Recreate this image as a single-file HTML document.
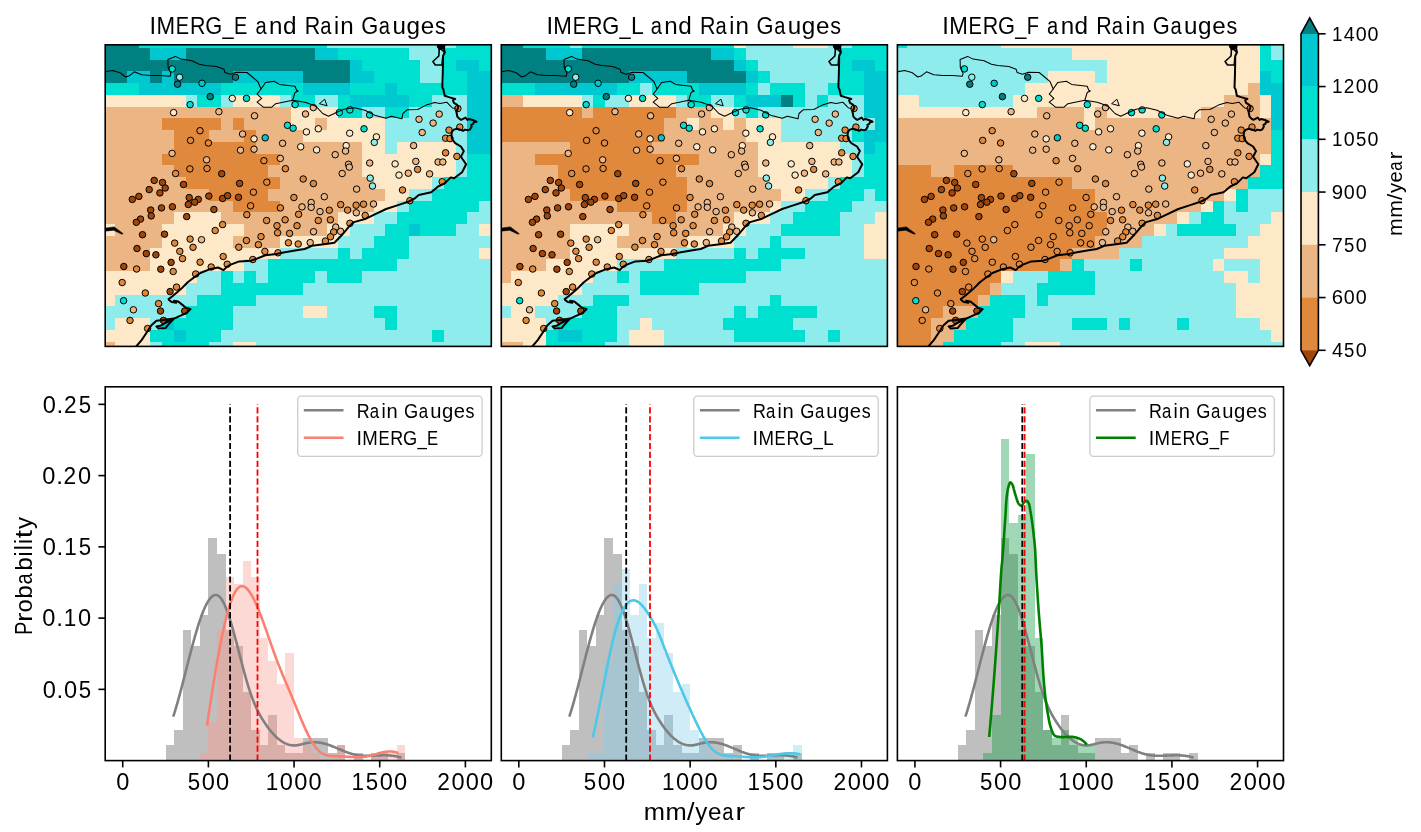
<!DOCTYPE html><html><head><meta charset="utf-8"><style>html,body{margin:0;padding:0;background:#fff;overflow:hidden}svg{display:block;will-change:transform}</style></head><body>
<svg width="1421" height="832" viewBox="0 0 1421 832">
<rect width="1421" height="832" fill="#fff"/>
<defs>
<clipPath id="mc0"><rect x="105.2" y="44.8" width="386.1" height="301.6"/></clipPath>
<clipPath id="mc1"><rect x="501.3" y="44.8" width="386.1" height="301.6"/></clipPath>
<clipPath id="mc2"><rect x="897.4" y="44.8" width="386.1" height="301.6"/></clipPath>
</defs>
<g clip-path="url(#mc0)" shape-rendering="crispEdges">
<rect x="103.41" y="36.2" width="35.28" height="11.8" fill="#008080"/>
<rect x="138.64" y="36.2" width="187.94" height="11.8" fill="#00e0d0"/>
<rect x="326.53" y="36.2" width="129.22" height="11.8" fill="#8eecec"/>
<rect x="455.7" y="36.2" width="35.28" height="11.8" fill="#00e0d0"/>
<rect x="103.41" y="47.95" width="47.02" height="11.8" fill="#008080"/>
<rect x="150.38" y="47.95" width="35.28" height="11.8" fill="#00c8d0"/>
<rect x="185.61" y="47.95" width="129.22" height="11.8" fill="#008080"/>
<rect x="314.78" y="47.95" width="23.54" height="11.8" fill="#00c8d0"/>
<rect x="338.27" y="47.95" width="70.51" height="11.8" fill="#00e0d0"/>
<rect x="408.73" y="47.95" width="35.28" height="11.8" fill="#8eecec"/>
<rect x="443.96" y="47.95" width="47.02" height="11.8" fill="#00e0d0"/>
<rect x="103.41" y="59.7" width="246.65" height="11.8" fill="#008080"/>
<rect x="350.01" y="59.7" width="11.79" height="11.8" fill="#00c8d0"/>
<rect x="361.76" y="59.7" width="58.77" height="11.8" fill="#00e0d0"/>
<rect x="420.47" y="59.7" width="23.54" height="11.8" fill="#8eecec"/>
<rect x="443.96" y="59.7" width="11.79" height="11.8" fill="#00e0d0"/>
<rect x="455.7" y="59.7" width="23.54" height="11.8" fill="#00c8d0"/>
<rect x="479.19" y="59.7" width="11.79" height="11.8" fill="#00e0d0"/>
<rect x="103.41" y="71.45" width="23.54" height="11.8" fill="#008080"/>
<rect x="126.9" y="71.45" width="23.54" height="11.8" fill="#00c8d0"/>
<rect x="150.38" y="71.45" width="11.79" height="11.8" fill="#008080"/>
<rect x="162.12" y="71.45" width="11.79" height="11.8" fill="#00c8d0"/>
<rect x="173.87" y="71.45" width="58.77" height="11.8" fill="#008080"/>
<rect x="232.58" y="71.45" width="70.51" height="11.8" fill="#00c8d0"/>
<rect x="303.04" y="71.45" width="47.02" height="11.8" fill="#008080"/>
<rect x="350.01" y="71.45" width="23.54" height="11.8" fill="#00c8d0"/>
<rect x="373.5" y="71.45" width="47.02" height="11.8" fill="#00e0d0"/>
<rect x="420.47" y="71.45" width="23.54" height="11.8" fill="#8eecec"/>
<rect x="443.96" y="71.45" width="23.54" height="11.8" fill="#00e0d0"/>
<rect x="467.44" y="71.45" width="23.54" height="11.8" fill="#00c8d0"/>
<rect x="103.41" y="83.2" width="35.28" height="11.8" fill="#00e0d0"/>
<rect x="138.64" y="83.2" width="82.25" height="11.8" fill="#00c8d0"/>
<rect x="220.84" y="83.2" width="82.25" height="11.8" fill="#00e0d0"/>
<rect x="303.04" y="83.2" width="47.02" height="11.8" fill="#00c8d0"/>
<rect x="350.01" y="83.2" width="35.28" height="11.8" fill="#00e0d0"/>
<rect x="385.24" y="83.2" width="11.79" height="11.8" fill="#00c8d0"/>
<rect x="396.99" y="83.2" width="70.51" height="11.8" fill="#00e0d0"/>
<rect x="467.44" y="83.2" width="23.54" height="11.8" fill="#00c8d0"/>
<rect x="103.41" y="94.95" width="82.25" height="11.8" fill="#fde8c8"/>
<rect x="185.61" y="94.95" width="11.79" height="11.8" fill="#8eecec"/>
<rect x="197.35" y="94.95" width="23.54" height="11.8" fill="#00e0d0"/>
<rect x="220.84" y="94.95" width="11.79" height="11.8" fill="#8eecec"/>
<rect x="232.58" y="94.95" width="47.02" height="11.8" fill="#fde8c8"/>
<rect x="279.56" y="94.95" width="11.79" height="11.8" fill="#8eecec"/>
<rect x="291.3" y="94.95" width="23.54" height="11.8" fill="#00e0d0"/>
<rect x="314.78" y="94.95" width="23.54" height="11.8" fill="#8eecec"/>
<rect x="338.27" y="94.95" width="11.79" height="11.8" fill="#00e0d0"/>
<rect x="350.01" y="94.95" width="58.76" height="11.8" fill="#00c8d0"/>
<rect x="408.73" y="94.95" width="23.54" height="11.8" fill="#00e0d0"/>
<rect x="432.21" y="94.95" width="35.28" height="11.8" fill="#8eecec"/>
<rect x="467.44" y="94.95" width="23.54" height="11.8" fill="#00c8d0"/>
<rect x="103.41" y="106.7" width="187.94" height="11.8" fill="#ebb584"/>
<rect x="291.3" y="106.7" width="47.02" height="11.8" fill="#fde8c8"/>
<rect x="338.27" y="106.7" width="23.54" height="11.8" fill="#00e0d0"/>
<rect x="361.76" y="106.7" width="23.54" height="11.8" fill="#8eecec"/>
<rect x="385.24" y="106.7" width="23.54" height="11.8" fill="#00e0d0"/>
<rect x="408.73" y="106.7" width="58.77" height="11.8" fill="#8eecec"/>
<rect x="467.44" y="106.7" width="23.54" height="11.8" fill="#00c8d0"/>
<rect x="103.41" y="118.45" width="58.77" height="11.8" fill="#ebb584"/>
<rect x="162.12" y="118.45" width="58.77" height="11.8" fill="#e0883c"/>
<rect x="220.84" y="118.45" width="11.79" height="11.8" fill="#ebb584"/>
<rect x="232.58" y="118.45" width="11.79" height="11.8" fill="#e0883c"/>
<rect x="244.33" y="118.45" width="47.02" height="11.8" fill="#ebb584"/>
<rect x="291.3" y="118.45" width="23.54" height="11.8" fill="#fde8c8"/>
<rect x="314.78" y="118.45" width="11.79" height="11.8" fill="#ebb584"/>
<rect x="326.53" y="118.45" width="58.76" height="11.8" fill="#fde8c8"/>
<rect x="385.24" y="118.45" width="82.25" height="11.8" fill="#8eecec"/>
<rect x="467.44" y="118.45" width="23.54" height="11.8" fill="#00c8d0"/>
<rect x="103.41" y="130.2" width="70.51" height="11.8" fill="#ebb584"/>
<rect x="173.87" y="130.2" width="35.28" height="11.8" fill="#e0883c"/>
<rect x="209.1" y="130.2" width="35.28" height="11.8" fill="#ebb584"/>
<rect x="244.33" y="130.2" width="11.79" height="11.8" fill="#e0883c"/>
<rect x="256.07" y="130.2" width="47.02" height="11.8" fill="#ebb584"/>
<rect x="303.04" y="130.2" width="82.25" height="11.8" fill="#fde8c8"/>
<rect x="385.24" y="130.2" width="82.25" height="11.8" fill="#8eecec"/>
<rect x="467.44" y="130.2" width="23.54" height="11.8" fill="#00c8d0"/>
<rect x="103.41" y="141.95" width="70.51" height="11.8" fill="#ebb584"/>
<rect x="173.87" y="141.95" width="82.25" height="11.8" fill="#e0883c"/>
<rect x="256.07" y="141.95" width="105.74" height="11.8" fill="#ebb584"/>
<rect x="361.76" y="141.95" width="23.54" height="11.8" fill="#fde8c8"/>
<rect x="385.24" y="141.95" width="11.79" height="11.8" fill="#8eecec"/>
<rect x="396.99" y="141.95" width="58.77" height="11.8" fill="#fde8c8"/>
<rect x="455.7" y="141.95" width="11.79" height="11.8" fill="#8eecec"/>
<rect x="467.44" y="141.95" width="23.54" height="11.8" fill="#00c8d0"/>
<rect x="103.41" y="153.7" width="58.77" height="11.8" fill="#ebb584"/>
<rect x="162.12" y="153.7" width="117.48" height="11.8" fill="#e0883c"/>
<rect x="279.56" y="153.7" width="82.25" height="11.8" fill="#ebb584"/>
<rect x="361.76" y="153.7" width="93.99" height="11.8" fill="#fde8c8"/>
<rect x="455.7" y="153.7" width="11.79" height="11.8" fill="#8eecec"/>
<rect x="467.44" y="153.7" width="23.54" height="11.8" fill="#00e0d0"/>
<rect x="103.41" y="165.45" width="70.51" height="11.8" fill="#ebb584"/>
<rect x="173.87" y="165.45" width="93.99" height="11.8" fill="#e0883c"/>
<rect x="267.81" y="165.45" width="93.99" height="11.8" fill="#ebb584"/>
<rect x="361.76" y="165.45" width="93.99" height="11.8" fill="#fde8c8"/>
<rect x="455.7" y="165.45" width="11.79" height="11.8" fill="#8eecec"/>
<rect x="467.44" y="165.45" width="23.54" height="11.8" fill="#00e0d0"/>
<rect x="103.41" y="177.2" width="82.25" height="11.8" fill="#ebb584"/>
<rect x="185.61" y="177.2" width="93.99" height="11.8" fill="#e0883c"/>
<rect x="279.56" y="177.2" width="93.99" height="11.8" fill="#ebb584"/>
<rect x="373.5" y="177.2" width="58.77" height="11.8" fill="#fde8c8"/>
<rect x="432.21" y="177.2" width="11.79" height="11.8" fill="#8eecec"/>
<rect x="443.96" y="177.2" width="47.02" height="11.8" fill="#00e0d0"/>
<rect x="103.41" y="188.95" width="105.74" height="11.8" fill="#ebb584"/>
<rect x="209.1" y="188.95" width="58.77" height="11.8" fill="#e0883c"/>
<rect x="267.81" y="188.95" width="117.48" height="11.8" fill="#ebb584"/>
<rect x="385.24" y="188.95" width="23.54" height="11.8" fill="#fde8c8"/>
<rect x="408.73" y="188.95" width="23.54" height="11.8" fill="#8eecec"/>
<rect x="432.21" y="188.95" width="58.76" height="11.8" fill="#00e0d0"/>
<rect x="103.41" y="200.7" width="129.22" height="11.8" fill="#ebb584"/>
<rect x="232.58" y="200.7" width="47.02" height="11.8" fill="#e0883c"/>
<rect x="279.56" y="200.7" width="93.99" height="11.8" fill="#ebb584"/>
<rect x="373.5" y="200.7" width="23.54" height="11.8" fill="#fde8c8"/>
<rect x="396.99" y="200.7" width="11.79" height="11.8" fill="#8eecec"/>
<rect x="408.73" y="200.7" width="70.51" height="11.8" fill="#00e0d0"/>
<rect x="479.19" y="200.7" width="11.79" height="11.8" fill="#8eecec"/>
<rect x="103.41" y="212.45" width="70.51" height="11.8" fill="#ebb584"/>
<rect x="173.87" y="212.45" width="47.02" height="11.8" fill="#fde8c8"/>
<rect x="220.84" y="212.45" width="117.48" height="11.8" fill="#ebb584"/>
<rect x="338.27" y="212.45" width="35.28" height="11.8" fill="#fde8c8"/>
<rect x="373.5" y="212.45" width="23.54" height="11.8" fill="#8eecec"/>
<rect x="396.99" y="212.45" width="70.51" height="11.8" fill="#00e0d0"/>
<rect x="467.44" y="212.45" width="23.54" height="11.8" fill="#8eecec"/>
<rect x="103.41" y="224.2" width="11.79" height="11.8" fill="#fde8c8"/>
<rect x="115.15" y="224.2" width="47.02" height="11.8" fill="#ebb584"/>
<rect x="162.12" y="224.2" width="82.25" height="11.8" fill="#fde8c8"/>
<rect x="244.33" y="224.2" width="82.25" height="11.8" fill="#ebb584"/>
<rect x="326.53" y="224.2" width="23.54" height="11.8" fill="#fde8c8"/>
<rect x="350.01" y="224.2" width="35.28" height="11.8" fill="#8eecec"/>
<rect x="385.24" y="224.2" width="23.54" height="11.8" fill="#00e0d0"/>
<rect x="408.73" y="224.2" width="11.79" height="11.8" fill="#00c8d0"/>
<rect x="420.47" y="224.2" width="35.28" height="11.8" fill="#00e0d0"/>
<rect x="455.7" y="224.2" width="23.54" height="11.8" fill="#8eecec"/>
<rect x="479.19" y="224.2" width="11.79" height="11.8" fill="#fde8c8"/>
<rect x="103.41" y="235.95" width="58.77" height="11.8" fill="#ebb584"/>
<rect x="162.12" y="235.95" width="70.51" height="11.8" fill="#fde8c8"/>
<rect x="232.58" y="235.95" width="47.02" height="11.8" fill="#ebb584"/>
<rect x="279.56" y="235.95" width="58.76" height="11.8" fill="#fde8c8"/>
<rect x="338.27" y="235.95" width="35.28" height="11.8" fill="#8eecec"/>
<rect x="373.5" y="235.95" width="35.28" height="11.8" fill="#00e0d0"/>
<rect x="408.73" y="235.95" width="82.25" height="11.8" fill="#8eecec"/>
<rect x="103.41" y="247.7" width="47.02" height="11.8" fill="#ebb584"/>
<rect x="150.38" y="247.7" width="129.22" height="11.8" fill="#fde8c8"/>
<rect x="279.56" y="247.7" width="58.76" height="11.8" fill="#8eecec"/>
<rect x="338.27" y="247.7" width="11.79" height="11.8" fill="#00e0d0"/>
<rect x="350.01" y="247.7" width="11.79" height="11.8" fill="#8eecec"/>
<rect x="361.76" y="247.7" width="47.02" height="11.8" fill="#00e0d0"/>
<rect x="408.73" y="247.7" width="70.51" height="11.8" fill="#8eecec"/>
<rect x="479.19" y="247.7" width="11.79" height="11.8" fill="#fde8c8"/>
<rect x="103.41" y="259.45" width="47.02" height="11.8" fill="#ebb584"/>
<rect x="150.38" y="259.45" width="93.99" height="11.8" fill="#fde8c8"/>
<rect x="244.33" y="259.45" width="23.54" height="11.8" fill="#8eecec"/>
<rect x="267.81" y="259.45" width="129.22" height="11.8" fill="#00e0d0"/>
<rect x="396.99" y="259.45" width="93.99" height="11.8" fill="#8eecec"/>
<rect x="103.41" y="271.2" width="93.99" height="11.8" fill="#fde8c8"/>
<rect x="197.35" y="271.2" width="23.54" height="11.8" fill="#8eecec"/>
<rect x="220.84" y="271.2" width="11.79" height="11.8" fill="#00e0d0"/>
<rect x="232.58" y="271.2" width="11.79" height="11.8" fill="#8eecec"/>
<rect x="244.33" y="271.2" width="11.79" height="11.8" fill="#00e0d0"/>
<rect x="256.07" y="271.2" width="11.79" height="11.8" fill="#8eecec"/>
<rect x="267.81" y="271.2" width="47.02" height="11.8" fill="#00e0d0"/>
<rect x="314.78" y="271.2" width="11.79" height="11.8" fill="#8eecec"/>
<rect x="326.53" y="271.2" width="35.28" height="11.8" fill="#00e0d0"/>
<rect x="361.76" y="271.2" width="129.22" height="11.8" fill="#8eecec"/>
<rect x="103.41" y="282.95" width="82.25" height="11.8" fill="#fde8c8"/>
<rect x="185.61" y="282.95" width="35.28" height="11.8" fill="#8eecec"/>
<rect x="220.84" y="282.95" width="82.25" height="11.8" fill="#00e0d0"/>
<rect x="303.04" y="282.95" width="187.94" height="11.8" fill="#8eecec"/>
<rect x="103.41" y="294.7" width="11.79" height="11.8" fill="#fde8c8"/>
<rect x="115.15" y="294.7" width="82.25" height="11.8" fill="#8eecec"/>
<rect x="197.35" y="294.7" width="58.76" height="11.8" fill="#00e0d0"/>
<rect x="256.07" y="294.7" width="234.91" height="11.8" fill="#8eecec"/>
<rect x="103.41" y="306.45" width="82.25" height="11.8" fill="#8eecec"/>
<rect x="185.61" y="306.45" width="47.02" height="11.8" fill="#00e0d0"/>
<rect x="232.58" y="306.45" width="70.51" height="11.8" fill="#8eecec"/>
<rect x="303.04" y="306.45" width="23.54" height="11.8" fill="#fde8c8"/>
<rect x="326.53" y="306.45" width="47.02" height="11.8" fill="#8eecec"/>
<rect x="373.5" y="306.45" width="23.54" height="11.8" fill="#00e0d0"/>
<rect x="396.99" y="306.45" width="93.99" height="11.8" fill="#8eecec"/>
<rect x="103.41" y="318.2" width="11.79" height="11.8" fill="#8eecec"/>
<rect x="115.15" y="318.2" width="35.28" height="11.8" fill="#fde8c8"/>
<rect x="150.38" y="318.2" width="11.79" height="11.8" fill="#8eecec"/>
<rect x="162.12" y="318.2" width="11.79" height="11.8" fill="#00c8d0"/>
<rect x="173.87" y="318.2" width="58.77" height="11.8" fill="#00e0d0"/>
<rect x="232.58" y="318.2" width="152.71" height="11.8" fill="#8eecec"/>
<rect x="385.24" y="318.2" width="11.79" height="11.8" fill="#00e0d0"/>
<rect x="396.99" y="318.2" width="93.99" height="11.8" fill="#8eecec"/>
<rect x="103.41" y="329.95" width="47.02" height="11.8" fill="#fde8c8"/>
<rect x="150.38" y="329.95" width="23.54" height="11.8" fill="#00e0d0"/>
<rect x="173.87" y="329.95" width="11.79" height="11.8" fill="#00c8d0"/>
<rect x="185.61" y="329.95" width="35.28" height="11.8" fill="#00e0d0"/>
<rect x="220.84" y="329.95" width="211.42" height="11.8" fill="#8eecec"/>
<rect x="432.21" y="329.95" width="11.79" height="11.8" fill="#00e0d0"/>
<rect x="443.96" y="329.95" width="47.02" height="11.8" fill="#8eecec"/>
<rect x="103.41" y="341.7" width="11.79" height="11.8" fill="#ebb584"/>
<rect x="115.15" y="341.7" width="35.28" height="11.8" fill="#fde8c8"/>
<rect x="150.38" y="341.7" width="11.79" height="11.8" fill="#8eecec"/>
<rect x="162.12" y="341.7" width="47.02" height="11.8" fill="#00e0d0"/>
<rect x="209.1" y="341.7" width="23.54" height="11.8" fill="#8eecec"/>
<rect x="232.58" y="341.7" width="23.54" height="11.8" fill="#fde8c8"/>
<rect x="256.07" y="341.7" width="234.91" height="11.8" fill="#8eecec"/>
</g>
<g stroke="#000" stroke-width="1.0">
<circle cx="172.2" cy="68.9" r="3.25" fill="#00e0d0"/>
<circle cx="179.6" cy="77.2" r="3.25" fill="#8eecec"/>
<circle cx="177.6" cy="84.2" r="3.25" fill="#008080"/>
<circle cx="202" cy="83.3" r="3.25" fill="#00c8d0"/>
<circle cx="210.2" cy="96.6" r="3.25" fill="#008080"/>
<circle cx="190.1" cy="104.6" r="3.25" fill="#00e0d0"/>
<circle cx="173.6" cy="112.6" r="3.25" fill="#fde8c8"/>
<circle cx="218.9" cy="111.7" r="3.25" fill="#ebb584"/>
<circle cx="235.5" cy="77.2" r="3.25" fill="#008080"/>
<circle cx="232.3" cy="98.4" r="3.25" fill="#fde8c8"/>
<circle cx="246.5" cy="98.4" r="3.25" fill="#00e0d0"/>
<circle cx="254.5" cy="115.8" r="3.25" fill="#ebb584"/>
<circle cx="295.1" cy="104.6" r="3.25" fill="#00e0d0"/>
<circle cx="313.3" cy="107.6" r="3.25" fill="#ebb584"/>
<circle cx="305.5" cy="114" r="3.25" fill="#ebb584"/>
<circle cx="339.3" cy="112.6" r="3.25" fill="#00e0d0"/>
<circle cx="349.9" cy="109.9" r="3.25" fill="#00e0d0"/>
<circle cx="287.5" cy="125.3" r="3.25" fill="#00e0d0"/>
<circle cx="293.1" cy="128.2" r="3.25" fill="#00e0d0"/>
<circle cx="369.6" cy="114.9" r="3.25" fill="#00e0d0"/>
<circle cx="419" cy="119.3" r="3.25" fill="#ebb584"/>
<circle cx="439.2" cy="114.1" r="3.25" fill="#ebb584"/>
<circle cx="433.1" cy="123.1" r="3.25" fill="#ebb584"/>
<circle cx="457.9" cy="108.5" r="3.25" fill="#e0883c"/>
<circle cx="449" cy="130.1" r="3.25" fill="#e0883c"/>
<circle cx="459.8" cy="127.1" r="3.25" fill="#e0883c"/>
<circle cx="422.2" cy="132.5" r="3.25" fill="#ebb584"/>
<circle cx="445.6" cy="138.2" r="3.25" fill="#e0883c"/>
<circle cx="450" cy="138.6" r="3.25" fill="#e0883c"/>
<circle cx="413.6" cy="145.6" r="3.25" fill="#ebb584"/>
<circle cx="445.6" cy="152.8" r="3.25" fill="#e0883c"/>
<circle cx="456.9" cy="156.4" r="3.25" fill="#e0883c"/>
<circle cx="415.8" cy="161.4" r="3.25" fill="#ebb584"/>
<circle cx="417.6" cy="169.4" r="3.25" fill="#e0883c"/>
<circle cx="438.1" cy="162" r="3.25" fill="#ebb584"/>
<circle cx="442.8" cy="162" r="3.25" fill="#ebb584"/>
<circle cx="408.3" cy="173.2" r="3.25" fill="#ebb584"/>
<circle cx="429.6" cy="173.9" r="3.25" fill="#ebb584"/>
<circle cx="442.2" cy="181.7" r="3.25" fill="#e0883c"/>
<circle cx="409.8" cy="200.7" r="3.25" fill="#e0883c"/>
<circle cx="200" cy="130.7" r="3.25" fill="#e0883c"/>
<circle cx="190.5" cy="140.4" r="3.25" fill="#e0883c"/>
<circle cx="208.4" cy="143" r="3.25" fill="#e0883c"/>
<circle cx="172.1" cy="153.4" r="3.25" fill="#ebb584"/>
<circle cx="206.6" cy="159.8" r="3.25" fill="#ebb584"/>
<circle cx="189.9" cy="168.9" r="3.25" fill="#e0883c"/>
<circle cx="207" cy="168.5" r="3.25" fill="#e0883c"/>
<circle cx="175.6" cy="173.5" r="3.25" fill="#e0883c"/>
<circle cx="221.7" cy="173.7" r="3.25" fill="#a0460a"/>
<circle cx="154.2" cy="180.4" r="3.25" fill="#a0460a"/>
<circle cx="162.5" cy="182.5" r="3.25" fill="#a0460a"/>
<circle cx="183.5" cy="184.5" r="3.25" fill="#a0460a"/>
<circle cx="165.2" cy="188" r="3.25" fill="#a0460a"/>
<circle cx="149.2" cy="189.6" r="3.25" fill="#a0460a"/>
<circle cx="159.9" cy="192.9" r="3.25" fill="#a0460a"/>
<circle cx="138.9" cy="196.4" r="3.25" fill="#a0460a"/>
<circle cx="132.3" cy="199.4" r="3.25" fill="#a0460a"/>
<circle cx="189.2" cy="197.6" r="3.25" fill="#a0460a"/>
<circle cx="198.3" cy="199.4" r="3.25" fill="#a0460a"/>
<circle cx="194.7" cy="202.2" r="3.25" fill="#a0460a"/>
<circle cx="188.3" cy="204.5" r="3.25" fill="#a0460a"/>
<circle cx="208.8" cy="196.1" r="3.25" fill="#a0460a"/>
<circle cx="222.6" cy="198.5" r="3.25" fill="#a0460a"/>
<circle cx="227.6" cy="195.7" r="3.25" fill="#a0460a"/>
<circle cx="150.7" cy="210" r="3.25" fill="#a0460a"/>
<circle cx="161.5" cy="207.9" r="3.25" fill="#a0460a"/>
<circle cx="172.4" cy="206.8" r="3.25" fill="#a0460a"/>
<circle cx="151.2" cy="215.9" r="3.25" fill="#a0460a"/>
<circle cx="140.5" cy="219.1" r="3.25" fill="#a0460a"/>
<circle cx="136.3" cy="222.3" r="3.25" fill="#a0460a"/>
<circle cx="186.7" cy="216.6" r="3.25" fill="#a0460a"/>
<circle cx="213.9" cy="209.5" r="3.25" fill="#a0460a"/>
<circle cx="142.5" cy="234.7" r="3.25" fill="#a0460a"/>
<circle cx="164.5" cy="234.2" r="3.25" fill="#a0460a"/>
<circle cx="222.6" cy="224.6" r="3.25" fill="#e0883c"/>
<circle cx="215.2" cy="230.5" r="3.25" fill="#e0883c"/>
<circle cx="190.1" cy="239.1" r="3.25" fill="#e0883c"/>
<circle cx="201.5" cy="239.7" r="3.25" fill="#ebb584"/>
<circle cx="174.7" cy="243.1" r="3.25" fill="#e0883c"/>
<circle cx="193" cy="247.3" r="3.25" fill="#e0883c"/>
<circle cx="137" cy="248.5" r="3.25" fill="#a0460a"/>
<circle cx="179.8" cy="251.3" r="3.25" fill="#e0883c"/>
<circle cx="146.3" cy="253.6" r="3.25" fill="#a0460a"/>
<circle cx="155.9" cy="254.8" r="3.25" fill="#a0460a"/>
<circle cx="182.5" cy="258.6" r="3.25" fill="#e0883c"/>
<circle cx="223.2" cy="256.5" r="3.25" fill="#e0883c"/>
<circle cx="242.6" cy="134" r="3.25" fill="#ebb584"/>
<circle cx="254" cy="138.9" r="3.25" fill="#fde8c8"/>
<circle cx="265.2" cy="137.8" r="3.25" fill="#00c8d0"/>
<circle cx="306.4" cy="131.9" r="3.25" fill="#fde8c8"/>
<circle cx="318.3" cy="128.8" r="3.25" fill="#fde8c8"/>
<circle cx="349.7" cy="133.2" r="3.25" fill="#fde8c8"/>
<circle cx="282.6" cy="143.3" r="3.25" fill="#ebb584"/>
<circle cx="300.7" cy="146.8" r="3.25" fill="#fde8c8"/>
<circle cx="316.6" cy="149.9" r="3.25" fill="#fde8c8"/>
<circle cx="346.2" cy="145.6" r="3.25" fill="#fde8c8"/>
<circle cx="345.5" cy="151.1" r="3.25" fill="#ebb584"/>
<circle cx="335.2" cy="154.7" r="3.25" fill="#ebb584"/>
<circle cx="240.5" cy="150.2" r="3.25" fill="#ebb584"/>
<circle cx="254" cy="149.2" r="3.25" fill="#ebb584"/>
<circle cx="263.9" cy="160.7" r="3.25" fill="#e0883c"/>
<circle cx="280.3" cy="158.4" r="3.25" fill="#ebb584"/>
<circle cx="348.5" cy="164.3" r="3.25" fill="#ebb584"/>
<circle cx="349.3" cy="167.1" r="3.25" fill="#ebb584"/>
<circle cx="285.4" cy="168.7" r="3.25" fill="#e0883c"/>
<circle cx="342.2" cy="173.5" r="3.25" fill="#ebb584"/>
<circle cx="303.2" cy="179" r="3.25" fill="#e0883c"/>
<circle cx="313.4" cy="183.6" r="3.25" fill="#e0883c"/>
<circle cx="239.6" cy="183.4" r="3.25" fill="#a0460a"/>
<circle cx="266.8" cy="182.2" r="3.25" fill="#e0883c"/>
<circle cx="356.6" cy="189.1" r="3.25" fill="#ebb584"/>
<circle cx="364" cy="128.8" r="3.25" fill="#00e0d0"/>
<circle cx="376.4" cy="136.9" r="3.25" fill="#fde8c8"/>
<circle cx="374.3" cy="142.4" r="3.25" fill="#8eecec"/>
<circle cx="369.7" cy="163" r="3.25" fill="#ebb584"/>
<circle cx="395.1" cy="163.9" r="3.25" fill="#fde8c8"/>
<circle cx="399" cy="175.1" r="3.25" fill="#fde8c8"/>
<circle cx="370.2" cy="178.1" r="3.25" fill="#8eecec"/>
<circle cx="372.5" cy="186" r="3.25" fill="#8eecec"/>
<circle cx="402.5" cy="190" r="3.25" fill="#e0883c"/>
<circle cx="238.5" cy="197.3" r="3.25" fill="#a0460a"/>
<circle cx="253.4" cy="192.2" r="3.25" fill="#e0883c"/>
<circle cx="250.6" cy="205.8" r="3.25" fill="#e0883c"/>
<circle cx="246.8" cy="214.7" r="3.25" fill="#e0883c"/>
<circle cx="280.4" cy="207.9" r="3.25" fill="#e0883c"/>
<circle cx="293.9" cy="197.5" r="3.25" fill="#e0883c"/>
<circle cx="266.6" cy="220.5" r="3.25" fill="#e0883c"/>
<circle cx="285.1" cy="219.8" r="3.25" fill="#e0883c"/>
<circle cx="277" cy="225.7" r="3.25" fill="#e0883c"/>
<circle cx="277.6" cy="232.8" r="3.25" fill="#e0883c"/>
<circle cx="289.6" cy="233.4" r="3.25" fill="#e0883c"/>
<circle cx="297" cy="225.7" r="3.25" fill="#e0883c"/>
<circle cx="298.6" cy="214.3" r="3.25" fill="#e0883c"/>
<circle cx="302" cy="206.9" r="3.25" fill="#ebb584"/>
<circle cx="311.2" cy="202.5" r="3.25" fill="#ebb584"/>
<circle cx="311.2" cy="207.3" r="3.25" fill="#ebb584"/>
<circle cx="324.3" cy="196.7" r="3.25" fill="#ebb584"/>
<circle cx="320" cy="211.6" r="3.25" fill="#ebb584"/>
<circle cx="329.3" cy="210.2" r="3.25" fill="#e0883c"/>
<circle cx="340.7" cy="204.6" r="3.25" fill="#e0883c"/>
<circle cx="347.6" cy="210.1" r="3.25" fill="#e0883c"/>
<circle cx="318.3" cy="220.5" r="3.25" fill="#e0883c"/>
<circle cx="330.4" cy="219.8" r="3.25" fill="#e0883c"/>
<circle cx="313.5" cy="231.7" r="3.25" fill="#ebb584"/>
<circle cx="335.7" cy="227.1" r="3.25" fill="#ebb584"/>
<circle cx="333.6" cy="232" r="3.25" fill="#e0883c"/>
<circle cx="340.6" cy="231.3" r="3.25" fill="#ebb584"/>
<circle cx="330.5" cy="236.8" r="3.25" fill="#e0883c"/>
<circle cx="325.4" cy="241" r="3.25" fill="#e0883c"/>
<circle cx="349.9" cy="223.3" r="3.25" fill="#e0883c"/>
<circle cx="310.2" cy="242.6" r="3.25" fill="#ebb584"/>
<circle cx="298.2" cy="244" r="3.25" fill="#e0883c"/>
<circle cx="288.4" cy="242.8" r="3.25" fill="#e0883c"/>
<circle cx="261" cy="236.6" r="3.25" fill="#e0883c"/>
<circle cx="246.4" cy="240.5" r="3.25" fill="#e0883c"/>
<circle cx="258.4" cy="244.7" r="3.25" fill="#e0883c"/>
<circle cx="238.8" cy="247.2" r="3.25" fill="#e0883c"/>
<circle cx="264.9" cy="251.4" r="3.25" fill="#e0883c"/>
<circle cx="278" cy="252.8" r="3.25" fill="#e0883c"/>
<circle cx="252.8" cy="259.5" r="3.25" fill="#e0883c"/>
<circle cx="356.1" cy="205.2" r="3.25" fill="#e0883c"/>
<circle cx="363.5" cy="204.2" r="3.25" fill="#e0883c"/>
<circle cx="373.5" cy="204" r="3.25" fill="#ebb584"/>
<circle cx="356.3" cy="212.8" r="3.25" fill="#ebb584"/>
<circle cx="365.2" cy="215.4" r="3.25" fill="#e0883c"/>
<circle cx="171.1" cy="262.4" r="3.25" fill="#a0460a"/>
<circle cx="200.1" cy="262.2" r="3.25" fill="#e0883c"/>
<circle cx="227.2" cy="264.2" r="3.25" fill="#e0883c"/>
<circle cx="211.2" cy="267" r="3.25" fill="#e0883c"/>
<circle cx="123.8" cy="266.5" r="3.25" fill="#a0460a"/>
<circle cx="136.6" cy="269" r="3.25" fill="#e0883c"/>
<circle cx="160.8" cy="269.2" r="3.25" fill="#a0460a"/>
<circle cx="173.2" cy="271.5" r="3.25" fill="#e0883c"/>
<circle cx="195.7" cy="274" r="3.25" fill="#e0883c"/>
<circle cx="122.2" cy="282.5" r="3.25" fill="#e0883c"/>
<circle cx="145.3" cy="293" r="3.25" fill="#e0883c"/>
<circle cx="170.1" cy="291.6" r="3.25" fill="#a0460a"/>
<circle cx="176.5" cy="287.1" r="3.25" fill="#e0883c"/>
<circle cx="123.6" cy="300.7" r="3.25" fill="#00e0d0"/>
<circle cx="158.6" cy="303.6" r="3.25" fill="#e0883c"/>
<circle cx="133.4" cy="309.8" r="3.25" fill="#ebb584"/>
<circle cx="160.5" cy="311" r="3.25" fill="#a0460a"/>
<circle cx="184.7" cy="311" r="3.25" fill="#a0460a"/>
<circle cx="130" cy="320.4" r="3.25" fill="#e0883c"/>
<circle cx="163.4" cy="320.4" r="3.25" fill="#a0460a"/>
<circle cx="147.6" cy="328.5" r="3.25" fill="#e0883c"/>
</g>
<g fill="none" stroke="#000" stroke-linejoin="round" stroke-linecap="round" clip-path="url(#mc0)">
<polyline points="104,72 112.3,70.6 119.6,72.4 125.6,77 128.8,76.1 134.3,71.8 141.6,74.7 150.7,75.4 159.9,75.6 170,76.3 170.9,73.3 168.1,67.4 167.9,59.6 175.4,56.4 180.9,59.1 191.9,60.8 199.2,64.2 205.6,65.6 216.6,66.5 223.9,69.2 224.9,72.4 230.3,74.2 236.2,72.2 247,72.5 252.4,77 257.9,81.7 261,89 257.1,94.1 261.7,98.3 257.1,102.2 263.3,107.2 271.8,107.2 275.7,103.7 292.7,100.2 305,102.3 310,104 316.3,106.6 322.7,113.5 328.5,116.2 336.4,112.5 343.8,109.3 354.4,107.7 364.9,110.3 375.5,115.6 386,118.3 391.3,116.2 401.9,118.8 402.9,113.5 407.1,109.8 417.7,109.5 426.2,105.1 434.6,102.4 440,103.4 446.7,102.2 449.6,105.1 452.5,108 455.8,108.2" stroke-width="1.05"/>
<polyline points="261,89 265.6,82.4 274.1,81.3 279.5,84.4 295,86.3 296.6,90.2 298.1,91 295,92.5 292.7,100.2" stroke-width="1.05"/>
<polygon points="324.4,99.5 319.4,103.7 326.7,105.7" stroke-width="1.0"/>
<polyline points="135.3,347.5 141.6,340.1 147.2,331.7 151.4,325.3 156.4,320.8 163.4,320.1 174,318.6 168.3,324.6 165.5,328.1 158.5,328.5 156.4,326.4 160.5,325.8 166,322.5 174,318.6 181.7,315.1 186.6,313 190.5,309.1 185.9,307.7 182.4,304.9 178.2,301.4 174,300.7 176.1,302.8 171.9,302.1 169,300 168.6,299.1 172.4,296.3 176.6,292.8 180.9,289.1 187.7,282.3 193.6,277.7 200.3,273 208.8,269.6 218.1,267.5 223.6,270.1 226.5,267.1 230.7,264.6 239.2,261.4 251,260.8 256.9,258.6 265.4,255.3 276.4,254 284.8,252.3 295,250.6 304.6,249 312,245.8 325.7,244 334.4,242.8 341.2,235.8 348.6,227.1 354,222.1 365.9,218.7 376.9,213.4 386.1,209 398,205.1 408.9,201.5 414.4,198.7 418.7,195 431.3,192.2 438.1,186.5 445,183.1 450.7,177.4 454.1,178.3 462.1,172.2 466.1,164.2 460.9,156.8 463.8,151.1 460.9,146.5 455.2,143.1 452.4,139.7 451.4,135 452,131.5 453.9,129.6 456.8,128.7 460.2,129.6 463.1,130.8 465,129.6 467.9,130.3 469.8,129.6 470.8,128.2 471.7,126.3 471.3,124.8 473.2,123.8 473.7,122.4 476.5,121.7 472.7,120 468.8,119 467.4,120 465.5,117.6 461.2,119.8 459.2,118.6 457.3,116.6 456.8,113.8 456.3,111.3 457.8,108.9 458.3,106.5 456.8,104.6 453.9,102.9 453,100.3 453.9,99.3 455.2,99 448.9,97.1 444.7,95.7 443.4,89.5 442.3,87.4 442.7,76.9 443,62.9 443,56 444.7,52.5 444.1,49 443,44" stroke-width="2.0"/>
<polyline points="444.8,52.3 438.6,47 439.2,50.4 438.8,56 432.9,61.5 435.3,65 442,65 442.6,58" stroke-width="1.6"/>
<polygon points="437.5,45 445,45 444.5,48 441,49.5 438,48" fill="#000" stroke-width="1.0"/>
<polygon points="104.5,228.2 114.2,226.9 123.2,233.7 121.6,234.1 113.6,230.2 104.5,231.2" fill="#000" stroke-width="0.6"/>
</g>
<rect x="105.2" y="44.8" width="386.1" height="301.6" fill="none" stroke="#000" stroke-width="1.6"/>
<g font-family="Liberation Sans, sans-serif" font-size="23.52"><text x="-3.27" y="0" transform="translate(0,33.6) translate(152.74,0) scale(1.007,1)">I</text><text x="-9.8" y="0" transform="translate(0,33.6) translate(165.71,0) scale(0.950,1)">M</text><text x="-8.3" y="0" transform="translate(0,33.6) translate(182.83,0) scale(0.850,1)">E</text><text x="-8.91" y="0" transform="translate(0,33.6) translate(198.08,0) scale(0.911,1)">R</text><text x="-8.86" y="0" transform="translate(0,33.6) translate(213.47,0) scale(0.929,1)">G</text><text x="-6.49" y="0" transform="translate(0,33.6) translate(228.04,0) scale(0.850,1)">_</text><text x="-8.3" y="0" transform="translate(0,33.6) translate(241.1,0) scale(0.850,1)">E</text><text x="-7.04" y="0" transform="translate(0,33.6) translate(261.43,0) scale(0.856,1)">a</text><text x="-6.56" y="0" transform="translate(0,33.6) translate(275.81,0) scale(1.027,1)">n</text><text x="-6.28" y="0" transform="translate(0,33.6) translate(289.55,0) scale(1.035,1)">d</text><text x="-8.91" y="0" transform="translate(0,33.6) translate(312.74,0) scale(0.911,1)">R</text><text x="-7.04" y="0" transform="translate(0,33.6) translate(326.26,0) scale(0.856,1)">a</text><text x="-2.61" y="0" transform="translate(0,33.6) translate(336.59,0) scale(0.974,1)">i</text><text x="-6.56" y="0" transform="translate(0,33.6) translate(346.86,0) scale(1.027,1)">n</text><text x="-8.86" y="0" transform="translate(0,33.6) translate(369.4,0) scale(0.929,1)">G</text><text x="-7.04" y="0" transform="translate(0,33.6) translate(384.89,0) scale(0.856,1)">a</text><text x="-6.52" y="0" transform="translate(0,33.6) translate(399.13,0) scale(1.027,1)">u</text><text x="-6.28" y="0" transform="translate(0,33.6) translate(413,0) scale(1.035,1)">g</text><text x="-6.52" y="0" transform="translate(0,33.6) translate(427.42,0) scale(1.029,1)">e</text><text x="-5.78" y="0" transform="translate(0,33.6) translate(440.19,0) scale(0.913,1)">s</text></g>
<g clip-path="url(#mc1)" shape-rendering="crispEdges">
<rect x="499.51" y="36.2" width="23.54" height="11.8" fill="#008080"/>
<rect x="523" y="36.2" width="47.02" height="11.8" fill="#00e0d0"/>
<rect x="569.97" y="36.2" width="11.79" height="11.8" fill="#8eecec"/>
<rect x="581.71" y="36.2" width="152.71" height="11.8" fill="#00e0d0"/>
<rect x="734.37" y="36.2" width="11.79" height="11.8" fill="#fde8c8"/>
<rect x="746.11" y="36.2" width="47.02" height="11.8" fill="#8eecec"/>
<rect x="793.09" y="36.2" width="35.28" height="11.8" fill="#fde8c8"/>
<rect x="828.31" y="36.2" width="23.54" height="11.8" fill="#8eecec"/>
<rect x="851.8" y="36.2" width="35.28" height="11.8" fill="#00e0d0"/>
<rect x="499.51" y="47.95" width="47.02" height="11.8" fill="#008080"/>
<rect x="546.48" y="47.95" width="35.28" height="11.8" fill="#00c8d0"/>
<rect x="581.71" y="47.95" width="129.22" height="11.8" fill="#008080"/>
<rect x="710.88" y="47.95" width="23.54" height="11.8" fill="#00c8d0"/>
<rect x="734.37" y="47.95" width="11.79" height="11.8" fill="#00e0d0"/>
<rect x="746.11" y="47.95" width="93.99" height="11.8" fill="#8eecec"/>
<rect x="840.06" y="47.95" width="47.02" height="11.8" fill="#00e0d0"/>
<rect x="499.51" y="59.7" width="234.91" height="11.8" fill="#008080"/>
<rect x="734.37" y="59.7" width="11.79" height="11.8" fill="#00c8d0"/>
<rect x="746.11" y="59.7" width="11.79" height="11.8" fill="#00e0d0"/>
<rect x="757.86" y="59.7" width="82.25" height="11.8" fill="#8eecec"/>
<rect x="840.06" y="59.7" width="11.79" height="11.8" fill="#00e0d0"/>
<rect x="851.8" y="59.7" width="23.54" height="11.8" fill="#00c8d0"/>
<rect x="875.29" y="59.7" width="11.79" height="11.8" fill="#00e0d0"/>
<rect x="499.51" y="71.45" width="129.22" height="11.8" fill="#008080"/>
<rect x="628.68" y="71.45" width="58.77" height="11.8" fill="#00c8d0"/>
<rect x="687.4" y="71.45" width="58.77" height="11.8" fill="#008080"/>
<rect x="746.11" y="71.45" width="11.79" height="11.8" fill="#00c8d0"/>
<rect x="757.86" y="71.45" width="11.79" height="11.8" fill="#00e0d0"/>
<rect x="769.6" y="71.45" width="70.51" height="11.8" fill="#8eecec"/>
<rect x="840.06" y="71.45" width="23.54" height="11.8" fill="#00e0d0"/>
<rect x="863.54" y="71.45" width="23.54" height="11.8" fill="#00c8d0"/>
<rect x="499.51" y="83.2" width="35.28" height="11.8" fill="#00e0d0"/>
<rect x="534.74" y="83.2" width="82.25" height="11.8" fill="#00c8d0"/>
<rect x="616.94" y="83.2" width="23.54" height="11.8" fill="#00e0d0"/>
<rect x="640.43" y="83.2" width="11.79" height="11.8" fill="#8eecec"/>
<rect x="652.17" y="83.2" width="47.02" height="11.8" fill="#00e0d0"/>
<rect x="699.14" y="83.2" width="47.02" height="11.8" fill="#00c8d0"/>
<rect x="746.11" y="83.2" width="11.79" height="11.8" fill="#00e0d0"/>
<rect x="757.86" y="83.2" width="11.79" height="11.8" fill="#8eecec"/>
<rect x="769.6" y="83.2" width="35.28" height="11.8" fill="#00e0d0"/>
<rect x="804.83" y="83.2" width="23.54" height="11.8" fill="#8eecec"/>
<rect x="828.31" y="83.2" width="35.28" height="11.8" fill="#00e0d0"/>
<rect x="863.54" y="83.2" width="23.54" height="11.8" fill="#00c8d0"/>
<rect x="499.51" y="94.95" width="23.54" height="11.8" fill="#ebb584"/>
<rect x="523" y="94.95" width="58.77" height="11.8" fill="#fde8c8"/>
<rect x="581.71" y="94.95" width="11.79" height="11.8" fill="#8eecec"/>
<rect x="593.45" y="94.95" width="11.79" height="11.8" fill="#00e0d0"/>
<rect x="605.2" y="94.95" width="23.54" height="11.8" fill="#8eecec"/>
<rect x="628.68" y="94.95" width="47.02" height="11.8" fill="#fde8c8"/>
<rect x="675.65" y="94.95" width="11.79" height="11.8" fill="#8eecec"/>
<rect x="687.4" y="94.95" width="23.54" height="11.8" fill="#00e0d0"/>
<rect x="710.88" y="94.95" width="23.54" height="11.8" fill="#8eecec"/>
<rect x="734.37" y="94.95" width="11.79" height="11.8" fill="#00e0d0"/>
<rect x="746.11" y="94.95" width="35.28" height="11.8" fill="#00c8d0"/>
<rect x="781.34" y="94.95" width="11.79" height="11.8" fill="#008080"/>
<rect x="793.09" y="94.95" width="11.79" height="11.8" fill="#00e0d0"/>
<rect x="804.83" y="94.95" width="11.79" height="11.8" fill="#8eecec"/>
<rect x="816.57" y="94.95" width="11.79" height="11.8" fill="#00e0d0"/>
<rect x="828.31" y="94.95" width="35.28" height="11.8" fill="#8eecec"/>
<rect x="863.54" y="94.95" width="23.54" height="11.8" fill="#00c8d0"/>
<rect x="499.51" y="106.7" width="82.25" height="11.8" fill="#e0883c"/>
<rect x="581.71" y="106.7" width="11.79" height="11.8" fill="#ebb584"/>
<rect x="593.45" y="106.7" width="82.25" height="11.8" fill="#e0883c"/>
<rect x="675.65" y="106.7" width="35.28" height="11.8" fill="#ebb584"/>
<rect x="710.88" y="106.7" width="23.54" height="11.8" fill="#fde8c8"/>
<rect x="734.37" y="106.7" width="11.79" height="11.8" fill="#8eecec"/>
<rect x="746.11" y="106.7" width="11.79" height="11.8" fill="#00e0d0"/>
<rect x="757.86" y="106.7" width="105.74" height="11.8" fill="#8eecec"/>
<rect x="863.54" y="106.7" width="23.54" height="11.8" fill="#00c8d0"/>
<rect x="499.51" y="118.45" width="164.45" height="11.8" fill="#e0883c"/>
<rect x="663.91" y="118.45" width="23.54" height="11.8" fill="#ebb584"/>
<rect x="687.4" y="118.45" width="11.79" height="11.8" fill="#fde8c8"/>
<rect x="699.14" y="118.45" width="23.54" height="11.8" fill="#ebb584"/>
<rect x="722.63" y="118.45" width="11.79" height="11.8" fill="#fde8c8"/>
<rect x="734.37" y="118.45" width="11.79" height="11.8" fill="#ebb584"/>
<rect x="746.11" y="118.45" width="35.28" height="11.8" fill="#fde8c8"/>
<rect x="781.34" y="118.45" width="93.99" height="11.8" fill="#8eecec"/>
<rect x="875.29" y="118.45" width="11.79" height="11.8" fill="#00c8d0"/>
<rect x="499.51" y="130.2" width="164.45" height="11.8" fill="#e0883c"/>
<rect x="663.91" y="130.2" width="82.25" height="11.8" fill="#ebb584"/>
<rect x="746.11" y="130.2" width="35.28" height="11.8" fill="#fde8c8"/>
<rect x="781.34" y="130.2" width="70.51" height="11.8" fill="#8eecec"/>
<rect x="851.8" y="130.2" width="11.79" height="11.8" fill="#00e0d0"/>
<rect x="863.54" y="130.2" width="23.54" height="11.8" fill="#00c8d0"/>
<rect x="499.51" y="141.95" width="70.51" height="11.8" fill="#ebb584"/>
<rect x="569.97" y="141.95" width="82.25" height="11.8" fill="#e0883c"/>
<rect x="652.17" y="141.95" width="105.74" height="11.8" fill="#ebb584"/>
<rect x="757.86" y="141.95" width="82.25" height="11.8" fill="#fde8c8"/>
<rect x="840.06" y="141.95" width="23.54" height="11.8" fill="#8eecec"/>
<rect x="863.54" y="141.95" width="11.79" height="11.8" fill="#00c8d0"/>
<rect x="875.29" y="141.95" width="11.79" height="11.8" fill="#00e0d0"/>
<rect x="499.51" y="153.7" width="35.28" height="11.8" fill="#ebb584"/>
<rect x="534.74" y="153.7" width="164.45" height="11.8" fill="#e0883c"/>
<rect x="699.14" y="153.7" width="58.77" height="11.8" fill="#ebb584"/>
<rect x="757.86" y="153.7" width="93.99" height="11.8" fill="#fde8c8"/>
<rect x="851.8" y="153.7" width="11.79" height="11.8" fill="#8eecec"/>
<rect x="863.54" y="153.7" width="23.54" height="11.8" fill="#00e0d0"/>
<rect x="499.51" y="165.45" width="58.77" height="11.8" fill="#ebb584"/>
<rect x="558.23" y="165.45" width="117.48" height="11.8" fill="#e0883c"/>
<rect x="675.65" y="165.45" width="82.25" height="11.8" fill="#ebb584"/>
<rect x="757.86" y="165.45" width="93.99" height="11.8" fill="#fde8c8"/>
<rect x="851.8" y="165.45" width="11.79" height="11.8" fill="#8eecec"/>
<rect x="863.54" y="165.45" width="23.54" height="11.8" fill="#00e0d0"/>
<rect x="499.51" y="177.2" width="58.77" height="11.8" fill="#ebb584"/>
<rect x="558.23" y="177.2" width="129.22" height="11.8" fill="#e0883c"/>
<rect x="687.4" y="177.2" width="82.25" height="11.8" fill="#ebb584"/>
<rect x="769.6" y="177.2" width="58.77" height="11.8" fill="#fde8c8"/>
<rect x="828.31" y="177.2" width="11.79" height="11.8" fill="#8eecec"/>
<rect x="840.06" y="177.2" width="47.02" height="11.8" fill="#00e0d0"/>
<rect x="499.51" y="188.95" width="70.51" height="11.8" fill="#ebb584"/>
<rect x="569.97" y="188.95" width="117.48" height="11.8" fill="#e0883c"/>
<rect x="687.4" y="188.95" width="93.99" height="11.8" fill="#ebb584"/>
<rect x="781.34" y="188.95" width="23.54" height="11.8" fill="#fde8c8"/>
<rect x="804.83" y="188.95" width="23.54" height="11.8" fill="#8eecec"/>
<rect x="828.31" y="188.95" width="35.28" height="11.8" fill="#00e0d0"/>
<rect x="863.54" y="188.95" width="11.79" height="11.8" fill="#8eecec"/>
<rect x="875.29" y="188.95" width="11.79" height="11.8" fill="#00e0d0"/>
<rect x="499.51" y="200.7" width="117.48" height="11.8" fill="#ebb584"/>
<rect x="616.94" y="200.7" width="70.51" height="11.8" fill="#e0883c"/>
<rect x="687.4" y="200.7" width="82.25" height="11.8" fill="#ebb584"/>
<rect x="769.6" y="200.7" width="11.79" height="11.8" fill="#fde8c8"/>
<rect x="781.34" y="200.7" width="23.54" height="11.8" fill="#8eecec"/>
<rect x="804.83" y="200.7" width="47.02" height="11.8" fill="#00e0d0"/>
<rect x="851.8" y="200.7" width="35.28" height="11.8" fill="#8eecec"/>
<rect x="499.51" y="212.45" width="152.71" height="11.8" fill="#ebb584"/>
<rect x="652.17" y="212.45" width="23.54" height="11.8" fill="#e0883c"/>
<rect x="675.65" y="212.45" width="58.77" height="11.8" fill="#ebb584"/>
<rect x="734.37" y="212.45" width="35.28" height="11.8" fill="#fde8c8"/>
<rect x="769.6" y="212.45" width="23.54" height="11.8" fill="#8eecec"/>
<rect x="793.09" y="212.45" width="47.02" height="11.8" fill="#00e0d0"/>
<rect x="840.06" y="212.45" width="35.28" height="11.8" fill="#8eecec"/>
<rect x="875.29" y="212.45" width="11.79" height="11.8" fill="#fde8c8"/>
<rect x="499.51" y="224.2" width="70.51" height="11.8" fill="#ebb584"/>
<rect x="569.97" y="224.2" width="58.77" height="11.8" fill="#fde8c8"/>
<rect x="628.68" y="224.2" width="93.99" height="11.8" fill="#ebb584"/>
<rect x="722.63" y="224.2" width="23.54" height="11.8" fill="#fde8c8"/>
<rect x="746.11" y="224.2" width="35.28" height="11.8" fill="#8eecec"/>
<rect x="781.34" y="224.2" width="58.77" height="11.8" fill="#00e0d0"/>
<rect x="840.06" y="224.2" width="23.54" height="11.8" fill="#8eecec"/>
<rect x="863.54" y="224.2" width="23.54" height="11.8" fill="#fde8c8"/>
<rect x="499.51" y="235.95" width="70.51" height="11.8" fill="#ebb584"/>
<rect x="569.97" y="235.95" width="47.02" height="11.8" fill="#fde8c8"/>
<rect x="616.94" y="235.95" width="70.51" height="11.8" fill="#ebb584"/>
<rect x="687.4" y="235.95" width="47.02" height="11.8" fill="#fde8c8"/>
<rect x="734.37" y="235.95" width="35.28" height="11.8" fill="#8eecec"/>
<rect x="769.6" y="235.95" width="11.79" height="11.8" fill="#00e0d0"/>
<rect x="781.34" y="235.95" width="82.25" height="11.8" fill="#8eecec"/>
<rect x="863.54" y="235.95" width="23.54" height="11.8" fill="#fde8c8"/>
<rect x="499.51" y="247.7" width="70.51" height="11.8" fill="#ebb584"/>
<rect x="569.97" y="247.7" width="105.74" height="11.8" fill="#fde8c8"/>
<rect x="675.65" y="247.7" width="58.77" height="11.8" fill="#8eecec"/>
<rect x="734.37" y="247.7" width="11.79" height="11.8" fill="#00e0d0"/>
<rect x="746.11" y="247.7" width="11.79" height="11.8" fill="#8eecec"/>
<rect x="757.86" y="247.7" width="47.02" height="11.8" fill="#00e0d0"/>
<rect x="804.83" y="247.7" width="58.77" height="11.8" fill="#8eecec"/>
<rect x="863.54" y="247.7" width="23.54" height="11.8" fill="#fde8c8"/>
<rect x="499.51" y="259.45" width="47.02" height="11.8" fill="#ebb584"/>
<rect x="546.48" y="259.45" width="70.51" height="11.8" fill="#fde8c8"/>
<rect x="616.94" y="259.45" width="47.02" height="11.8" fill="#8eecec"/>
<rect x="663.91" y="259.45" width="117.48" height="11.8" fill="#00e0d0"/>
<rect x="781.34" y="259.45" width="105.74" height="11.8" fill="#8eecec"/>
<rect x="499.51" y="271.2" width="11.79" height="11.8" fill="#ebb584"/>
<rect x="511.25" y="271.2" width="82.25" height="11.8" fill="#fde8c8"/>
<rect x="593.45" y="271.2" width="23.54" height="11.8" fill="#8eecec"/>
<rect x="616.94" y="271.2" width="11.79" height="11.8" fill="#00e0d0"/>
<rect x="628.68" y="271.2" width="11.79" height="11.8" fill="#8eecec"/>
<rect x="640.43" y="271.2" width="105.74" height="11.8" fill="#00e0d0"/>
<rect x="746.11" y="271.2" width="140.97" height="11.8" fill="#8eecec"/>
<rect x="499.51" y="282.95" width="82.25" height="11.8" fill="#fde8c8"/>
<rect x="581.71" y="282.95" width="58.76" height="11.8" fill="#8eecec"/>
<rect x="640.43" y="282.95" width="58.77" height="11.8" fill="#00e0d0"/>
<rect x="699.14" y="282.95" width="187.94" height="11.8" fill="#8eecec"/>
<rect x="499.51" y="294.7" width="58.77" height="11.8" fill="#fde8c8"/>
<rect x="558.23" y="294.7" width="35.28" height="11.8" fill="#8eecec"/>
<rect x="593.45" y="294.7" width="35.28" height="11.8" fill="#00e0d0"/>
<rect x="628.68" y="294.7" width="140.97" height="11.8" fill="#8eecec"/>
<rect x="769.6" y="294.7" width="11.79" height="11.8" fill="#00e0d0"/>
<rect x="781.34" y="294.7" width="105.74" height="11.8" fill="#8eecec"/>
<rect x="499.51" y="306.45" width="11.79" height="11.8" fill="#8eecec"/>
<rect x="511.25" y="306.45" width="23.54" height="11.8" fill="#fde8c8"/>
<rect x="534.74" y="306.45" width="47.02" height="11.8" fill="#8eecec"/>
<rect x="581.71" y="306.45" width="35.28" height="11.8" fill="#00e0d0"/>
<rect x="616.94" y="306.45" width="117.48" height="11.8" fill="#8eecec"/>
<rect x="734.37" y="306.45" width="11.79" height="11.8" fill="#00e0d0"/>
<rect x="746.11" y="306.45" width="11.79" height="11.8" fill="#8eecec"/>
<rect x="757.86" y="306.45" width="58.77" height="11.8" fill="#00e0d0"/>
<rect x="816.57" y="306.45" width="70.51" height="11.8" fill="#8eecec"/>
<rect x="499.51" y="318.2" width="47.02" height="11.8" fill="#fde8c8"/>
<rect x="546.48" y="318.2" width="11.79" height="11.8" fill="#8eecec"/>
<rect x="558.23" y="318.2" width="58.77" height="11.8" fill="#00e0d0"/>
<rect x="616.94" y="318.2" width="23.54" height="11.8" fill="#8eecec"/>
<rect x="640.43" y="318.2" width="11.79" height="11.8" fill="#fde8c8"/>
<rect x="652.17" y="318.2" width="70.51" height="11.8" fill="#8eecec"/>
<rect x="722.63" y="318.2" width="70.51" height="11.8" fill="#00e0d0"/>
<rect x="793.09" y="318.2" width="93.99" height="11.8" fill="#8eecec"/>
<rect x="499.51" y="329.95" width="47.02" height="11.8" fill="#fde8c8"/>
<rect x="546.48" y="329.95" width="11.79" height="11.8" fill="#00e0d0"/>
<rect x="558.23" y="329.95" width="23.54" height="11.8" fill="#00c8d0"/>
<rect x="581.71" y="329.95" width="35.28" height="11.8" fill="#00e0d0"/>
<rect x="616.94" y="329.95" width="11.79" height="11.8" fill="#8eecec"/>
<rect x="628.68" y="329.95" width="35.28" height="11.8" fill="#fde8c8"/>
<rect x="663.91" y="329.95" width="70.51" height="11.8" fill="#8eecec"/>
<rect x="734.37" y="329.95" width="70.51" height="11.8" fill="#00e0d0"/>
<rect x="804.83" y="329.95" width="23.54" height="11.8" fill="#8eecec"/>
<rect x="828.31" y="329.95" width="11.79" height="11.8" fill="#00e0d0"/>
<rect x="840.06" y="329.95" width="47.02" height="11.8" fill="#8eecec"/>
<rect x="499.51" y="341.7" width="23.54" height="11.8" fill="#ebb584"/>
<rect x="523" y="341.7" width="23.54" height="11.8" fill="#fde8c8"/>
<rect x="546.48" y="341.7" width="58.77" height="11.8" fill="#00e0d0"/>
<rect x="605.2" y="341.7" width="23.54" height="11.8" fill="#8eecec"/>
<rect x="628.68" y="341.7" width="35.28" height="11.8" fill="#fde8c8"/>
<rect x="663.91" y="341.7" width="223.17" height="11.8" fill="#8eecec"/>
</g>
<g stroke="#000" stroke-width="1.0">
<circle cx="568.3" cy="68.9" r="3.25" fill="#00e0d0"/>
<circle cx="575.7" cy="77.2" r="3.25" fill="#8eecec"/>
<circle cx="573.7" cy="84.2" r="3.25" fill="#008080"/>
<circle cx="598.1" cy="83.3" r="3.25" fill="#00c8d0"/>
<circle cx="606.3" cy="96.6" r="3.25" fill="#008080"/>
<circle cx="586.2" cy="104.6" r="3.25" fill="#00e0d0"/>
<circle cx="569.7" cy="112.6" r="3.25" fill="#fde8c8"/>
<circle cx="615" cy="111.7" r="3.25" fill="#ebb584"/>
<circle cx="631.6" cy="77.2" r="3.25" fill="#008080"/>
<circle cx="628.4" cy="98.4" r="3.25" fill="#fde8c8"/>
<circle cx="642.6" cy="98.4" r="3.25" fill="#00e0d0"/>
<circle cx="650.6" cy="115.8" r="3.25" fill="#ebb584"/>
<circle cx="691.2" cy="104.6" r="3.25" fill="#00e0d0"/>
<circle cx="709.4" cy="107.6" r="3.25" fill="#ebb584"/>
<circle cx="701.6" cy="114" r="3.25" fill="#ebb584"/>
<circle cx="735.4" cy="112.6" r="3.25" fill="#00e0d0"/>
<circle cx="746" cy="109.9" r="3.25" fill="#00e0d0"/>
<circle cx="683.6" cy="125.3" r="3.25" fill="#00e0d0"/>
<circle cx="689.2" cy="128.2" r="3.25" fill="#00e0d0"/>
<circle cx="765.7" cy="114.9" r="3.25" fill="#00e0d0"/>
<circle cx="815.1" cy="119.3" r="3.25" fill="#ebb584"/>
<circle cx="835.3" cy="114.1" r="3.25" fill="#ebb584"/>
<circle cx="829.2" cy="123.1" r="3.25" fill="#ebb584"/>
<circle cx="854" cy="108.5" r="3.25" fill="#e0883c"/>
<circle cx="845.1" cy="130.1" r="3.25" fill="#e0883c"/>
<circle cx="855.9" cy="127.1" r="3.25" fill="#e0883c"/>
<circle cx="818.3" cy="132.5" r="3.25" fill="#ebb584"/>
<circle cx="841.7" cy="138.2" r="3.25" fill="#e0883c"/>
<circle cx="846.1" cy="138.6" r="3.25" fill="#e0883c"/>
<circle cx="809.7" cy="145.6" r="3.25" fill="#ebb584"/>
<circle cx="841.7" cy="152.8" r="3.25" fill="#e0883c"/>
<circle cx="853" cy="156.4" r="3.25" fill="#e0883c"/>
<circle cx="811.9" cy="161.4" r="3.25" fill="#ebb584"/>
<circle cx="813.7" cy="169.4" r="3.25" fill="#e0883c"/>
<circle cx="834.2" cy="162" r="3.25" fill="#ebb584"/>
<circle cx="838.9" cy="162" r="3.25" fill="#ebb584"/>
<circle cx="804.4" cy="173.2" r="3.25" fill="#ebb584"/>
<circle cx="825.7" cy="173.9" r="3.25" fill="#ebb584"/>
<circle cx="838.3" cy="181.7" r="3.25" fill="#e0883c"/>
<circle cx="805.9" cy="200.7" r="3.25" fill="#e0883c"/>
<circle cx="596.1" cy="130.7" r="3.25" fill="#e0883c"/>
<circle cx="586.6" cy="140.4" r="3.25" fill="#e0883c"/>
<circle cx="604.5" cy="143" r="3.25" fill="#e0883c"/>
<circle cx="568.2" cy="153.4" r="3.25" fill="#ebb584"/>
<circle cx="602.7" cy="159.8" r="3.25" fill="#ebb584"/>
<circle cx="586" cy="168.9" r="3.25" fill="#e0883c"/>
<circle cx="603.1" cy="168.5" r="3.25" fill="#e0883c"/>
<circle cx="571.7" cy="173.5" r="3.25" fill="#e0883c"/>
<circle cx="617.8" cy="173.7" r="3.25" fill="#a0460a"/>
<circle cx="550.3" cy="180.4" r="3.25" fill="#a0460a"/>
<circle cx="558.6" cy="182.5" r="3.25" fill="#a0460a"/>
<circle cx="579.6" cy="184.5" r="3.25" fill="#a0460a"/>
<circle cx="561.3" cy="188" r="3.25" fill="#a0460a"/>
<circle cx="545.3" cy="189.6" r="3.25" fill="#a0460a"/>
<circle cx="556" cy="192.9" r="3.25" fill="#a0460a"/>
<circle cx="535" cy="196.4" r="3.25" fill="#a0460a"/>
<circle cx="528.4" cy="199.4" r="3.25" fill="#a0460a"/>
<circle cx="585.3" cy="197.6" r="3.25" fill="#a0460a"/>
<circle cx="594.4" cy="199.4" r="3.25" fill="#a0460a"/>
<circle cx="590.8" cy="202.2" r="3.25" fill="#a0460a"/>
<circle cx="584.4" cy="204.5" r="3.25" fill="#a0460a"/>
<circle cx="604.9" cy="196.1" r="3.25" fill="#a0460a"/>
<circle cx="618.7" cy="198.5" r="3.25" fill="#a0460a"/>
<circle cx="623.7" cy="195.7" r="3.25" fill="#a0460a"/>
<circle cx="546.8" cy="210" r="3.25" fill="#a0460a"/>
<circle cx="557.6" cy="207.9" r="3.25" fill="#a0460a"/>
<circle cx="568.5" cy="206.8" r="3.25" fill="#a0460a"/>
<circle cx="547.3" cy="215.9" r="3.25" fill="#a0460a"/>
<circle cx="536.6" cy="219.1" r="3.25" fill="#a0460a"/>
<circle cx="532.4" cy="222.3" r="3.25" fill="#a0460a"/>
<circle cx="582.8" cy="216.6" r="3.25" fill="#a0460a"/>
<circle cx="610" cy="209.5" r="3.25" fill="#a0460a"/>
<circle cx="538.6" cy="234.7" r="3.25" fill="#a0460a"/>
<circle cx="560.6" cy="234.2" r="3.25" fill="#a0460a"/>
<circle cx="618.7" cy="224.6" r="3.25" fill="#e0883c"/>
<circle cx="611.3" cy="230.5" r="3.25" fill="#e0883c"/>
<circle cx="586.2" cy="239.1" r="3.25" fill="#e0883c"/>
<circle cx="597.6" cy="239.7" r="3.25" fill="#ebb584"/>
<circle cx="570.8" cy="243.1" r="3.25" fill="#e0883c"/>
<circle cx="589.1" cy="247.3" r="3.25" fill="#e0883c"/>
<circle cx="533.1" cy="248.5" r="3.25" fill="#a0460a"/>
<circle cx="575.9" cy="251.3" r="3.25" fill="#e0883c"/>
<circle cx="542.4" cy="253.6" r="3.25" fill="#a0460a"/>
<circle cx="552" cy="254.8" r="3.25" fill="#a0460a"/>
<circle cx="578.6" cy="258.6" r="3.25" fill="#e0883c"/>
<circle cx="619.3" cy="256.5" r="3.25" fill="#e0883c"/>
<circle cx="638.7" cy="134" r="3.25" fill="#ebb584"/>
<circle cx="650.1" cy="138.9" r="3.25" fill="#fde8c8"/>
<circle cx="661.3" cy="137.8" r="3.25" fill="#00c8d0"/>
<circle cx="702.5" cy="131.9" r="3.25" fill="#fde8c8"/>
<circle cx="714.4" cy="128.8" r="3.25" fill="#fde8c8"/>
<circle cx="745.8" cy="133.2" r="3.25" fill="#fde8c8"/>
<circle cx="678.7" cy="143.3" r="3.25" fill="#ebb584"/>
<circle cx="696.8" cy="146.8" r="3.25" fill="#fde8c8"/>
<circle cx="712.7" cy="149.9" r="3.25" fill="#fde8c8"/>
<circle cx="742.3" cy="145.6" r="3.25" fill="#fde8c8"/>
<circle cx="741.6" cy="151.1" r="3.25" fill="#ebb584"/>
<circle cx="731.3" cy="154.7" r="3.25" fill="#ebb584"/>
<circle cx="636.6" cy="150.2" r="3.25" fill="#ebb584"/>
<circle cx="650.1" cy="149.2" r="3.25" fill="#ebb584"/>
<circle cx="660" cy="160.7" r="3.25" fill="#e0883c"/>
<circle cx="676.4" cy="158.4" r="3.25" fill="#ebb584"/>
<circle cx="744.6" cy="164.3" r="3.25" fill="#ebb584"/>
<circle cx="745.4" cy="167.1" r="3.25" fill="#ebb584"/>
<circle cx="681.5" cy="168.7" r="3.25" fill="#e0883c"/>
<circle cx="738.3" cy="173.5" r="3.25" fill="#ebb584"/>
<circle cx="699.3" cy="179" r="3.25" fill="#e0883c"/>
<circle cx="709.5" cy="183.6" r="3.25" fill="#e0883c"/>
<circle cx="635.7" cy="183.4" r="3.25" fill="#a0460a"/>
<circle cx="662.9" cy="182.2" r="3.25" fill="#e0883c"/>
<circle cx="752.7" cy="189.1" r="3.25" fill="#ebb584"/>
<circle cx="760.1" cy="128.8" r="3.25" fill="#00e0d0"/>
<circle cx="772.5" cy="136.9" r="3.25" fill="#fde8c8"/>
<circle cx="770.4" cy="142.4" r="3.25" fill="#8eecec"/>
<circle cx="765.8" cy="163" r="3.25" fill="#ebb584"/>
<circle cx="791.2" cy="163.9" r="3.25" fill="#fde8c8"/>
<circle cx="795.1" cy="175.1" r="3.25" fill="#fde8c8"/>
<circle cx="766.3" cy="178.1" r="3.25" fill="#8eecec"/>
<circle cx="768.6" cy="186" r="3.25" fill="#8eecec"/>
<circle cx="798.6" cy="190" r="3.25" fill="#e0883c"/>
<circle cx="634.6" cy="197.3" r="3.25" fill="#a0460a"/>
<circle cx="649.5" cy="192.2" r="3.25" fill="#e0883c"/>
<circle cx="646.7" cy="205.8" r="3.25" fill="#e0883c"/>
<circle cx="642.9" cy="214.7" r="3.25" fill="#e0883c"/>
<circle cx="676.5" cy="207.9" r="3.25" fill="#e0883c"/>
<circle cx="690" cy="197.5" r="3.25" fill="#e0883c"/>
<circle cx="662.7" cy="220.5" r="3.25" fill="#e0883c"/>
<circle cx="681.2" cy="219.8" r="3.25" fill="#e0883c"/>
<circle cx="673.1" cy="225.7" r="3.25" fill="#e0883c"/>
<circle cx="673.7" cy="232.8" r="3.25" fill="#e0883c"/>
<circle cx="685.7" cy="233.4" r="3.25" fill="#e0883c"/>
<circle cx="693.1" cy="225.7" r="3.25" fill="#e0883c"/>
<circle cx="694.7" cy="214.3" r="3.25" fill="#e0883c"/>
<circle cx="698.1" cy="206.9" r="3.25" fill="#ebb584"/>
<circle cx="707.3" cy="202.5" r="3.25" fill="#ebb584"/>
<circle cx="707.3" cy="207.3" r="3.25" fill="#ebb584"/>
<circle cx="720.4" cy="196.7" r="3.25" fill="#ebb584"/>
<circle cx="716.1" cy="211.6" r="3.25" fill="#ebb584"/>
<circle cx="725.4" cy="210.2" r="3.25" fill="#e0883c"/>
<circle cx="736.8" cy="204.6" r="3.25" fill="#e0883c"/>
<circle cx="743.7" cy="210.1" r="3.25" fill="#e0883c"/>
<circle cx="714.4" cy="220.5" r="3.25" fill="#e0883c"/>
<circle cx="726.5" cy="219.8" r="3.25" fill="#e0883c"/>
<circle cx="709.6" cy="231.7" r="3.25" fill="#ebb584"/>
<circle cx="731.8" cy="227.1" r="3.25" fill="#ebb584"/>
<circle cx="729.7" cy="232" r="3.25" fill="#e0883c"/>
<circle cx="736.7" cy="231.3" r="3.25" fill="#ebb584"/>
<circle cx="726.6" cy="236.8" r="3.25" fill="#e0883c"/>
<circle cx="721.5" cy="241" r="3.25" fill="#e0883c"/>
<circle cx="746" cy="223.3" r="3.25" fill="#e0883c"/>
<circle cx="706.3" cy="242.6" r="3.25" fill="#ebb584"/>
<circle cx="694.3" cy="244" r="3.25" fill="#e0883c"/>
<circle cx="684.5" cy="242.8" r="3.25" fill="#e0883c"/>
<circle cx="657.1" cy="236.6" r="3.25" fill="#e0883c"/>
<circle cx="642.5" cy="240.5" r="3.25" fill="#e0883c"/>
<circle cx="654.5" cy="244.7" r="3.25" fill="#e0883c"/>
<circle cx="634.9" cy="247.2" r="3.25" fill="#e0883c"/>
<circle cx="661" cy="251.4" r="3.25" fill="#e0883c"/>
<circle cx="674.1" cy="252.8" r="3.25" fill="#e0883c"/>
<circle cx="648.9" cy="259.5" r="3.25" fill="#e0883c"/>
<circle cx="752.2" cy="205.2" r="3.25" fill="#e0883c"/>
<circle cx="759.6" cy="204.2" r="3.25" fill="#e0883c"/>
<circle cx="769.6" cy="204" r="3.25" fill="#ebb584"/>
<circle cx="752.4" cy="212.8" r="3.25" fill="#ebb584"/>
<circle cx="761.3" cy="215.4" r="3.25" fill="#e0883c"/>
<circle cx="567.2" cy="262.4" r="3.25" fill="#a0460a"/>
<circle cx="596.2" cy="262.2" r="3.25" fill="#e0883c"/>
<circle cx="623.3" cy="264.2" r="3.25" fill="#e0883c"/>
<circle cx="607.3" cy="267" r="3.25" fill="#e0883c"/>
<circle cx="519.9" cy="266.5" r="3.25" fill="#a0460a"/>
<circle cx="532.7" cy="269" r="3.25" fill="#e0883c"/>
<circle cx="556.9" cy="269.2" r="3.25" fill="#a0460a"/>
<circle cx="569.3" cy="271.5" r="3.25" fill="#e0883c"/>
<circle cx="591.8" cy="274" r="3.25" fill="#e0883c"/>
<circle cx="518.3" cy="282.5" r="3.25" fill="#e0883c"/>
<circle cx="541.4" cy="293" r="3.25" fill="#e0883c"/>
<circle cx="566.2" cy="291.6" r="3.25" fill="#a0460a"/>
<circle cx="572.6" cy="287.1" r="3.25" fill="#e0883c"/>
<circle cx="519.7" cy="300.7" r="3.25" fill="#00e0d0"/>
<circle cx="554.7" cy="303.6" r="3.25" fill="#e0883c"/>
<circle cx="529.5" cy="309.8" r="3.25" fill="#ebb584"/>
<circle cx="556.6" cy="311" r="3.25" fill="#a0460a"/>
<circle cx="580.8" cy="311" r="3.25" fill="#a0460a"/>
<circle cx="526.1" cy="320.4" r="3.25" fill="#e0883c"/>
<circle cx="559.5" cy="320.4" r="3.25" fill="#a0460a"/>
<circle cx="543.7" cy="328.5" r="3.25" fill="#e0883c"/>
</g>
<g fill="none" stroke="#000" stroke-linejoin="round" stroke-linecap="round" clip-path="url(#mc1)">
<polyline points="500.1,72 508.4,70.6 515.7,72.4 521.7,77 524.9,76.1 530.4,71.8 537.7,74.7 546.8,75.4 556,75.6 566.1,76.3 567,73.3 564.2,67.4 564,59.6 571.5,56.4 577,59.1 588,60.8 595.3,64.2 601.7,65.6 612.7,66.5 620,69.2 621,72.4 626.4,74.2 632.3,72.2 643.1,72.5 648.5,77 654,81.7 657.1,89 653.2,94.1 657.8,98.3 653.2,102.2 659.4,107.2 667.9,107.2 671.8,103.7 688.8,100.2 701.1,102.3 706.1,104 712.4,106.6 718.8,113.5 724.6,116.2 732.5,112.5 739.9,109.3 750.5,107.7 761,110.3 771.6,115.6 782.1,118.3 787.4,116.2 798,118.8 799,113.5 803.2,109.8 813.8,109.5 822.3,105.1 830.7,102.4 836.1,103.4 842.8,102.2 845.7,105.1 848.6,108 851.9,108.2" stroke-width="1.05"/>
<polyline points="657.1,89 661.7,82.4 670.2,81.3 675.6,84.4 691.1,86.3 692.7,90.2 694.2,91 691.1,92.5 688.8,100.2" stroke-width="1.05"/>
<polygon points="720.5,99.5 715.5,103.7 722.8,105.7" stroke-width="1.0"/>
<polyline points="531.4,347.5 537.7,340.1 543.3,331.7 547.5,325.3 552.5,320.8 559.5,320.1 570.1,318.6 564.4,324.6 561.6,328.1 554.6,328.5 552.5,326.4 556.6,325.8 562.1,322.5 570.1,318.6 577.8,315.1 582.7,313 586.6,309.1 582,307.7 578.5,304.9 574.3,301.4 570.1,300.7 572.2,302.8 568,302.1 565.1,300 564.7,299.1 568.5,296.3 572.7,292.8 577,289.1 583.8,282.3 589.7,277.7 596.4,273 604.9,269.6 614.2,267.5 619.7,270.1 622.6,267.1 626.8,264.6 635.3,261.4 647.1,260.8 653,258.6 661.5,255.3 672.5,254 680.9,252.3 691.1,250.6 700.7,249 708.1,245.8 721.8,244 730.5,242.8 737.3,235.8 744.7,227.1 750.1,222.1 762,218.7 773,213.4 782.2,209 794.1,205.1 805,201.5 810.5,198.7 814.8,195 827.4,192.2 834.2,186.5 841.1,183.1 846.8,177.4 850.2,178.3 858.2,172.2 862.2,164.2 857,156.8 859.9,151.1 857,146.5 851.3,143.1 848.5,139.7 847.5,135 848.1,131.5 850,129.6 852.9,128.7 856.3,129.6 859.2,130.8 861.1,129.6 864,130.3 865.9,129.6 866.9,128.2 867.8,126.3 867.4,124.8 869.3,123.8 869.8,122.4 872.6,121.7 868.8,120 864.9,119 863.5,120 861.6,117.6 857.3,119.8 855.3,118.6 853.4,116.6 852.9,113.8 852.4,111.3 853.9,108.9 854.4,106.5 852.9,104.6 850,102.9 849.1,100.3 850,99.3 851.3,99 845,97.1 840.8,95.7 839.5,89.5 838.4,87.4 838.8,76.9 839.1,62.9 839.1,56 840.8,52.5 840.2,49 839.1,44" stroke-width="2.0"/>
<polyline points="840.9,52.3 834.7,47 835.3,50.4 834.9,56 829,61.5 831.4,65 838.1,65 838.7,58" stroke-width="1.6"/>
<polygon points="833.6,45 841.1,45 840.6,48 837.1,49.5 834.1,48" fill="#000" stroke-width="1.0"/>
<polygon points="500.6,228.2 510.3,226.9 519.3,233.7 517.7,234.1 509.7,230.2 500.6,231.2" fill="#000" stroke-width="0.6"/>
</g>
<rect x="501.3" y="44.8" width="386.1" height="301.6" fill="none" stroke="#000" stroke-width="1.6"/>
<g font-family="Liberation Sans, sans-serif" font-size="23.52"><text x="-3.27" y="0" transform="translate(0,33.6) translate(549.67,0) scale(1.007,1)">I</text><text x="-9.8" y="0" transform="translate(0,33.6) translate(562.65,0) scale(0.950,1)">M</text><text x="-8.3" y="0" transform="translate(0,33.6) translate(579.76,0) scale(0.850,1)">E</text><text x="-8.91" y="0" transform="translate(0,33.6) translate(595.02,0) scale(0.911,1)">R</text><text x="-8.86" y="0" transform="translate(0,33.6) translate(610.41,0) scale(0.929,1)">G</text><text x="-6.49" y="0" transform="translate(0,33.6) translate(624.98,0) scale(0.850,1)">_</text><text x="-7.11" y="0" transform="translate(0,33.6) translate(637.86,0) scale(0.980,1)">L</text><text x="-7.04" y="0" transform="translate(0,33.6) translate(656.7,0) scale(0.856,1)">a</text><text x="-6.56" y="0" transform="translate(0,33.6) translate(671.07,0) scale(1.027,1)">n</text><text x="-6.28" y="0" transform="translate(0,33.6) translate(684.81,0) scale(1.035,1)">d</text><text x="-8.91" y="0" transform="translate(0,33.6) translate(708,0) scale(0.911,1)">R</text><text x="-7.04" y="0" transform="translate(0,33.6) translate(721.52,0) scale(0.856,1)">a</text><text x="-2.61" y="0" transform="translate(0,33.6) translate(731.85,0) scale(0.974,1)">i</text><text x="-6.56" y="0" transform="translate(0,33.6) translate(742.12,0) scale(1.027,1)">n</text><text x="-8.86" y="0" transform="translate(0,33.6) translate(764.66,0) scale(0.929,1)">G</text><text x="-7.04" y="0" transform="translate(0,33.6) translate(780.15,0) scale(0.856,1)">a</text><text x="-6.52" y="0" transform="translate(0,33.6) translate(794.39,0) scale(1.027,1)">u</text><text x="-6.28" y="0" transform="translate(0,33.6) translate(808.26,0) scale(1.035,1)">g</text><text x="-6.52" y="0" transform="translate(0,33.6) translate(822.69,0) scale(1.029,1)">e</text><text x="-5.78" y="0" transform="translate(0,33.6) translate(835.45,0) scale(0.913,1)">s</text></g>
<g clip-path="url(#mc2)" shape-rendering="crispEdges">
<rect x="895.61" y="36.2" width="11.79" height="11.8" fill="#00e0d0"/>
<rect x="907.35" y="36.2" width="93.99" height="11.8" fill="#8eecec"/>
<rect x="1001.3" y="36.2" width="258.4" height="11.8" fill="#fde8c8"/>
<rect x="1259.64" y="36.2" width="11.79" height="11.8" fill="#00e0d0"/>
<rect x="1271.39" y="36.2" width="11.79" height="11.8" fill="#8eecec"/>
<rect x="895.61" y="47.95" width="176.2" height="11.8" fill="#8eecec"/>
<rect x="1071.76" y="47.95" width="187.94" height="11.8" fill="#fde8c8"/>
<rect x="1259.64" y="47.95" width="11.79" height="11.8" fill="#00e0d0"/>
<rect x="1271.39" y="47.95" width="11.79" height="11.8" fill="#8eecec"/>
<rect x="895.61" y="59.7" width="211.42" height="11.8" fill="#8eecec"/>
<rect x="1106.98" y="59.7" width="152.71" height="11.8" fill="#fde8c8"/>
<rect x="1259.64" y="59.7" width="23.54" height="11.8" fill="#00e0d0"/>
<rect x="895.61" y="71.45" width="152.71" height="11.8" fill="#8eecec"/>
<rect x="1048.27" y="71.45" width="47.02" height="11.8" fill="#fde8c8"/>
<rect x="1095.24" y="71.45" width="11.79" height="11.8" fill="#8eecec"/>
<rect x="1106.98" y="71.45" width="152.71" height="11.8" fill="#fde8c8"/>
<rect x="1259.64" y="71.45" width="11.79" height="11.8" fill="#00c8d0"/>
<rect x="1271.39" y="71.45" width="11.79" height="11.8" fill="#00e0d0"/>
<rect x="895.61" y="83.2" width="129.22" height="11.8" fill="#8eecec"/>
<rect x="1024.78" y="83.2" width="223.17" height="11.8" fill="#fde8c8"/>
<rect x="1247.9" y="83.2" width="11.79" height="11.8" fill="#ebb584"/>
<rect x="1259.64" y="83.2" width="23.54" height="11.8" fill="#00c8d0"/>
<rect x="895.61" y="94.95" width="23.54" height="11.8" fill="#fde8c8"/>
<rect x="919.1" y="94.95" width="93.99" height="11.8" fill="#8eecec"/>
<rect x="1013.04" y="94.95" width="211.42" height="11.8" fill="#fde8c8"/>
<rect x="1224.41" y="94.95" width="35.28" height="11.8" fill="#ebb584"/>
<rect x="1259.64" y="94.95" width="11.79" height="11.8" fill="#fde8c8"/>
<rect x="1271.39" y="94.95" width="11.79" height="11.8" fill="#00c8d0"/>
<rect x="895.61" y="106.7" width="140.97" height="11.8" fill="#fde8c8"/>
<rect x="1036.53" y="106.7" width="47.02" height="11.8" fill="#ebb584"/>
<rect x="1083.5" y="106.7" width="11.79" height="11.8" fill="#fde8c8"/>
<rect x="1095.24" y="106.7" width="11.79" height="11.8" fill="#ebb584"/>
<rect x="1106.98" y="106.7" width="93.99" height="11.8" fill="#fde8c8"/>
<rect x="1200.93" y="106.7" width="58.77" height="11.8" fill="#ebb584"/>
<rect x="1259.64" y="106.7" width="11.79" height="11.8" fill="#fde8c8"/>
<rect x="1271.39" y="106.7" width="11.79" height="11.8" fill="#00c8d0"/>
<rect x="895.61" y="118.45" width="187.94" height="11.8" fill="#ebb584"/>
<rect x="1083.5" y="118.45" width="11.79" height="11.8" fill="#fde8c8"/>
<rect x="1095.24" y="118.45" width="176.19" height="11.8" fill="#ebb584"/>
<rect x="1271.39" y="118.45" width="11.79" height="11.8" fill="#00c8d0"/>
<rect x="895.61" y="130.2" width="375.83" height="11.8" fill="#ebb584"/>
<rect x="1271.39" y="130.2" width="11.79" height="11.8" fill="#00e0d0"/>
<rect x="895.61" y="141.95" width="375.83" height="11.8" fill="#ebb584"/>
<rect x="1271.39" y="141.95" width="11.79" height="11.8" fill="#00e0d0"/>
<rect x="895.61" y="153.7" width="364.08" height="11.8" fill="#ebb584"/>
<rect x="1259.64" y="153.7" width="11.79" height="11.8" fill="#fde8c8"/>
<rect x="1271.39" y="153.7" width="11.79" height="11.8" fill="#00e0d0"/>
<rect x="895.61" y="165.45" width="35.28" height="11.8" fill="#e0883c"/>
<rect x="930.84" y="165.45" width="23.54" height="11.8" fill="#ebb584"/>
<rect x="954.33" y="165.45" width="58.76" height="11.8" fill="#e0883c"/>
<rect x="1013.04" y="165.45" width="246.65" height="11.8" fill="#ebb584"/>
<rect x="1259.64" y="165.45" width="23.54" height="11.8" fill="#00e0d0"/>
<rect x="895.61" y="177.2" width="176.2" height="11.8" fill="#e0883c"/>
<rect x="1071.76" y="177.2" width="176.19" height="11.8" fill="#ebb584"/>
<rect x="1247.9" y="177.2" width="35.28" height="11.8" fill="#00e0d0"/>
<rect x="895.61" y="188.95" width="199.68" height="11.8" fill="#e0883c"/>
<rect x="1095.24" y="188.95" width="129.22" height="11.8" fill="#ebb584"/>
<rect x="1224.41" y="188.95" width="11.79" height="11.8" fill="#fde8c8"/>
<rect x="1236.16" y="188.95" width="11.79" height="11.8" fill="#00e0d0"/>
<rect x="1247.9" y="188.95" width="35.28" height="11.8" fill="#8eecec"/>
<rect x="895.61" y="200.7" width="199.68" height="11.8" fill="#e0883c"/>
<rect x="1095.24" y="200.7" width="105.74" height="11.8" fill="#ebb584"/>
<rect x="1200.93" y="200.7" width="11.79" height="11.8" fill="#fde8c8"/>
<rect x="1212.67" y="200.7" width="11.79" height="11.8" fill="#00e0d0"/>
<rect x="1224.41" y="200.7" width="11.79" height="11.8" fill="#8eecec"/>
<rect x="1236.16" y="200.7" width="11.79" height="11.8" fill="#00e0d0"/>
<rect x="1247.9" y="200.7" width="35.28" height="11.8" fill="#8eecec"/>
<rect x="895.61" y="212.45" width="211.42" height="11.8" fill="#e0883c"/>
<rect x="1106.98" y="212.45" width="70.51" height="11.8" fill="#ebb584"/>
<rect x="1177.44" y="212.45" width="11.79" height="11.8" fill="#fde8c8"/>
<rect x="1189.18" y="212.45" width="11.79" height="11.8" fill="#8eecec"/>
<rect x="1200.93" y="212.45" width="23.54" height="11.8" fill="#00e0d0"/>
<rect x="1224.41" y="212.45" width="47.02" height="11.8" fill="#8eecec"/>
<rect x="1271.39" y="212.45" width="11.79" height="11.8" fill="#fde8c8"/>
<rect x="895.61" y="224.2" width="211.42" height="11.8" fill="#e0883c"/>
<rect x="1106.98" y="224.2" width="47.02" height="11.8" fill="#ebb584"/>
<rect x="1153.96" y="224.2" width="11.79" height="11.8" fill="#fde8c8"/>
<rect x="1165.7" y="224.2" width="11.79" height="11.8" fill="#8eecec"/>
<rect x="1177.44" y="224.2" width="58.77" height="11.8" fill="#00e0d0"/>
<rect x="1236.16" y="224.2" width="23.54" height="11.8" fill="#8eecec"/>
<rect x="1259.64" y="224.2" width="23.54" height="11.8" fill="#fde8c8"/>
<rect x="895.61" y="235.95" width="199.68" height="11.8" fill="#e0883c"/>
<rect x="1095.24" y="235.95" width="47.02" height="11.8" fill="#ebb584"/>
<rect x="1142.21" y="235.95" width="105.74" height="11.8" fill="#8eecec"/>
<rect x="1247.9" y="235.95" width="35.28" height="11.8" fill="#fde8c8"/>
<rect x="895.61" y="247.7" width="176.2" height="11.8" fill="#e0883c"/>
<rect x="1071.76" y="247.7" width="47.02" height="11.8" fill="#ebb584"/>
<rect x="1118.73" y="247.7" width="105.74" height="11.8" fill="#8eecec"/>
<rect x="1224.41" y="247.7" width="58.76" height="11.8" fill="#fde8c8"/>
<rect x="895.61" y="259.45" width="164.45" height="11.8" fill="#e0883c"/>
<rect x="1060.01" y="259.45" width="11.79" height="11.8" fill="#ebb584"/>
<rect x="1071.76" y="259.45" width="11.79" height="11.8" fill="#00e0d0"/>
<rect x="1083.5" y="259.45" width="47.02" height="11.8" fill="#8eecec"/>
<rect x="1130.47" y="259.45" width="11.79" height="11.8" fill="#00e0d0"/>
<rect x="1142.21" y="259.45" width="70.51" height="11.8" fill="#8eecec"/>
<rect x="1212.67" y="259.45" width="11.79" height="11.8" fill="#fde8c8"/>
<rect x="1224.41" y="259.45" width="35.28" height="11.8" fill="#8eecec"/>
<rect x="1259.64" y="259.45" width="23.54" height="11.8" fill="#fde8c8"/>
<rect x="895.61" y="271.2" width="105.74" height="11.8" fill="#e0883c"/>
<rect x="1001.3" y="271.2" width="11.79" height="11.8" fill="#fde8c8"/>
<rect x="1013.04" y="271.2" width="35.28" height="11.8" fill="#8eecec"/>
<rect x="1048.27" y="271.2" width="47.02" height="11.8" fill="#00e0d0"/>
<rect x="1095.24" y="271.2" width="129.22" height="11.8" fill="#8eecec"/>
<rect x="1224.41" y="271.2" width="23.54" height="11.8" fill="#fde8c8"/>
<rect x="1247.9" y="271.2" width="11.79" height="11.8" fill="#8eecec"/>
<rect x="1259.64" y="271.2" width="23.54" height="11.8" fill="#fde8c8"/>
<rect x="895.61" y="282.95" width="93.99" height="11.8" fill="#e0883c"/>
<rect x="989.55" y="282.95" width="11.79" height="11.8" fill="#ebb584"/>
<rect x="1001.3" y="282.95" width="35.28" height="11.8" fill="#8eecec"/>
<rect x="1036.53" y="282.95" width="58.76" height="11.8" fill="#00e0d0"/>
<rect x="1095.24" y="282.95" width="140.97" height="11.8" fill="#8eecec"/>
<rect x="1236.16" y="282.95" width="47.02" height="11.8" fill="#fde8c8"/>
<rect x="895.61" y="294.7" width="82.25" height="11.8" fill="#e0883c"/>
<rect x="977.81" y="294.7" width="11.79" height="11.8" fill="#ebb584"/>
<rect x="989.55" y="294.7" width="35.28" height="11.8" fill="#00e0d0"/>
<rect x="1024.78" y="294.7" width="11.79" height="11.8" fill="#8eecec"/>
<rect x="1036.53" y="294.7" width="11.79" height="11.8" fill="#00e0d0"/>
<rect x="1048.27" y="294.7" width="187.94" height="11.8" fill="#8eecec"/>
<rect x="1236.16" y="294.7" width="47.02" height="11.8" fill="#fde8c8"/>
<rect x="895.61" y="306.45" width="47.02" height="11.8" fill="#e0883c"/>
<rect x="942.58" y="306.45" width="35.28" height="11.8" fill="#ebb584"/>
<rect x="977.81" y="306.45" width="47.02" height="11.8" fill="#00e0d0"/>
<rect x="1024.78" y="306.45" width="211.42" height="11.8" fill="#8eecec"/>
<rect x="1236.16" y="306.45" width="47.02" height="11.8" fill="#fde8c8"/>
<rect x="895.61" y="318.2" width="35.28" height="11.8" fill="#e0883c"/>
<rect x="930.84" y="318.2" width="35.28" height="11.8" fill="#ebb584"/>
<rect x="966.07" y="318.2" width="47.02" height="11.8" fill="#00e0d0"/>
<rect x="1013.04" y="318.2" width="58.77" height="11.8" fill="#8eecec"/>
<rect x="1071.76" y="318.2" width="35.28" height="11.8" fill="#00e0d0"/>
<rect x="1106.98" y="318.2" width="11.79" height="11.8" fill="#8eecec"/>
<rect x="1118.73" y="318.2" width="11.79" height="11.8" fill="#00e0d0"/>
<rect x="1130.47" y="318.2" width="47.02" height="11.8" fill="#8eecec"/>
<rect x="1177.44" y="318.2" width="11.79" height="11.8" fill="#00e0d0"/>
<rect x="1189.18" y="318.2" width="70.51" height="11.8" fill="#8eecec"/>
<rect x="1259.64" y="318.2" width="23.54" height="11.8" fill="#fde8c8"/>
<rect x="895.61" y="329.95" width="35.28" height="11.8" fill="#e0883c"/>
<rect x="930.84" y="329.95" width="23.54" height="11.8" fill="#ebb584"/>
<rect x="954.33" y="329.95" width="58.76" height="11.8" fill="#00e0d0"/>
<rect x="1013.04" y="329.95" width="258.4" height="11.8" fill="#8eecec"/>
<rect x="1271.39" y="329.95" width="11.79" height="11.8" fill="#fde8c8"/>
<rect x="895.61" y="341.7" width="35.28" height="11.8" fill="#e0883c"/>
<rect x="930.84" y="341.7" width="11.79" height="11.8" fill="#ebb584"/>
<rect x="942.58" y="341.7" width="58.77" height="11.8" fill="#00e0d0"/>
<rect x="1001.3" y="341.7" width="23.54" height="11.8" fill="#8eecec"/>
<rect x="1024.78" y="341.7" width="35.28" height="11.8" fill="#fde8c8"/>
<rect x="1060.01" y="341.7" width="223.17" height="11.8" fill="#8eecec"/>
</g>
<g stroke="#000" stroke-width="1.0">
<circle cx="964.4" cy="68.9" r="3.25" fill="#00e0d0"/>
<circle cx="971.8" cy="77.2" r="3.25" fill="#8eecec"/>
<circle cx="969.8" cy="84.2" r="3.25" fill="#008080"/>
<circle cx="994.2" cy="83.3" r="3.25" fill="#00c8d0"/>
<circle cx="1002.4" cy="96.6" r="3.25" fill="#008080"/>
<circle cx="982.3" cy="104.6" r="3.25" fill="#00e0d0"/>
<circle cx="965.8" cy="112.6" r="3.25" fill="#fde8c8"/>
<circle cx="1011.1" cy="111.7" r="3.25" fill="#ebb584"/>
<circle cx="1027.7" cy="77.2" r="3.25" fill="#008080"/>
<circle cx="1024.5" cy="98.4" r="3.25" fill="#fde8c8"/>
<circle cx="1038.7" cy="98.4" r="3.25" fill="#00e0d0"/>
<circle cx="1046.7" cy="115.8" r="3.25" fill="#ebb584"/>
<circle cx="1087.3" cy="104.6" r="3.25" fill="#00e0d0"/>
<circle cx="1105.5" cy="107.6" r="3.25" fill="#ebb584"/>
<circle cx="1097.7" cy="114" r="3.25" fill="#ebb584"/>
<circle cx="1131.5" cy="112.6" r="3.25" fill="#00e0d0"/>
<circle cx="1142.1" cy="109.9" r="3.25" fill="#00e0d0"/>
<circle cx="1079.7" cy="125.3" r="3.25" fill="#00e0d0"/>
<circle cx="1085.3" cy="128.2" r="3.25" fill="#00e0d0"/>
<circle cx="1161.8" cy="114.9" r="3.25" fill="#00e0d0"/>
<circle cx="1211.2" cy="119.3" r="3.25" fill="#ebb584"/>
<circle cx="1231.4" cy="114.1" r="3.25" fill="#ebb584"/>
<circle cx="1225.3" cy="123.1" r="3.25" fill="#ebb584"/>
<circle cx="1250.1" cy="108.5" r="3.25" fill="#e0883c"/>
<circle cx="1241.2" cy="130.1" r="3.25" fill="#e0883c"/>
<circle cx="1252" cy="127.1" r="3.25" fill="#e0883c"/>
<circle cx="1214.4" cy="132.5" r="3.25" fill="#ebb584"/>
<circle cx="1237.8" cy="138.2" r="3.25" fill="#e0883c"/>
<circle cx="1242.2" cy="138.6" r="3.25" fill="#e0883c"/>
<circle cx="1205.8" cy="145.6" r="3.25" fill="#ebb584"/>
<circle cx="1237.8" cy="152.8" r="3.25" fill="#e0883c"/>
<circle cx="1249.1" cy="156.4" r="3.25" fill="#e0883c"/>
<circle cx="1208" cy="161.4" r="3.25" fill="#ebb584"/>
<circle cx="1209.8" cy="169.4" r="3.25" fill="#e0883c"/>
<circle cx="1230.3" cy="162" r="3.25" fill="#ebb584"/>
<circle cx="1235" cy="162" r="3.25" fill="#ebb584"/>
<circle cx="1200.5" cy="173.2" r="3.25" fill="#ebb584"/>
<circle cx="1221.8" cy="173.9" r="3.25" fill="#ebb584"/>
<circle cx="1234.4" cy="181.7" r="3.25" fill="#e0883c"/>
<circle cx="1202" cy="200.7" r="3.25" fill="#e0883c"/>
<circle cx="992.2" cy="130.7" r="3.25" fill="#e0883c"/>
<circle cx="982.7" cy="140.4" r="3.25" fill="#e0883c"/>
<circle cx="1000.6" cy="143" r="3.25" fill="#e0883c"/>
<circle cx="964.3" cy="153.4" r="3.25" fill="#ebb584"/>
<circle cx="998.8" cy="159.8" r="3.25" fill="#ebb584"/>
<circle cx="982.1" cy="168.9" r="3.25" fill="#e0883c"/>
<circle cx="999.2" cy="168.5" r="3.25" fill="#e0883c"/>
<circle cx="967.8" cy="173.5" r="3.25" fill="#e0883c"/>
<circle cx="1013.9" cy="173.7" r="3.25" fill="#a0460a"/>
<circle cx="946.4" cy="180.4" r="3.25" fill="#a0460a"/>
<circle cx="954.7" cy="182.5" r="3.25" fill="#a0460a"/>
<circle cx="975.7" cy="184.5" r="3.25" fill="#a0460a"/>
<circle cx="957.4" cy="188" r="3.25" fill="#a0460a"/>
<circle cx="941.4" cy="189.6" r="3.25" fill="#a0460a"/>
<circle cx="952.1" cy="192.9" r="3.25" fill="#a0460a"/>
<circle cx="931.1" cy="196.4" r="3.25" fill="#a0460a"/>
<circle cx="924.5" cy="199.4" r="3.25" fill="#a0460a"/>
<circle cx="981.4" cy="197.6" r="3.25" fill="#a0460a"/>
<circle cx="990.5" cy="199.4" r="3.25" fill="#a0460a"/>
<circle cx="986.9" cy="202.2" r="3.25" fill="#a0460a"/>
<circle cx="980.5" cy="204.5" r="3.25" fill="#a0460a"/>
<circle cx="1001" cy="196.1" r="3.25" fill="#a0460a"/>
<circle cx="1014.8" cy="198.5" r="3.25" fill="#a0460a"/>
<circle cx="1019.8" cy="195.7" r="3.25" fill="#a0460a"/>
<circle cx="942.9" cy="210" r="3.25" fill="#a0460a"/>
<circle cx="953.7" cy="207.9" r="3.25" fill="#a0460a"/>
<circle cx="964.6" cy="206.8" r="3.25" fill="#a0460a"/>
<circle cx="943.4" cy="215.9" r="3.25" fill="#a0460a"/>
<circle cx="932.7" cy="219.1" r="3.25" fill="#a0460a"/>
<circle cx="928.5" cy="222.3" r="3.25" fill="#a0460a"/>
<circle cx="978.9" cy="216.6" r="3.25" fill="#a0460a"/>
<circle cx="1006.1" cy="209.5" r="3.25" fill="#a0460a"/>
<circle cx="934.7" cy="234.7" r="3.25" fill="#a0460a"/>
<circle cx="956.7" cy="234.2" r="3.25" fill="#a0460a"/>
<circle cx="1014.8" cy="224.6" r="3.25" fill="#e0883c"/>
<circle cx="1007.4" cy="230.5" r="3.25" fill="#e0883c"/>
<circle cx="982.3" cy="239.1" r="3.25" fill="#e0883c"/>
<circle cx="993.7" cy="239.7" r="3.25" fill="#ebb584"/>
<circle cx="966.9" cy="243.1" r="3.25" fill="#e0883c"/>
<circle cx="985.2" cy="247.3" r="3.25" fill="#e0883c"/>
<circle cx="929.2" cy="248.5" r="3.25" fill="#a0460a"/>
<circle cx="972" cy="251.3" r="3.25" fill="#e0883c"/>
<circle cx="938.5" cy="253.6" r="3.25" fill="#a0460a"/>
<circle cx="948.1" cy="254.8" r="3.25" fill="#a0460a"/>
<circle cx="974.7" cy="258.6" r="3.25" fill="#e0883c"/>
<circle cx="1015.4" cy="256.5" r="3.25" fill="#e0883c"/>
<circle cx="1034.8" cy="134" r="3.25" fill="#ebb584"/>
<circle cx="1046.2" cy="138.9" r="3.25" fill="#fde8c8"/>
<circle cx="1057.4" cy="137.8" r="3.25" fill="#00c8d0"/>
<circle cx="1098.6" cy="131.9" r="3.25" fill="#fde8c8"/>
<circle cx="1110.5" cy="128.8" r="3.25" fill="#fde8c8"/>
<circle cx="1141.9" cy="133.2" r="3.25" fill="#fde8c8"/>
<circle cx="1074.8" cy="143.3" r="3.25" fill="#ebb584"/>
<circle cx="1092.9" cy="146.8" r="3.25" fill="#fde8c8"/>
<circle cx="1108.8" cy="149.9" r="3.25" fill="#fde8c8"/>
<circle cx="1138.4" cy="145.6" r="3.25" fill="#fde8c8"/>
<circle cx="1137.7" cy="151.1" r="3.25" fill="#ebb584"/>
<circle cx="1127.4" cy="154.7" r="3.25" fill="#ebb584"/>
<circle cx="1032.7" cy="150.2" r="3.25" fill="#ebb584"/>
<circle cx="1046.2" cy="149.2" r="3.25" fill="#ebb584"/>
<circle cx="1056.1" cy="160.7" r="3.25" fill="#e0883c"/>
<circle cx="1072.5" cy="158.4" r="3.25" fill="#ebb584"/>
<circle cx="1140.7" cy="164.3" r="3.25" fill="#ebb584"/>
<circle cx="1141.5" cy="167.1" r="3.25" fill="#ebb584"/>
<circle cx="1077.6" cy="168.7" r="3.25" fill="#e0883c"/>
<circle cx="1134.4" cy="173.5" r="3.25" fill="#ebb584"/>
<circle cx="1095.4" cy="179" r="3.25" fill="#e0883c"/>
<circle cx="1105.6" cy="183.6" r="3.25" fill="#e0883c"/>
<circle cx="1031.8" cy="183.4" r="3.25" fill="#a0460a"/>
<circle cx="1059" cy="182.2" r="3.25" fill="#e0883c"/>
<circle cx="1148.8" cy="189.1" r="3.25" fill="#ebb584"/>
<circle cx="1156.2" cy="128.8" r="3.25" fill="#00e0d0"/>
<circle cx="1168.6" cy="136.9" r="3.25" fill="#fde8c8"/>
<circle cx="1166.5" cy="142.4" r="3.25" fill="#8eecec"/>
<circle cx="1161.9" cy="163" r="3.25" fill="#ebb584"/>
<circle cx="1187.3" cy="163.9" r="3.25" fill="#fde8c8"/>
<circle cx="1191.2" cy="175.1" r="3.25" fill="#fde8c8"/>
<circle cx="1162.4" cy="178.1" r="3.25" fill="#8eecec"/>
<circle cx="1164.7" cy="186" r="3.25" fill="#8eecec"/>
<circle cx="1194.7" cy="190" r="3.25" fill="#e0883c"/>
<circle cx="1030.7" cy="197.3" r="3.25" fill="#a0460a"/>
<circle cx="1045.6" cy="192.2" r="3.25" fill="#e0883c"/>
<circle cx="1042.8" cy="205.8" r="3.25" fill="#e0883c"/>
<circle cx="1039" cy="214.7" r="3.25" fill="#e0883c"/>
<circle cx="1072.6" cy="207.9" r="3.25" fill="#e0883c"/>
<circle cx="1086.1" cy="197.5" r="3.25" fill="#e0883c"/>
<circle cx="1058.8" cy="220.5" r="3.25" fill="#e0883c"/>
<circle cx="1077.3" cy="219.8" r="3.25" fill="#e0883c"/>
<circle cx="1069.2" cy="225.7" r="3.25" fill="#e0883c"/>
<circle cx="1069.8" cy="232.8" r="3.25" fill="#e0883c"/>
<circle cx="1081.8" cy="233.4" r="3.25" fill="#e0883c"/>
<circle cx="1089.2" cy="225.7" r="3.25" fill="#e0883c"/>
<circle cx="1090.8" cy="214.3" r="3.25" fill="#e0883c"/>
<circle cx="1094.2" cy="206.9" r="3.25" fill="#ebb584"/>
<circle cx="1103.4" cy="202.5" r="3.25" fill="#ebb584"/>
<circle cx="1103.4" cy="207.3" r="3.25" fill="#ebb584"/>
<circle cx="1116.5" cy="196.7" r="3.25" fill="#ebb584"/>
<circle cx="1112.2" cy="211.6" r="3.25" fill="#ebb584"/>
<circle cx="1121.5" cy="210.2" r="3.25" fill="#e0883c"/>
<circle cx="1132.9" cy="204.6" r="3.25" fill="#e0883c"/>
<circle cx="1139.8" cy="210.1" r="3.25" fill="#e0883c"/>
<circle cx="1110.5" cy="220.5" r="3.25" fill="#e0883c"/>
<circle cx="1122.6" cy="219.8" r="3.25" fill="#e0883c"/>
<circle cx="1105.7" cy="231.7" r="3.25" fill="#ebb584"/>
<circle cx="1127.9" cy="227.1" r="3.25" fill="#ebb584"/>
<circle cx="1125.8" cy="232" r="3.25" fill="#e0883c"/>
<circle cx="1132.8" cy="231.3" r="3.25" fill="#ebb584"/>
<circle cx="1122.7" cy="236.8" r="3.25" fill="#e0883c"/>
<circle cx="1117.6" cy="241" r="3.25" fill="#e0883c"/>
<circle cx="1142.1" cy="223.3" r="3.25" fill="#e0883c"/>
<circle cx="1102.4" cy="242.6" r="3.25" fill="#ebb584"/>
<circle cx="1090.4" cy="244" r="3.25" fill="#e0883c"/>
<circle cx="1080.6" cy="242.8" r="3.25" fill="#e0883c"/>
<circle cx="1053.2" cy="236.6" r="3.25" fill="#e0883c"/>
<circle cx="1038.6" cy="240.5" r="3.25" fill="#e0883c"/>
<circle cx="1050.6" cy="244.7" r="3.25" fill="#e0883c"/>
<circle cx="1031" cy="247.2" r="3.25" fill="#e0883c"/>
<circle cx="1057.1" cy="251.4" r="3.25" fill="#e0883c"/>
<circle cx="1070.2" cy="252.8" r="3.25" fill="#e0883c"/>
<circle cx="1045" cy="259.5" r="3.25" fill="#e0883c"/>
<circle cx="1148.3" cy="205.2" r="3.25" fill="#e0883c"/>
<circle cx="1155.7" cy="204.2" r="3.25" fill="#e0883c"/>
<circle cx="1165.7" cy="204" r="3.25" fill="#ebb584"/>
<circle cx="1148.5" cy="212.8" r="3.25" fill="#ebb584"/>
<circle cx="1157.4" cy="215.4" r="3.25" fill="#e0883c"/>
<circle cx="963.3" cy="262.4" r="3.25" fill="#a0460a"/>
<circle cx="992.3" cy="262.2" r="3.25" fill="#e0883c"/>
<circle cx="1019.4" cy="264.2" r="3.25" fill="#e0883c"/>
<circle cx="1003.4" cy="267" r="3.25" fill="#e0883c"/>
<circle cx="916" cy="266.5" r="3.25" fill="#a0460a"/>
<circle cx="928.8" cy="269" r="3.25" fill="#e0883c"/>
<circle cx="953" cy="269.2" r="3.25" fill="#a0460a"/>
<circle cx="965.4" cy="271.5" r="3.25" fill="#e0883c"/>
<circle cx="987.9" cy="274" r="3.25" fill="#e0883c"/>
<circle cx="914.4" cy="282.5" r="3.25" fill="#e0883c"/>
<circle cx="937.5" cy="293" r="3.25" fill="#e0883c"/>
<circle cx="962.3" cy="291.6" r="3.25" fill="#a0460a"/>
<circle cx="968.7" cy="287.1" r="3.25" fill="#e0883c"/>
<circle cx="915.8" cy="300.7" r="3.25" fill="#00e0d0"/>
<circle cx="950.8" cy="303.6" r="3.25" fill="#e0883c"/>
<circle cx="925.6" cy="309.8" r="3.25" fill="#ebb584"/>
<circle cx="952.7" cy="311" r="3.25" fill="#a0460a"/>
<circle cx="976.9" cy="311" r="3.25" fill="#a0460a"/>
<circle cx="922.2" cy="320.4" r="3.25" fill="#e0883c"/>
<circle cx="955.6" cy="320.4" r="3.25" fill="#a0460a"/>
<circle cx="939.8" cy="328.5" r="3.25" fill="#e0883c"/>
</g>
<g fill="none" stroke="#000" stroke-linejoin="round" stroke-linecap="round" clip-path="url(#mc2)">
<polyline points="896.2,72 904.5,70.6 911.8,72.4 917.8,77 921,76.1 926.5,71.8 933.8,74.7 942.9,75.4 952.1,75.6 962.2,76.3 963.1,73.3 960.3,67.4 960.1,59.6 967.6,56.4 973.1,59.1 984.1,60.8 991.4,64.2 997.8,65.6 1008.8,66.5 1016.1,69.2 1017.1,72.4 1022.5,74.2 1028.4,72.2 1039.2,72.5 1044.6,77 1050.1,81.7 1053.2,89 1049.3,94.1 1053.9,98.3 1049.3,102.2 1055.5,107.2 1064,107.2 1067.9,103.7 1084.9,100.2 1097.2,102.3 1102.2,104 1108.5,106.6 1114.9,113.5 1120.7,116.2 1128.6,112.5 1136,109.3 1146.6,107.7 1157.1,110.3 1167.7,115.6 1178.2,118.3 1183.5,116.2 1194.1,118.8 1195.1,113.5 1199.3,109.8 1209.9,109.5 1218.4,105.1 1226.8,102.4 1232.2,103.4 1238.9,102.2 1241.8,105.1 1244.7,108 1248,108.2" stroke-width="1.05"/>
<polyline points="1053.2,89 1057.8,82.4 1066.3,81.3 1071.7,84.4 1087.2,86.3 1088.8,90.2 1090.3,91 1087.2,92.5 1084.9,100.2" stroke-width="1.05"/>
<polygon points="1116.6,99.5 1111.6,103.7 1118.9,105.7" stroke-width="1.0"/>
<polyline points="927.5,347.5 933.8,340.1 939.4,331.7 943.6,325.3 948.6,320.8 955.6,320.1 966.2,318.6 960.5,324.6 957.7,328.1 950.7,328.5 948.6,326.4 952.7,325.8 958.2,322.5 966.2,318.6 973.9,315.1 978.8,313 982.7,309.1 978.1,307.7 974.6,304.9 970.4,301.4 966.2,300.7 968.3,302.8 964.1,302.1 961.2,300 960.8,299.1 964.6,296.3 968.8,292.8 973.1,289.1 979.9,282.3 985.8,277.7 992.5,273 1001,269.6 1010.3,267.5 1015.8,270.1 1018.7,267.1 1022.9,264.6 1031.4,261.4 1043.2,260.8 1049.1,258.6 1057.6,255.3 1068.6,254 1077,252.3 1087.2,250.6 1096.8,249 1104.2,245.8 1117.9,244 1126.6,242.8 1133.4,235.8 1140.8,227.1 1146.2,222.1 1158.1,218.7 1169.1,213.4 1178.3,209 1190.2,205.1 1201.1,201.5 1206.6,198.7 1210.9,195 1223.5,192.2 1230.3,186.5 1237.2,183.1 1242.9,177.4 1246.3,178.3 1254.3,172.2 1258.3,164.2 1253.1,156.8 1256,151.1 1253.1,146.5 1247.4,143.1 1244.6,139.7 1243.6,135 1244.2,131.5 1246.1,129.6 1249,128.7 1252.4,129.6 1255.3,130.8 1257.2,129.6 1260.1,130.3 1262,129.6 1263,128.2 1263.9,126.3 1263.5,124.8 1265.4,123.8 1265.9,122.4 1268.7,121.7 1264.9,120 1261,119 1259.6,120 1257.7,117.6 1253.4,119.8 1251.4,118.6 1249.5,116.6 1249,113.8 1248.5,111.3 1250,108.9 1250.5,106.5 1249,104.6 1246.1,102.9 1245.2,100.3 1246.1,99.3 1247.4,99 1241.1,97.1 1236.9,95.7 1235.6,89.5 1234.5,87.4 1234.9,76.9 1235.2,62.9 1235.2,56 1236.9,52.5 1236.3,49 1235.2,44" stroke-width="2.0"/>
<polyline points="1237,52.3 1230.8,47 1231.4,50.4 1231,56 1225.1,61.5 1227.5,65 1234.2,65 1234.8,58" stroke-width="1.6"/>
<polygon points="1229.7,45 1237.2,45 1236.7,48 1233.2,49.5 1230.2,48" fill="#000" stroke-width="1.0"/>
<polygon points="896.7,228.2 906.4,226.9 915.4,233.7 913.8,234.1 905.8,230.2 896.7,231.2" fill="#000" stroke-width="0.6"/>
</g>
<rect x="897.4" y="44.8" width="386.1" height="301.6" fill="none" stroke="#000" stroke-width="1.6"/>
<g font-family="Liberation Sans, sans-serif" font-size="23.52"><text x="-3.27" y="0" transform="translate(0,33.6) translate(945.57,0) scale(1.007,1)">I</text><text x="-9.8" y="0" transform="translate(0,33.6) translate(958.54,0) scale(0.950,1)">M</text><text x="-8.3" y="0" transform="translate(0,33.6) translate(975.66,0) scale(0.850,1)">E</text><text x="-8.91" y="0" transform="translate(0,33.6) translate(990.91,0) scale(0.911,1)">R</text><text x="-8.86" y="0" transform="translate(0,33.6) translate(1006.31,0) scale(0.929,1)">G</text><text x="-6.49" y="0" transform="translate(0,33.6) translate(1020.88,0) scale(0.850,1)">_</text><text x="-7.68" y="0" transform="translate(0,33.6) translate(1033.37,0) scale(0.850,1)">F</text><text x="-7.04" y="0" transform="translate(0,33.6) translate(1053,0) scale(0.856,1)">a</text><text x="-6.56" y="0" transform="translate(0,33.6) translate(1067.37,0) scale(1.027,1)">n</text><text x="-6.28" y="0" transform="translate(0,33.6) translate(1081.11,0) scale(1.035,1)">d</text><text x="-8.91" y="0" transform="translate(0,33.6) translate(1104.3,0) scale(0.911,1)">R</text><text x="-7.04" y="0" transform="translate(0,33.6) translate(1117.83,0) scale(0.856,1)">a</text><text x="-2.61" y="0" transform="translate(0,33.6) translate(1128.15,0) scale(0.974,1)">i</text><text x="-6.56" y="0" transform="translate(0,33.6) translate(1138.42,0) scale(1.027,1)">n</text><text x="-8.86" y="0" transform="translate(0,33.6) translate(1160.96,0) scale(0.929,1)">G</text><text x="-7.04" y="0" transform="translate(0,33.6) translate(1176.45,0) scale(0.856,1)">a</text><text x="-6.52" y="0" transform="translate(0,33.6) translate(1190.69,0) scale(1.027,1)">u</text><text x="-6.28" y="0" transform="translate(0,33.6) translate(1204.57,0) scale(1.035,1)">g</text><text x="-6.52" y="0" transform="translate(0,33.6) translate(1218.99,0) scale(1.029,1)">e</text><text x="-5.78" y="0" transform="translate(0,33.6) translate(1231.75,0) scale(0.913,1)">s</text></g>
<rect x="1301" y="33.8" width="17.4" height="53.05" fill="#00c8d0"/>
<rect x="1301" y="86.55" width="17.4" height="53.05" fill="#00e0d0"/>
<rect x="1301" y="139.3" width="17.4" height="53.05" fill="#8eecec"/>
<rect x="1301" y="192.05" width="17.4" height="53.05" fill="#fde8c8"/>
<rect x="1301" y="244.8" width="17.4" height="53.05" fill="#ebb584"/>
<rect x="1301" y="297.55" width="17.4" height="53.05" fill="#e0883c"/>
<path d="M1301,34.1 L1309.7,17.8 L1318.4,34.1 Z" fill="#008080"/>
<path d="M1301,350.3 L1309.7,365.6 L1318.4,350.3 Z" fill="#a0460a"/>
<path d="M1301,33.8 L1309.7,17.8 L1318.4,33.8 L1318.4,350.3 L1309.7,365.6 L1301,350.3 Z" fill="none" stroke="#000" stroke-width="1.6" stroke-linejoin="miter"/>
<line x1="1318.4" y1="33.8" x2="1325.6" y2="33.8" stroke="#000" stroke-width="1.6"/>
<g font-family="Liberation Sans, sans-serif" font-size="19.64"><text x="-5.73" y="0" transform="translate(0,40.5) translate(1337.56,0) scale(0.959,1)">1</text><text x="-5.4" y="0" transform="translate(0,40.5) translate(1349.23,0) scale(1.004,1)">4</text><text x="-5.46" y="0" transform="translate(0,40.5) translate(1361.19,0) scale(1.004,1)">0</text><text x="-5.46" y="0" transform="translate(0,40.5) translate(1373.09,0) scale(1.004,1)">0</text></g>
<line x1="1318.4" y1="86.55" x2="1325.6" y2="86.55" stroke="#000" stroke-width="1.6"/>
<g font-family="Liberation Sans, sans-serif" font-size="19.64"><text x="-5.73" y="0" transform="translate(0,93.25) translate(1337.56,0) scale(0.959,1)">1</text><text x="-5.46" y="0" transform="translate(0,93.25) translate(1349.05,0) scale(0.968,1)">2</text><text x="-5.46" y="0" transform="translate(0,93.25) translate(1361.19,0) scale(1.004,1)">0</text><text x="-5.46" y="0" transform="translate(0,93.25) translate(1373.09,0) scale(1.004,1)">0</text></g>
<line x1="1318.4" y1="139.3" x2="1325.6" y2="139.3" stroke="#000" stroke-width="1.6"/>
<g font-family="Liberation Sans, sans-serif" font-size="19.64"><text x="-5.73" y="0" transform="translate(0,146) translate(1337.56,0) scale(0.959,1)">1</text><text x="-5.46" y="0" transform="translate(0,146) translate(1349.29,0) scale(1.004,1)">0</text><text x="-5.44" y="0" transform="translate(0,146) translate(1361.1,0) scale(0.947,1)">5</text><text x="-5.46" y="0" transform="translate(0,146) translate(1373.09,0) scale(1.004,1)">0</text></g>
<line x1="1318.4" y1="192.05" x2="1325.6" y2="192.05" stroke="#000" stroke-width="1.6"/>
<g font-family="Liberation Sans, sans-serif" font-size="19.64"><text x="-5.46" y="0" transform="translate(0,198.75) translate(1337.33,0) scale(1.037,1)">9</text><text x="-5.46" y="0" transform="translate(0,198.75) translate(1349.29,0) scale(1.004,1)">0</text><text x="-5.46" y="0" transform="translate(0,198.75) translate(1361.19,0) scale(1.004,1)">0</text></g>
<line x1="1318.4" y1="244.8" x2="1325.6" y2="244.8" stroke="#000" stroke-width="1.6"/>
<g font-family="Liberation Sans, sans-serif" font-size="19.64"><text x="-5.47" y="0" transform="translate(0,251.5) translate(1337.37,0) scale(0.982,1)">7</text><text x="-5.44" y="0" transform="translate(0,251.5) translate(1349.2,0) scale(0.947,1)">5</text><text x="-5.46" y="0" transform="translate(0,251.5) translate(1361.19,0) scale(1.004,1)">0</text></g>
<line x1="1318.4" y1="297.55" x2="1325.6" y2="297.55" stroke="#000" stroke-width="1.6"/>
<g font-family="Liberation Sans, sans-serif" font-size="19.64"><text x="-5.53" y="0" transform="translate(0,304.25) translate(1337.46,0) scale(1.039,1)">6</text><text x="-5.46" y="0" transform="translate(0,304.25) translate(1349.29,0) scale(1.004,1)">0</text><text x="-5.46" y="0" transform="translate(0,304.25) translate(1361.19,0) scale(1.004,1)">0</text></g>
<line x1="1318.4" y1="350.3" x2="1325.6" y2="350.3" stroke="#000" stroke-width="1.6"/>
<g font-family="Liberation Sans, sans-serif" font-size="19.64"><text x="-5.4" y="0" transform="translate(0,357) translate(1337.33,0) scale(1.004,1)">4</text><text x="-5.44" y="0" transform="translate(0,357) translate(1349.2,0) scale(0.947,1)">5</text><text x="-5.46" y="0" transform="translate(0,357) translate(1361.19,0) scale(1.004,1)">0</text></g>
<g font-family="Liberation Sans, sans-serif" font-size="19.64"><text x="-8.18" y="0" transform="translate(1402,193.3) rotate(-90) translate(-33.91,0) scale(1.085,1)">m</text><text x="-8.18" y="0" transform="translate(1402,193.3) rotate(-90) translate(-15.7,0) scale(1.085,1)">m</text><text x="-2.73" y="0" transform="translate(1402,193.3) rotate(-90) translate(-3.49,0) scale(1.155,1)">/</text><text x="-4.91" y="0" transform="translate(1402,193.3) rotate(-90) translate(5.19,0) scale(1.023,1)">y</text><text x="-5.44" y="0" transform="translate(1402,193.3) rotate(-90) translate(16.49,0) scale(1.029,1)">e</text><text x="-5.88" y="0" transform="translate(1402,193.3) rotate(-90) translate(27.67,0) scale(0.856,1)">a</text><text x="-3.76" y="0" transform="translate(1402,193.3) rotate(-90) translate(38.38,0) scale(1.220,1)">r</text></g>
<path d="M165.55,760.77 H174.12 V745.44 H165.55 Z M174.12,760.77 H182.69 V730.11 H174.12 Z M182.69,760.77 H191.25 V630.45 H182.69 Z M191.25,760.77 H199.82 V645.78 H191.25 Z M199.82,753.1 H208.39 V615.12 H199.82 Z M208.39,722.44 H216.95 V538.46 H208.39 Z M216.95,630.45 H225.52 V553.79 H216.95 Z M302.62,745.44 H311.19 V737.77 H302.62 Z M311.19,753.1 H319.75 V737.77 H311.19 Z M319.75,760.77 H328.32 V737.77 H319.75 Z M328.32,760.77 H336.88 V753.1 H328.32 Z M354.02,760.77 H362.58 V753.1 H354.02 Z" fill="rgb(191,191,191)" shape-rendering="crispEdges"/><path d="M225.52,630.45 H234.09 V576.79 H225.52 Z M234.09,645.78 H242.65 V584.45 H234.09 Z M242.65,691.78 H251.22 V561.45 H242.65 Z M251.22,730.11 H259.79 V576.79 H251.22 Z M259.79,745.44 H268.35 V638.11 H259.79 Z M268.35,714.77 H276.92 V661.11 H268.35 Z M276.92,745.44 H285.49 V684.11 H276.92 Z M285.49,753.1 H294.05 V653.45 H285.49 Z M294.05,753.1 H302.62 V737.77 H294.05 Z M388.28,760.77 H396.85 V753.1 H388.28 Z M396.85,753.1 H405.42 V745.44 H396.85 Z" fill="rgb(253,217,213)" shape-rendering="crispEdges"/><path d="M199.82,760.77 H208.39 V753.1 H199.82 Z M208.39,760.77 H216.95 V722.44 H208.39 Z M216.95,760.77 H225.52 V630.45 H216.95 Z M225.52,760.77 H234.09 V630.45 H225.52 Z M234.09,760.77 H242.65 V645.78 H234.09 Z M242.65,760.77 H251.22 V691.78 H242.65 Z M251.22,760.77 H259.79 V730.11 H251.22 Z M259.79,760.77 H268.35 V745.44 H259.79 Z M268.35,760.77 H276.92 V714.77 H268.35 Z M276.92,760.77 H285.49 V745.44 H276.92 Z M285.49,760.77 H294.05 V753.1 H285.49 Z M294.05,760.77 H302.62 V753.1 H294.05 Z M302.62,760.77 H311.19 V745.44 H302.62 Z M311.19,760.77 H319.75 V753.1 H311.19 Z M336.88,760.77 H345.45 V745.44 H336.88 Z M371.15,760.77 H379.72 V753.1 H371.15 Z M379.72,760.77 H388.28 V753.1 H379.72 Z M396.85,760.77 H405.42 V753.1 H396.85 Z" fill="rgb(218,175,170)" shape-rendering="crispEdges"/>
<polyline points="173.2,716.64 173.77,714.89 174.34,713.1 174.92,711.27 175.49,709.4 176.06,707.49 176.63,705.55 177.2,703.57 177.78,701.56 178.35,699.52 178.92,697.46 179.49,695.37 180.06,693.25 180.64,691.12 181.21,688.96 181.78,686.79 182.35,684.6 182.92,682.4 183.49,680.18 184.07,677.96 184.64,675.73 185.21,673.49 185.78,671.25 186.35,669 186.93,666.76 187.5,664.52 188.07,662.28 188.64,660.05 189.21,657.83 189.79,655.62 190.36,653.42 190.93,651.23 191.5,649.06 192.07,646.91 192.65,644.78 193.22,642.67 193.79,640.59 194.36,638.53 194.93,636.5 195.51,634.49 196.08,632.52 196.65,630.59 197.22,628.69 197.79,626.83 198.36,625 198.94,623.22 199.51,621.49 200.08,619.79 200.65,618.14 201.22,616.54 201.8,614.99 202.37,613.48 202.94,612.03 203.51,610.62 204.08,609.27 204.66,607.97 205.23,606.73 205.8,605.54 206.37,604.41 206.94,603.33 207.52,602.32 208.09,601.36 208.66,600.47 209.23,599.64 209.8,598.87 210.38,598.17 210.95,597.54 211.52,596.97 212.09,596.47 212.66,596.04 213.24,595.68 213.81,595.4 214.38,595.18 214.95,595.04 215.52,594.98 216.09,594.99 216.67,595.08 217.24,595.25 217.81,595.5 218.38,595.83 218.95,596.25 219.53,596.74 220.1,597.33 220.67,597.99 221.24,598.75 221.81,599.59 222.39,600.52 222.96,601.53 223.53,602.62 224.1,603.78 224.67,605.02 225.25,606.33 225.82,607.71 226.39,609.15 226.96,610.66 227.53,612.23 228.11,613.86 228.68,615.54 229.25,617.28 229.82,619.06 230.39,620.9 230.96,622.77 231.54,624.69 232.11,626.65 232.68,628.65 233.25,630.68 233.82,632.74 234.4,634.83 234.97,636.94 235.54,639.08 236.11,641.24 236.68,643.41 237.26,645.6 237.83,647.79 238.4,650 238.97,652.21 239.54,654.42 240.12,656.62 240.69,658.83 241.26,661.03 241.83,663.21 242.4,665.39 242.98,667.54 243.55,669.68 244.12,671.8 244.69,673.89 245.26,675.95 245.84,677.99 246.41,679.99 246.98,681.95 247.55,683.87 248.12,685.75 248.69,687.58 249.27,689.37 249.84,691.11 250.41,692.81 250.98,694.46 251.55,696.08 252.13,697.64 252.7,699.17 253.27,700.65 253.84,702.09 254.41,703.49 254.99,704.85 255.56,706.16 256.13,707.44 256.7,708.68 257.27,709.88 257.85,711.04 258.42,712.17 258.99,713.26 259.56,714.32 260.13,715.35 260.71,716.36 261.28,717.34 261.85,718.3 262.42,719.24 262.99,720.16 263.56,721.06 264.14,721.95 264.71,722.82 265.28,723.68 265.85,724.52 266.42,725.34 267,726.15 267.57,726.95 268.14,727.72 268.71,728.48 269.28,729.23 269.86,729.95 270.43,730.67 271,731.36 271.57,732.04 272.14,732.7 272.72,733.35 273.29,733.98 273.86,734.59 274.43,735.19 275,735.77 275.58,736.33 276.15,736.88 276.72,737.41 277.29,737.92 277.86,738.42 278.44,738.9 279.01,739.36 279.58,739.81 280.15,740.24 280.72,740.65 281.29,741.05 281.87,741.43 282.44,741.79 283.01,742.14 283.58,742.47 284.15,742.78 284.73,743.07 285.3,743.35 285.87,743.61 286.44,743.85 287.01,744.08 287.59,744.29 288.16,744.48 288.73,744.65 289.3,744.81 289.87,744.95 290.45,745.07 291.02,745.18 291.59,745.26 292.16,745.33 292.73,745.39 293.31,745.42 293.88,745.44 294.45,745.44 295.02,745.42 295.59,745.38 296.16,745.33 296.74,745.27 297.31,745.19 297.88,745.1 298.45,745 299.02,744.88 299.6,744.76 300.17,744.64 300.74,744.5 301.31,744.36 301.88,744.22 302.46,744.08 303.03,743.93 303.6,743.78 304.17,743.64 304.74,743.5 305.32,743.36 305.89,743.22 306.46,743.09 307.03,742.97 307.6,742.86 308.18,742.75 308.75,742.66 309.32,742.57 309.89,742.49 310.46,742.43 311.04,742.37 311.61,742.32 312.18,742.29 312.75,742.26 313.32,742.24 313.89,742.23 314.47,742.22 315.04,742.23 315.61,742.25 316.18,742.27 316.75,742.31 317.33,742.35 317.9,742.4 318.47,742.46 319.04,742.53 319.61,742.61 320.19,742.69 320.76,742.79 321.33,742.89 321.9,743 322.47,743.12 323.05,743.25 323.62,743.39 324.19,743.53 324.76,743.68 325.33,743.84 325.91,744.01 326.48,744.18 327.05,744.36 327.62,744.55 328.19,744.74 328.76,744.93 329.34,745.14 329.91,745.34 330.48,745.56 331.05,745.77 331.62,745.99 332.2,746.22 332.77,746.44 333.34,746.67 333.91,746.91 334.48,747.14 335.06,747.38 335.63,747.62 336.2,747.86 336.77,748.1 337.34,748.35 337.92,748.59 338.49,748.83 339.06,749.08 339.63,749.32 340.2,749.57 340.78,749.81 341.35,750.05 341.92,750.29 342.49,750.53 343.06,750.77 343.64,751 344.21,751.23 344.78,751.46 345.35,751.68 345.92,751.91 346.49,752.12 347.07,752.34 347.64,752.55 348.21,752.75 348.78,752.95 349.35,753.14 349.93,753.33 350.5,753.51 351.07,753.69 351.64,753.86 352.21,754.02 352.79,754.17 353.36,754.32 353.93,754.46 354.5,754.59 355.07,754.71 355.65,754.83 356.22,754.94 356.79,755.04 357.36,755.13 357.93,755.21 358.51,755.29 359.08,755.36 359.65,755.43 360.22,755.49 360.79,755.54 361.36,755.59 361.94,755.63 362.51,755.67 363.08,755.7 363.65,755.73 364.22,755.75 364.8,755.76 365.37,755.78 365.94,755.79 366.51,755.79 367.08,755.8 367.66,755.79 368.23,755.79 368.8,755.78 369.37,755.77 369.94,755.76 370.52,755.74 371.09,755.73 371.66,755.71 372.23,755.69 372.8,755.67 373.38,755.65 373.95,755.62 374.52,755.6 375.09,755.57 375.66,755.55 376.24,755.52 376.81,755.5 377.38,755.47 377.95,755.45 378.52,755.43 379.09,755.4 379.67,755.38 380.24,755.37 380.81,755.35 381.38,755.33 381.95,755.32 382.53,755.31 383.1,755.3 383.67,755.29 384.24,755.29 384.81,755.29 385.39,755.3 385.96,755.31 386.53,755.32 387.1,755.33 387.67,755.35 388.25,755.38 388.82,755.41 389.39,755.44 389.96,755.48 390.53,755.53 391.11,755.58 391.68,755.64 392.25,755.7 392.82,755.77 393.39,755.85 393.96,755.93 394.54,756.02 395.11,756.12 395.68,756.22 396.25,756.34 396.82,756.46 397.4,756.58 397.97,756.72 398.54,756.87 399.11,757.02 399.68,757.18 400.26,757.36 400.83,757.54 401.4,757.73" fill="none" stroke="#808080" stroke-width="2.6" stroke-linejoin="round"/>
<polyline points="207,725.44 207.48,722.24 207.96,719.06 208.44,715.88 208.92,712.73 209.4,709.59 209.88,706.46 210.36,703.36 210.84,700.27 211.32,697.21 211.79,694.16 212.27,691.14 212.75,688.15 213.23,685.17 213.71,682.22 214.19,679.3 214.67,676.41 215.15,673.54 215.63,670.71 216.11,667.9 216.59,665.13 217.07,662.38 217.55,659.68 218.03,657 218.51,654.36 218.99,651.76 219.47,649.2 219.95,646.67 220.42,644.19 220.9,641.74 221.38,639.34 221.86,636.98 222.34,634.66 222.82,632.39 223.3,630.17 223.78,627.99 224.26,625.85 224.74,623.77 225.22,621.74 225.7,619.76 226.18,617.82 226.66,615.95 227.14,614.12 227.62,612.35 228.1,610.64 228.58,608.98 229.05,607.37 229.53,605.82 230.01,604.33 230.49,602.89 230.97,601.51 231.45,600.19 231.93,598.92 232.41,597.72 232.89,596.57 233.37,595.48 233.85,594.45 234.33,593.49 234.81,592.58 235.29,591.73 235.77,590.95 236.25,590.22 236.73,589.56 237.21,588.96 237.68,588.43 238.16,587.95 238.64,587.53 239.12,587.17 239.6,586.87 240.08,586.62 240.56,586.43 241.04,586.3 241.52,586.21 242,586.18 242.48,586.2 242.96,586.27 243.44,586.39 243.92,586.56 244.4,586.78 244.88,587.04 245.36,587.35 245.84,587.7 246.31,588.1 246.79,588.54 247.27,589.02 247.75,589.54 248.23,590.1 248.71,590.69 249.19,591.33 249.67,592 250.15,592.71 250.63,593.45 251.11,594.23 251.59,595.03 252.07,595.87 252.55,596.74 253.03,597.64 253.51,598.57 253.99,599.52 254.47,600.51 254.94,601.51 255.42,602.55 255.9,603.6 256.38,604.68 256.86,605.78 257.34,606.9 257.82,608.04 258.3,609.2 258.78,610.37 259.26,611.57 259.74,612.78 260.22,614.01 260.7,615.25 261.18,616.51 261.66,617.78 262.14,619.07 262.62,620.36 263.1,621.67 263.57,622.98 264.05,624.31 264.53,625.64 265.01,626.99 265.49,628.33 265.97,629.69 266.45,631.05 266.93,632.41 267.41,633.78 267.89,635.15 268.37,636.52 268.85,637.9 269.33,639.27 269.81,640.64 270.29,642.02 270.77,643.39 271.25,644.75 271.73,646.11 272.21,647.47 272.68,648.83 273.16,650.17 273.64,651.51 274.12,652.84 274.6,654.16 275.08,655.48 275.56,656.78 276.04,658.07 276.52,659.35 277,660.61 277.48,661.87 277.96,663.11 278.44,664.35 278.92,665.57 279.4,666.78 279.88,667.99 280.36,669.18 280.84,670.37 281.31,671.55 281.79,672.73 282.27,673.89 282.75,675.06 283.23,676.21 283.71,677.36 284.19,678.51 284.67,679.65 285.15,680.79 285.63,681.92 286.11,683.06 286.59,684.19 287.07,685.32 287.55,686.45 288.03,687.58 288.51,688.71 288.99,689.83 289.47,690.96 289.94,692.1 290.42,693.23 290.9,694.37 291.38,695.51 291.86,696.65 292.34,697.8 292.82,698.95 293.3,700.1 293.78,701.26 294.26,702.42 294.74,703.58 295.22,704.75 295.7,705.92 296.18,707.09 296.66,708.27 297.14,709.44 297.62,710.62 298.1,711.79 298.57,712.97 299.05,714.14 299.53,715.31 300.01,716.47 300.49,717.64 300.97,718.79 301.45,719.94 301.93,721.08 302.41,722.21 302.89,723.34 303.37,724.45 303.85,725.56 304.33,726.65 304.81,727.73 305.29,728.8 305.77,729.85 306.25,730.89 306.73,731.91 307.2,732.92 307.68,733.91 308.16,734.88 308.64,735.83 309.12,736.76 309.6,737.68 310.08,738.56 310.56,739.43 311.04,740.28 311.52,741.1 312,741.9 312.48,742.67 312.96,743.43 313.44,744.16 313.92,744.86 314.4,745.55 314.88,746.21 315.36,746.85 315.83,747.46 316.31,748.05 316.79,748.62 317.27,749.16 317.75,749.69 318.23,750.18 318.71,750.66 319.19,751.11 319.67,751.54 320.15,751.94 320.63,752.32 321.11,752.68 321.59,753.02 322.07,753.33 322.55,753.62 323.03,753.88 323.51,754.13 323.99,754.36 324.46,754.57 324.94,754.76 325.42,754.93 325.9,755.09 326.38,755.23 326.86,755.36 327.34,755.48 327.82,755.58 328.3,755.67 328.78,755.75 329.26,755.82 329.74,755.88 330.22,755.93 330.7,755.97 331.18,756.01 331.66,756.04 332.14,756.07 332.62,756.09 333.09,756.11 333.57,756.13 334.05,756.14 334.53,756.16 335.01,756.17 335.49,756.19 335.97,756.21 336.45,756.22 336.93,756.24 337.41,756.26 337.89,756.28 338.37,756.3 338.85,756.32 339.33,756.34 339.81,756.36 340.29,756.38 340.77,756.41 341.25,756.43 341.73,756.45 342.2,756.48 342.68,756.5 343.16,756.52 343.64,756.55 344.12,756.57 344.6,756.6 345.08,756.62 345.56,756.65 346.04,756.67 346.52,756.7 347,756.73 347.48,756.75 347.96,756.78 348.44,756.8 348.92,756.83 349.4,756.85 349.88,756.88 350.36,756.9 350.83,756.93 351.31,756.95 351.79,756.98 352.27,757 352.75,757.03 353.23,757.05 353.71,757.07 354.19,757.09 354.67,757.1 355.15,757.12 355.63,757.13 356.11,757.14 356.59,757.15 357.07,757.16 357.55,757.16 358.03,757.16 358.51,757.16 358.99,757.16 359.46,757.15 359.94,757.13 360.42,757.12 360.9,757.1 361.38,757.07 361.86,757.04 362.34,757.01 362.82,756.97 363.3,756.92 363.78,756.88 364.26,756.82 364.74,756.76 365.22,756.7 365.7,756.62 366.18,756.55 366.66,756.46 367.14,756.37 367.62,756.28 368.09,756.18 368.57,756.08 369.05,755.97 369.53,755.86 370.01,755.74 370.49,755.62 370.97,755.5 371.45,755.37 371.93,755.24 372.41,755.11 372.89,754.98 373.37,754.85 373.85,754.71 374.33,754.58 374.81,754.44 375.29,754.3 375.77,754.16 376.25,754.03 376.72,753.89 377.2,753.75 377.68,753.62 378.16,753.48 378.64,753.35 379.12,753.22 379.6,753.09 380.08,752.97 380.56,752.85 381.04,752.73 381.52,752.61 382,752.5 382.48,752.39 382.96,752.29 383.44,752.19 383.92,752.1 384.4,752.01 384.88,751.93 385.35,751.85 385.83,751.78 386.31,751.72 386.79,751.66 387.27,751.61 387.75,751.57 388.23,751.53 388.71,751.51 389.19,751.49 389.67,751.48 390.15,751.48 390.63,751.49 391.11,751.5 391.59,751.53 392.07,751.57 392.55,751.62 393.03,751.68 393.51,751.75 393.98,751.83 394.46,751.93 394.94,752.03 395.42,752.15 395.9,752.28 396.38,752.42 396.86,752.58 397.34,752.75 397.82,752.93 398.3,753.13" fill="none" stroke="#fa8072" stroke-width="2.6" stroke-linejoin="round"/>
<line x1="230.1" y1="760.6" x2="230.1" y2="404.0" stroke="#000" stroke-width="1.8" stroke-dasharray="6.21,2.69"/>
<line x1="257.5" y1="760.6" x2="257.5" y2="404.0" stroke="#ff0000" stroke-width="1.8" stroke-dasharray="6.21,2.69"/>
<rect x="105.2" y="386.8" width="386.1" height="373.8" fill="none" stroke="#000" stroke-width="1.6"/>
<line x1="122.72" y1="760.6" x2="122.72" y2="767.4" stroke="#000" stroke-width="1.6"/>
<g font-family="Liberation Sans, sans-serif" font-size="23.52"><text x="-6.54" y="0" transform="translate(0,790.3) translate(122.72,0) scale(1.004,1)">0</text></g>
<line x1="208.39" y1="760.6" x2="208.39" y2="767.4" stroke="#000" stroke-width="1.6"/>
<g font-family="Liberation Sans, sans-serif" font-size="23.52"><text x="-6.52" y="0" transform="translate(0,790.3) translate(193.9,0) scale(0.947,1)">5</text><text x="-6.54" y="0" transform="translate(0,790.3) translate(208.26,0) scale(1.004,1)">0</text><text x="-6.54" y="0" transform="translate(0,790.3) translate(222.51,0) scale(1.004,1)">0</text></g>
<line x1="294.05" y1="760.6" x2="294.05" y2="767.4" stroke="#000" stroke-width="1.6"/>
<g font-family="Liberation Sans, sans-serif" font-size="23.52"><text x="-6.86" y="0" transform="translate(0,790.3) translate(272.38,0) scale(0.959,1)">1</text><text x="-6.54" y="0" transform="translate(0,790.3) translate(286.43,0) scale(1.004,1)">0</text><text x="-6.54" y="0" transform="translate(0,790.3) translate(300.69,0) scale(1.004,1)">0</text><text x="-6.54" y="0" transform="translate(0,790.3) translate(314.94,0) scale(1.004,1)">0</text></g>
<line x1="379.72" y1="760.6" x2="379.72" y2="767.4" stroke="#000" stroke-width="1.6"/>
<g font-family="Liberation Sans, sans-serif" font-size="23.52"><text x="-6.86" y="0" transform="translate(0,790.3) translate(358.05,0) scale(0.959,1)">1</text><text x="-6.52" y="0" transform="translate(0,790.3) translate(371.99,0) scale(0.947,1)">5</text><text x="-6.54" y="0" transform="translate(0,790.3) translate(386.35,0) scale(1.004,1)">0</text><text x="-6.54" y="0" transform="translate(0,790.3) translate(400.6,0) scale(1.004,1)">0</text></g>
<line x1="465.38" y1="760.6" x2="465.38" y2="767.4" stroke="#000" stroke-width="1.6"/>
<g font-family="Liberation Sans, sans-serif" font-size="23.52"><text x="-6.54" y="0" transform="translate(0,790.3) translate(443.63,0) scale(0.968,1)">2</text><text x="-6.54" y="0" transform="translate(0,790.3) translate(458.18,0) scale(1.004,1)">0</text><text x="-6.54" y="0" transform="translate(0,790.3) translate(472.43,0) scale(1.004,1)">0</text><text x="-6.54" y="0" transform="translate(0,790.3) translate(486.68,0) scale(1.004,1)">0</text></g>
<rect x="297.7" y="396.2" width="184.4" height="60.1" rx="3.5" fill="#fff" fill-opacity="0.8" stroke="#cccccc" stroke-width="1.3"/>
<line x1="303.8" y1="410.2" x2="343.5" y2="410.2" stroke="#808080" stroke-width="2.6"/>
<line x1="303.8" y1="437.7" x2="343.5" y2="437.7" stroke="#fa8072" stroke-width="2.6"/>
<g font-family="Liberation Sans, sans-serif" font-size="19.64"><text x="-7.44" y="0" transform="translate(0,417.6) translate(363.61,0) scale(0.911,1)">R</text><text x="-5.88" y="0" transform="translate(0,417.6) translate(374.9,0) scale(0.856,1)">a</text><text x="-2.18" y="0" transform="translate(0,417.6) translate(383.52,0) scale(0.974,1)">i</text><text x="-5.47" y="0" transform="translate(0,417.6) translate(392.09,0) scale(1.027,1)">n</text><text x="-7.4" y="0" transform="translate(0,417.6) translate(410.91,0) scale(0.929,1)">G</text><text x="-5.88" y="0" transform="translate(0,417.6) translate(423.84,0) scale(0.856,1)">a</text><text x="-5.45" y="0" transform="translate(0,417.6) translate(435.73,0) scale(1.027,1)">u</text><text x="-5.24" y="0" transform="translate(0,417.6) translate(447.31,0) scale(1.035,1)">g</text><text x="-5.44" y="0" transform="translate(0,417.6) translate(459.35,0) scale(1.029,1)">e</text><text x="-4.83" y="0" transform="translate(0,417.6) translate(470.01,0) scale(0.913,1)">s</text></g>
<g font-family="Liberation Sans, sans-serif" font-size="19.64"><text x="-2.73" y="0" transform="translate(0,445) translate(359.22,0) scale(1.007,1)">I</text><text x="-8.18" y="0" transform="translate(0,445) translate(370.05,0) scale(0.950,1)">M</text><text x="-6.93" y="0" transform="translate(0,445) translate(384.34,0) scale(0.850,1)">E</text><text x="-7.44" y="0" transform="translate(0,445) translate(397.07,0) scale(0.911,1)">R</text><text x="-7.4" y="0" transform="translate(0,445) translate(409.93,0) scale(0.929,1)">G</text><text x="-5.42" y="0" transform="translate(0,445) translate(422.09,0) scale(0.850,1)">_</text><text x="-6.93" y="0" transform="translate(0,445) translate(432.99,0) scale(0.850,1)">E</text></g>
<path d="M561.65,760.77 H570.22 V745.44 H561.65 Z M570.22,760.77 H578.79 V730.11 H570.22 Z M578.79,760.77 H587.35 V630.45 H578.79 Z M587.35,753.1 H595.92 V645.78 H587.35 Z M595.92,753.1 H604.49 V615.12 H595.92 Z M604.49,661.11 H613.05 V538.46 H604.49 Z M613.05,584.45 H621.62 V553.79 H613.05 Z M707.29,753.1 H715.85 V737.77 H707.29 Z M715.85,760.77 H724.42 V737.77 H715.85 Z M732.99,760.77 H741.55 V745.44 H732.99 Z M750.12,760.77 H758.68 V753.1 H750.12 Z" fill="rgb(191,191,191)" shape-rendering="crispEdges"/><path d="M621.62,630.45 H630.19 V569.12 H621.62 Z M630.19,645.78 H638.75 V615.12 H630.19 Z M638.75,691.78 H647.32 V584.45 H638.75 Z M647.32,730.11 H655.89 V638.11 H647.32 Z M655.89,745.44 H664.45 V622.78 H655.89 Z M664.45,714.77 H673.02 V653.45 H664.45 Z M673.02,745.44 H681.59 V691.78 H673.02 Z M681.59,753.1 H690.15 V684.11 H681.59 Z M690.15,753.1 H698.72 V730.11 H690.15 Z M784.38,760.77 H792.95 V753.1 H784.38 Z M792.95,753.1 H801.52 V745.44 H792.95 Z" fill="rgb(207,236,247)" shape-rendering="crispEdges"/><path d="M587.35,760.77 H595.92 V753.1 H587.35 Z M595.92,760.77 H604.49 V753.1 H595.92 Z M604.49,760.77 H613.05 V661.11 H604.49 Z M613.05,760.77 H621.62 V584.45 H613.05 Z M621.62,760.77 H630.19 V630.45 H621.62 Z M630.19,760.77 H638.75 V645.78 H630.19 Z M638.75,760.77 H647.32 V691.78 H638.75 Z M647.32,760.77 H655.89 V730.11 H647.32 Z M655.89,760.77 H664.45 V745.44 H655.89 Z M664.45,760.77 H673.02 V714.77 H664.45 Z M673.02,760.77 H681.59 V745.44 H673.02 Z M681.59,760.77 H690.15 V753.1 H681.59 Z M690.15,760.77 H698.72 V753.1 H690.15 Z M698.72,760.77 H707.29 V737.77 H698.72 Z M707.29,760.77 H715.85 V753.1 H707.29 Z M724.42,760.77 H732.99 V753.1 H724.42 Z M767.25,760.77 H775.82 V753.1 H767.25 Z M775.82,760.77 H784.38 V753.1 H775.82 Z M792.95,760.77 H801.52 V753.1 H792.95 Z" fill="rgb(167,197,208)" shape-rendering="crispEdges"/>
<polyline points="569.3,716.64 569.87,714.89 570.44,713.1 571.02,711.27 571.59,709.4 572.16,707.49 572.73,705.55 573.3,703.57 573.88,701.56 574.45,699.52 575.02,697.46 575.59,695.37 576.16,693.25 576.74,691.12 577.31,688.96 577.88,686.79 578.45,684.6 579.02,682.4 579.59,680.18 580.17,677.96 580.74,675.73 581.31,673.49 581.88,671.25 582.45,669 583.03,666.76 583.6,664.52 584.17,662.28 584.74,660.05 585.31,657.83 585.89,655.62 586.46,653.42 587.03,651.23 587.6,649.06 588.17,646.91 588.75,644.78 589.32,642.67 589.89,640.59 590.46,638.53 591.03,636.5 591.61,634.49 592.18,632.52 592.75,630.59 593.32,628.69 593.89,626.83 594.46,625 595.04,623.22 595.61,621.49 596.18,619.79 596.75,618.14 597.32,616.54 597.9,614.99 598.47,613.48 599.04,612.03 599.61,610.62 600.18,609.27 600.76,607.97 601.33,606.73 601.9,605.54 602.47,604.41 603.04,603.33 603.62,602.32 604.19,601.36 604.76,600.47 605.33,599.64 605.9,598.87 606.48,598.17 607.05,597.54 607.62,596.97 608.19,596.47 608.76,596.04 609.34,595.68 609.91,595.4 610.48,595.18 611.05,595.04 611.62,594.98 612.19,594.99 612.77,595.08 613.34,595.25 613.91,595.5 614.48,595.83 615.05,596.25 615.63,596.74 616.2,597.33 616.77,597.99 617.34,598.75 617.91,599.59 618.49,600.52 619.06,601.53 619.63,602.62 620.2,603.78 620.77,605.02 621.35,606.33 621.92,607.71 622.49,609.15 623.06,610.66 623.63,612.23 624.21,613.86 624.78,615.54 625.35,617.28 625.92,619.06 626.49,620.9 627.06,622.77 627.64,624.69 628.21,626.65 628.78,628.65 629.35,630.68 629.92,632.74 630.5,634.83 631.07,636.94 631.64,639.08 632.21,641.24 632.78,643.41 633.36,645.6 633.93,647.79 634.5,650 635.07,652.21 635.64,654.42 636.22,656.62 636.79,658.83 637.36,661.03 637.93,663.21 638.5,665.39 639.08,667.54 639.65,669.68 640.22,671.8 640.79,673.89 641.36,675.95 641.94,677.99 642.51,679.99 643.08,681.95 643.65,683.87 644.22,685.75 644.79,687.58 645.37,689.37 645.94,691.11 646.51,692.81 647.08,694.46 647.65,696.08 648.23,697.64 648.8,699.17 649.37,700.65 649.94,702.09 650.51,703.49 651.09,704.85 651.66,706.16 652.23,707.44 652.8,708.68 653.37,709.88 653.95,711.04 654.52,712.17 655.09,713.26 655.66,714.32 656.23,715.35 656.81,716.36 657.38,717.34 657.95,718.3 658.52,719.24 659.09,720.16 659.66,721.06 660.24,721.95 660.81,722.82 661.38,723.68 661.95,724.52 662.52,725.34 663.1,726.15 663.67,726.95 664.24,727.72 664.81,728.48 665.38,729.23 665.96,729.95 666.53,730.67 667.1,731.36 667.67,732.04 668.24,732.7 668.82,733.35 669.39,733.98 669.96,734.59 670.53,735.19 671.1,735.77 671.68,736.33 672.25,736.88 672.82,737.41 673.39,737.92 673.96,738.42 674.54,738.9 675.11,739.36 675.68,739.81 676.25,740.24 676.82,740.65 677.39,741.05 677.97,741.43 678.54,741.79 679.11,742.14 679.68,742.47 680.25,742.78 680.83,743.07 681.4,743.35 681.97,743.61 682.54,743.85 683.11,744.08 683.69,744.29 684.26,744.48 684.83,744.65 685.4,744.81 685.97,744.95 686.55,745.07 687.12,745.18 687.69,745.26 688.26,745.33 688.83,745.39 689.41,745.42 689.98,745.44 690.55,745.44 691.12,745.42 691.69,745.38 692.26,745.33 692.84,745.27 693.41,745.19 693.98,745.1 694.55,745 695.12,744.88 695.7,744.76 696.27,744.64 696.84,744.5 697.41,744.36 697.98,744.22 698.56,744.08 699.13,743.93 699.7,743.78 700.27,743.64 700.84,743.5 701.42,743.36 701.99,743.22 702.56,743.09 703.13,742.97 703.7,742.86 704.28,742.75 704.85,742.66 705.42,742.57 705.99,742.49 706.56,742.43 707.14,742.37 707.71,742.32 708.28,742.29 708.85,742.26 709.42,742.24 709.99,742.23 710.57,742.22 711.14,742.23 711.71,742.25 712.28,742.27 712.85,742.31 713.43,742.35 714,742.4 714.57,742.46 715.14,742.53 715.71,742.61 716.29,742.69 716.86,742.79 717.43,742.89 718,743 718.57,743.12 719.15,743.25 719.72,743.39 720.29,743.53 720.86,743.68 721.43,743.84 722.01,744.01 722.58,744.18 723.15,744.36 723.72,744.55 724.29,744.74 724.86,744.93 725.44,745.14 726.01,745.34 726.58,745.56 727.15,745.77 727.72,745.99 728.3,746.22 728.87,746.44 729.44,746.67 730.01,746.91 730.58,747.14 731.16,747.38 731.73,747.62 732.3,747.86 732.87,748.1 733.44,748.35 734.02,748.59 734.59,748.83 735.16,749.08 735.73,749.32 736.3,749.57 736.88,749.81 737.45,750.05 738.02,750.29 738.59,750.53 739.16,750.77 739.74,751 740.31,751.23 740.88,751.46 741.45,751.68 742.02,751.91 742.59,752.12 743.17,752.34 743.74,752.55 744.31,752.75 744.88,752.95 745.45,753.14 746.03,753.33 746.6,753.51 747.17,753.69 747.74,753.86 748.31,754.02 748.89,754.17 749.46,754.32 750.03,754.46 750.6,754.59 751.17,754.71 751.75,754.83 752.32,754.94 752.89,755.04 753.46,755.13 754.03,755.21 754.61,755.29 755.18,755.36 755.75,755.43 756.32,755.49 756.89,755.54 757.46,755.59 758.04,755.63 758.61,755.67 759.18,755.7 759.75,755.73 760.32,755.75 760.9,755.76 761.47,755.78 762.04,755.79 762.61,755.79 763.18,755.8 763.76,755.79 764.33,755.79 764.9,755.78 765.47,755.77 766.04,755.76 766.62,755.74 767.19,755.73 767.76,755.71 768.33,755.69 768.9,755.67 769.48,755.65 770.05,755.62 770.62,755.6 771.19,755.57 771.76,755.55 772.34,755.52 772.91,755.5 773.48,755.47 774.05,755.45 774.62,755.43 775.19,755.4 775.77,755.38 776.34,755.37 776.91,755.35 777.48,755.33 778.05,755.32 778.63,755.31 779.2,755.3 779.77,755.29 780.34,755.29 780.91,755.29 781.49,755.3 782.06,755.31 782.63,755.32 783.2,755.33 783.77,755.35 784.35,755.38 784.92,755.41 785.49,755.44 786.06,755.48 786.63,755.53 787.21,755.58 787.78,755.64 788.35,755.7 788.92,755.77 789.49,755.85 790.06,755.93 790.64,756.02 791.21,756.12 791.78,756.22 792.35,756.34 792.92,756.46 793.5,756.58 794.07,756.72 794.64,756.87 795.21,757.02 795.78,757.18 796.36,757.36 796.93,757.54 797.5,757.73" fill="none" stroke="#808080" stroke-width="2.6" stroke-linejoin="round"/>
<polyline points="592.7,737.47 593.22,735.29 593.74,733.06 594.26,730.79 594.78,728.46 595.3,726.1 595.82,723.7 596.34,721.26 596.85,718.79 597.37,716.29 597.89,713.76 598.41,711.2 598.93,708.62 599.45,706.02 599.97,703.41 600.49,700.78 601.01,698.13 601.53,695.48 602.05,692.82 602.57,690.16 603.09,687.5 603.61,684.84 604.12,682.18 604.64,679.53 605.16,676.89 605.68,674.26 606.2,671.65 606.72,669.06 607.24,666.49 607.76,663.94 608.28,661.42 608.8,658.92 609.32,656.46 609.84,654.03 610.36,651.64 610.88,649.29 611.39,646.98 611.91,644.72 612.43,642.51 612.95,640.34 613.47,638.23 613.99,636.18 614.51,634.19 615.03,632.25 615.55,630.38 616.07,628.57 616.59,626.81 617.11,625.12 617.63,623.49 618.15,621.91 618.66,620.4 619.18,618.94 619.7,617.54 620.22,616.2 620.74,614.91 621.26,613.69 621.78,612.51 622.3,611.4 622.82,610.34 623.34,609.34 623.86,608.39 624.38,607.5 624.9,606.66 625.42,605.88 625.94,605.15 626.45,604.48 626.97,603.86 627.49,603.29 628.01,602.77 628.53,602.31 629.05,601.9 629.57,601.54 630.09,601.22 630.61,600.96 631.13,600.74 631.65,600.58 632.17,600.45 632.69,600.37 633.21,600.33 633.72,600.34 634.24,600.39 634.76,600.48 635.28,600.6 635.8,600.77 636.32,600.97 636.84,601.21 637.36,601.49 637.88,601.8 638.4,602.14 638.92,602.52 639.44,602.92 639.96,603.36 640.48,603.83 640.99,604.32 641.51,604.85 642.03,605.4 642.55,605.97 643.07,606.57 643.59,607.19 644.11,607.84 644.63,608.5 645.15,609.19 645.67,609.9 646.19,610.62 646.71,611.37 647.23,612.13 647.75,612.9 648.26,613.69 648.78,614.49 649.3,615.31 649.82,616.14 650.34,616.98 650.86,617.83 651.38,618.69 651.9,619.57 652.42,620.47 652.94,621.39 653.46,622.33 653.98,623.29 654.5,624.28 655.02,625.29 655.54,626.33 656.05,627.4 656.57,628.5 657.09,629.63 657.61,630.79 658.13,631.98 658.65,633.2 659.17,634.45 659.69,635.71 660.21,637 660.73,638.3 661.25,639.62 661.77,640.95 662.29,642.29 662.81,643.64 663.32,644.99 663.84,646.34 664.36,647.69 664.88,649.04 665.4,650.38 665.92,651.72 666.44,653.05 666.96,654.38 667.48,655.71 668,657.03 668.52,658.34 669.04,659.66 669.56,660.96 670.08,662.26 670.59,663.56 671.11,664.86 671.63,666.15 672.15,667.43 672.67,668.71 673.19,669.99 673.71,671.26 674.23,672.53 674.75,673.79 675.27,675.05 675.79,676.31 676.31,677.56 676.83,678.8 677.35,680.05 677.86,681.28 678.38,682.52 678.9,683.75 679.42,684.97 679.94,686.19 680.46,687.41 680.98,688.62 681.5,689.83 682.02,691.04 682.54,692.24 683.06,693.44 683.58,694.63 684.1,695.82 684.62,697 685.14,698.18 685.65,699.36 686.17,700.53 686.69,701.7 687.21,702.87 687.73,704.03 688.25,705.19 688.77,706.34 689.29,707.49 689.81,708.63 690.33,709.78 690.85,710.91 691.37,712.05 691.89,713.18 692.41,714.3 692.92,715.43 693.44,716.55 693.96,717.66 694.48,718.77 695,719.88 695.52,720.98 696.04,722.07 696.56,723.16 697.08,724.24 697.6,725.31 698.12,726.37 698.64,727.42 699.16,728.46 699.68,729.49 700.19,730.51 700.71,731.51 701.23,732.5 701.75,733.48 702.27,734.44 702.79,735.39 703.31,736.32 703.83,737.24 704.35,738.14 704.87,739.02 705.39,739.88 705.91,740.72 706.43,741.54 706.95,742.34 707.46,743.12 707.98,743.87 708.5,744.61 709.02,745.32 709.54,746 710.06,746.66 710.58,747.3 711.1,747.9 711.62,748.48 712.14,749.04 712.66,749.56 713.18,750.06 713.7,750.53 714.22,750.98 714.74,751.4 715.25,751.79 715.77,752.17 716.29,752.52 716.81,752.84 717.33,753.15 717.85,753.44 718.37,753.7 718.89,753.95 719.41,754.18 719.93,754.39 720.45,754.58 720.97,754.76 721.49,754.92 722.01,755.07 722.52,755.21 723.04,755.33 723.56,755.43 724.08,755.53 724.6,755.62 725.12,755.69 725.64,755.76 726.16,755.82 726.68,755.87 727.2,755.91 727.72,755.95 728.24,755.98 728.76,756 729.28,756.03 729.79,756.04 730.31,756.06 730.83,756.07 731.35,756.09 731.87,756.1 732.39,756.11 732.91,756.13 733.43,756.14 733.95,756.16 734.47,756.18 734.99,756.2 735.51,756.23 736.03,756.26 736.55,756.29 737.06,756.32 737.58,756.36 738.1,756.39 738.62,756.43 739.14,756.47 739.66,756.51 740.18,756.55 740.7,756.59 741.22,756.64 741.74,756.68 742.26,756.72 742.78,756.77 743.3,756.81 743.82,756.85 744.34,756.9 744.85,756.94 745.37,756.98 745.89,757.02 746.41,757.06 746.93,757.1 747.45,757.14 747.97,757.17 748.49,757.21 749.01,757.24 749.53,757.27 750.05,757.3 750.57,757.32 751.09,757.34 751.61,757.36 752.12,757.38 752.64,757.39 753.16,757.4 753.68,757.41 754.2,757.41 754.72,757.41 755.24,757.41 755.76,757.4 756.28,757.38 756.8,757.37 757.32,757.34 757.84,757.32 758.36,757.28 758.88,757.25 759.39,757.21 759.91,757.16 760.43,757.11 760.95,757.06 761.47,757.01 761.99,756.95 762.51,756.89 763.03,756.82 763.55,756.75 764.07,756.68 764.59,756.61 765.11,756.54 765.63,756.46 766.15,756.38 766.66,756.3 767.18,756.21 767.7,756.13 768.22,756.04 768.74,755.96 769.26,755.87 769.78,755.78 770.3,755.69 770.82,755.59 771.34,755.5 771.86,755.41 772.38,755.32 772.9,755.23 773.42,755.13 773.94,755.04 774.45,754.95 774.97,754.86 775.49,754.77 776.01,754.68 776.53,754.59 777.05,754.5 777.57,754.42 778.09,754.34 778.61,754.25 779.13,754.17 779.65,754.09 780.17,754.02 780.69,753.94 781.21,753.87 781.72,753.8 782.24,753.74 782.76,753.67 783.28,753.62 783.8,753.56 784.32,753.51 784.84,753.46 785.36,753.41 785.88,753.37 786.4,753.33 786.92,753.3 787.44,753.27 787.96,753.24 788.48,753.22 788.99,753.21 789.51,753.2 790.03,753.19 790.55,753.19 791.07,753.2 791.59,753.21 792.11,753.23 792.63,753.25 793.15,753.28 793.67,753.32 794.19,753.36 794.71,753.41 795.23,753.46 795.75,753.53 796.26,753.6 796.78,753.67 797.3,753.76 797.82,753.85 798.34,753.95 798.86,754.06 799.38,754.17 799.9,754.29" fill="none" stroke="#4ec8e8" stroke-width="2.6" stroke-linejoin="round"/>
<line x1="626.2" y1="760.6" x2="626.2" y2="404.0" stroke="#000" stroke-width="1.8" stroke-dasharray="6.21,2.69"/>
<line x1="650" y1="760.6" x2="650" y2="404.0" stroke="#ff0000" stroke-width="1.8" stroke-dasharray="6.21,2.69"/>
<rect x="501.3" y="386.8" width="386.1" height="373.8" fill="none" stroke="#000" stroke-width="1.6"/>
<line x1="518.82" y1="760.6" x2="518.82" y2="767.4" stroke="#000" stroke-width="1.6"/>
<g font-family="Liberation Sans, sans-serif" font-size="23.52"><text x="-6.54" y="0" transform="translate(0,790.3) translate(518.82,0) scale(1.004,1)">0</text></g>
<line x1="604.49" y1="760.6" x2="604.49" y2="767.4" stroke="#000" stroke-width="1.6"/>
<g font-family="Liberation Sans, sans-serif" font-size="23.52"><text x="-6.52" y="0" transform="translate(0,790.3) translate(590,0) scale(0.947,1)">5</text><text x="-6.54" y="0" transform="translate(0,790.3) translate(604.36,0) scale(1.004,1)">0</text><text x="-6.54" y="0" transform="translate(0,790.3) translate(618.61,0) scale(1.004,1)">0</text></g>
<line x1="690.15" y1="760.6" x2="690.15" y2="767.4" stroke="#000" stroke-width="1.6"/>
<g font-family="Liberation Sans, sans-serif" font-size="23.52"><text x="-6.86" y="0" transform="translate(0,790.3) translate(668.48,0) scale(0.959,1)">1</text><text x="-6.54" y="0" transform="translate(0,790.3) translate(682.53,0) scale(1.004,1)">0</text><text x="-6.54" y="0" transform="translate(0,790.3) translate(696.79,0) scale(1.004,1)">0</text><text x="-6.54" y="0" transform="translate(0,790.3) translate(711.04,0) scale(1.004,1)">0</text></g>
<line x1="775.82" y1="760.6" x2="775.82" y2="767.4" stroke="#000" stroke-width="1.6"/>
<g font-family="Liberation Sans, sans-serif" font-size="23.52"><text x="-6.86" y="0" transform="translate(0,790.3) translate(754.15,0) scale(0.959,1)">1</text><text x="-6.52" y="0" transform="translate(0,790.3) translate(768.09,0) scale(0.947,1)">5</text><text x="-6.54" y="0" transform="translate(0,790.3) translate(782.45,0) scale(1.004,1)">0</text><text x="-6.54" y="0" transform="translate(0,790.3) translate(796.7,0) scale(1.004,1)">0</text></g>
<line x1="861.48" y1="760.6" x2="861.48" y2="767.4" stroke="#000" stroke-width="1.6"/>
<g font-family="Liberation Sans, sans-serif" font-size="23.52"><text x="-6.54" y="0" transform="translate(0,790.3) translate(839.73,0) scale(0.968,1)">2</text><text x="-6.54" y="0" transform="translate(0,790.3) translate(854.28,0) scale(1.004,1)">0</text><text x="-6.54" y="0" transform="translate(0,790.3) translate(868.53,0) scale(1.004,1)">0</text><text x="-6.54" y="0" transform="translate(0,790.3) translate(882.78,0) scale(1.004,1)">0</text></g>
<rect x="693.8" y="396.2" width="184.4" height="60.1" rx="3.5" fill="#fff" fill-opacity="0.8" stroke="#cccccc" stroke-width="1.3"/>
<line x1="699.9" y1="410.2" x2="739.6" y2="410.2" stroke="#808080" stroke-width="2.6"/>
<line x1="699.9" y1="437.7" x2="739.6" y2="437.7" stroke="#4ec8e8" stroke-width="2.6"/>
<g font-family="Liberation Sans, sans-serif" font-size="19.64"><text x="-7.44" y="0" transform="translate(0,417.6) translate(759.71,0) scale(0.911,1)">R</text><text x="-5.88" y="0" transform="translate(0,417.6) translate(771,0) scale(0.856,1)">a</text><text x="-2.18" y="0" transform="translate(0,417.6) translate(779.62,0) scale(0.974,1)">i</text><text x="-5.47" y="0" transform="translate(0,417.6) translate(788.19,0) scale(1.027,1)">n</text><text x="-7.4" y="0" transform="translate(0,417.6) translate(807.01,0) scale(0.929,1)">G</text><text x="-5.88" y="0" transform="translate(0,417.6) translate(819.94,0) scale(0.856,1)">a</text><text x="-5.45" y="0" transform="translate(0,417.6) translate(831.83,0) scale(1.027,1)">u</text><text x="-5.24" y="0" transform="translate(0,417.6) translate(843.41,0) scale(1.035,1)">g</text><text x="-5.44" y="0" transform="translate(0,417.6) translate(855.45,0) scale(1.029,1)">e</text><text x="-4.83" y="0" transform="translate(0,417.6) translate(866.11,0) scale(0.913,1)">s</text></g>
<g font-family="Liberation Sans, sans-serif" font-size="19.64"><text x="-2.73" y="0" transform="translate(0,445) translate(755.32,0) scale(1.007,1)">I</text><text x="-8.18" y="0" transform="translate(0,445) translate(766.15,0) scale(0.950,1)">M</text><text x="-6.93" y="0" transform="translate(0,445) translate(780.44,0) scale(0.850,1)">E</text><text x="-7.44" y="0" transform="translate(0,445) translate(793.17,0) scale(0.911,1)">R</text><text x="-7.4" y="0" transform="translate(0,445) translate(806.03,0) scale(0.929,1)">G</text><text x="-5.42" y="0" transform="translate(0,445) translate(818.19,0) scale(0.850,1)">_</text><text x="-5.94" y="0" transform="translate(0,445) translate(828.94,0) scale(0.980,1)">L</text></g>
<path d="M957.75,760.77 H966.32 V745.44 H957.75 Z M966.32,760.77 H974.89 V730.11 H966.32 Z M974.89,760.77 H983.45 V630.45 H974.89 Z M983.45,753.1 H992.02 V645.78 H983.45 Z M992.02,714.77 H1000.59 V615.12 H992.02 Z M1060.55,730.11 H1069.12 V714.77 H1060.55 Z M1094.82,760.77 H1103.39 V737.77 H1094.82 Z M1103.39,760.77 H1111.95 V737.77 H1103.39 Z M1111.95,760.77 H1120.52 V737.77 H1111.95 Z M1120.52,760.77 H1129.09 V753.1 H1120.52 Z M1129.09,760.77 H1137.65 V745.44 H1129.09 Z M1146.22,760.77 H1154.78 V753.1 H1146.22 Z M1163.35,760.77 H1171.92 V753.1 H1163.35 Z M1171.92,760.77 H1180.48 V753.1 H1171.92 Z M1189.05,760.77 H1197.62 V753.1 H1189.05 Z" fill="rgb(191,191,191)" shape-rendering="crispEdges"/><path d="M1000.59,538.46 H1009.15 V438.8 H1000.59 Z M1009.15,553.79 H1017.72 V523.12 H1009.15 Z M1017.72,630.45 H1026.29 V515.46 H1017.72 Z M1026.29,645.78 H1034.85 V454.13 H1026.29 Z M1034.85,691.78 H1043.42 V638.11 H1034.85 Z M1051.99,745.44 H1060.55 V737.77 H1051.99 Z M1069.12,745.44 H1077.69 V737.77 H1069.12 Z M1077.69,753.1 H1086.25 V745.44 H1077.69 Z M1086.25,753.1 H1094.82 V745.44 H1086.25 Z" fill="rgb(160,216,181)" shape-rendering="crispEdges"/><path d="M983.45,760.77 H992.02 V753.1 H983.45 Z M992.02,760.77 H1000.59 V714.77 H992.02 Z M1000.59,760.77 H1009.15 V538.46 H1000.59 Z M1009.15,760.77 H1017.72 V553.79 H1009.15 Z M1017.72,760.77 H1026.29 V630.45 H1017.72 Z M1026.29,760.77 H1034.85 V645.78 H1026.29 Z M1034.85,760.77 H1043.42 V691.78 H1034.85 Z M1043.42,760.77 H1051.99 V730.11 H1043.42 Z M1051.99,760.77 H1060.55 V745.44 H1051.99 Z M1060.55,760.77 H1069.12 V730.11 H1060.55 Z M1069.12,760.77 H1077.69 V745.44 H1069.12 Z M1077.69,760.77 H1086.25 V753.1 H1077.69 Z M1086.25,760.77 H1094.82 V753.1 H1086.25 Z" fill="rgb(120,178,140)" shape-rendering="crispEdges"/>
<polyline points="965.4,716.64 965.97,714.89 966.54,713.1 967.12,711.27 967.69,709.4 968.26,707.49 968.83,705.55 969.4,703.57 969.98,701.56 970.55,699.52 971.12,697.46 971.69,695.37 972.26,693.25 972.84,691.12 973.41,688.96 973.98,686.79 974.55,684.6 975.12,682.4 975.69,680.18 976.27,677.96 976.84,675.73 977.41,673.49 977.98,671.25 978.55,669 979.13,666.76 979.7,664.52 980.27,662.28 980.84,660.05 981.41,657.83 981.99,655.62 982.56,653.42 983.13,651.23 983.7,649.06 984.27,646.91 984.85,644.78 985.42,642.67 985.99,640.59 986.56,638.53 987.13,636.5 987.71,634.49 988.28,632.52 988.85,630.59 989.42,628.69 989.99,626.83 990.56,625 991.14,623.22 991.71,621.49 992.28,619.79 992.85,618.14 993.42,616.54 994,614.99 994.57,613.48 995.14,612.03 995.71,610.62 996.28,609.27 996.86,607.97 997.43,606.73 998,605.54 998.57,604.41 999.14,603.33 999.72,602.32 1000.29,601.36 1000.86,600.47 1001.43,599.64 1002,598.87 1002.58,598.17 1003.15,597.54 1003.72,596.97 1004.29,596.47 1004.86,596.04 1005.44,595.68 1006.01,595.4 1006.58,595.18 1007.15,595.04 1007.72,594.98 1008.29,594.99 1008.87,595.08 1009.44,595.25 1010.01,595.5 1010.58,595.83 1011.15,596.25 1011.73,596.74 1012.3,597.33 1012.87,597.99 1013.44,598.75 1014.01,599.59 1014.59,600.52 1015.16,601.53 1015.73,602.62 1016.3,603.78 1016.87,605.02 1017.45,606.33 1018.02,607.71 1018.59,609.15 1019.16,610.66 1019.73,612.23 1020.31,613.86 1020.88,615.54 1021.45,617.28 1022.02,619.06 1022.59,620.9 1023.16,622.77 1023.74,624.69 1024.31,626.65 1024.88,628.65 1025.45,630.68 1026.02,632.74 1026.6,634.83 1027.17,636.94 1027.74,639.08 1028.31,641.24 1028.88,643.41 1029.46,645.6 1030.03,647.79 1030.6,650 1031.17,652.21 1031.74,654.42 1032.32,656.62 1032.89,658.83 1033.46,661.03 1034.03,663.21 1034.6,665.39 1035.18,667.54 1035.75,669.68 1036.32,671.8 1036.89,673.89 1037.46,675.95 1038.04,677.99 1038.61,679.99 1039.18,681.95 1039.75,683.87 1040.32,685.75 1040.89,687.58 1041.47,689.37 1042.04,691.11 1042.61,692.81 1043.18,694.46 1043.75,696.08 1044.33,697.64 1044.9,699.17 1045.47,700.65 1046.04,702.09 1046.61,703.49 1047.19,704.85 1047.76,706.16 1048.33,707.44 1048.9,708.68 1049.47,709.88 1050.05,711.04 1050.62,712.17 1051.19,713.26 1051.76,714.32 1052.33,715.35 1052.91,716.36 1053.48,717.34 1054.05,718.3 1054.62,719.24 1055.19,720.16 1055.76,721.06 1056.34,721.95 1056.91,722.82 1057.48,723.68 1058.05,724.52 1058.62,725.34 1059.2,726.15 1059.77,726.95 1060.34,727.72 1060.91,728.48 1061.48,729.23 1062.06,729.95 1062.63,730.67 1063.2,731.36 1063.77,732.04 1064.34,732.7 1064.92,733.35 1065.49,733.98 1066.06,734.59 1066.63,735.19 1067.2,735.77 1067.78,736.33 1068.35,736.88 1068.92,737.41 1069.49,737.92 1070.06,738.42 1070.64,738.9 1071.21,739.36 1071.78,739.81 1072.35,740.24 1072.92,740.65 1073.49,741.05 1074.07,741.43 1074.64,741.79 1075.21,742.14 1075.78,742.47 1076.35,742.78 1076.93,743.07 1077.5,743.35 1078.07,743.61 1078.64,743.85 1079.21,744.08 1079.79,744.29 1080.36,744.48 1080.93,744.65 1081.5,744.81 1082.07,744.95 1082.65,745.07 1083.22,745.18 1083.79,745.26 1084.36,745.33 1084.93,745.39 1085.51,745.42 1086.08,745.44 1086.65,745.44 1087.22,745.42 1087.79,745.38 1088.36,745.33 1088.94,745.27 1089.51,745.19 1090.08,745.1 1090.65,745 1091.22,744.88 1091.8,744.76 1092.37,744.64 1092.94,744.5 1093.51,744.36 1094.08,744.22 1094.66,744.08 1095.23,743.93 1095.8,743.78 1096.37,743.64 1096.94,743.5 1097.52,743.36 1098.09,743.22 1098.66,743.09 1099.23,742.97 1099.8,742.86 1100.38,742.75 1100.95,742.66 1101.52,742.57 1102.09,742.49 1102.66,742.43 1103.24,742.37 1103.81,742.32 1104.38,742.29 1104.95,742.26 1105.52,742.24 1106.09,742.23 1106.67,742.22 1107.24,742.23 1107.81,742.25 1108.38,742.27 1108.95,742.31 1109.53,742.35 1110.1,742.4 1110.67,742.46 1111.24,742.53 1111.81,742.61 1112.39,742.69 1112.96,742.79 1113.53,742.89 1114.1,743 1114.67,743.12 1115.25,743.25 1115.82,743.39 1116.39,743.53 1116.96,743.68 1117.53,743.84 1118.11,744.01 1118.68,744.18 1119.25,744.36 1119.82,744.55 1120.39,744.74 1120.96,744.93 1121.54,745.14 1122.11,745.34 1122.68,745.56 1123.25,745.77 1123.82,745.99 1124.4,746.22 1124.97,746.44 1125.54,746.67 1126.11,746.91 1126.68,747.14 1127.26,747.38 1127.83,747.62 1128.4,747.86 1128.97,748.1 1129.54,748.35 1130.12,748.59 1130.69,748.83 1131.26,749.08 1131.83,749.32 1132.4,749.57 1132.98,749.81 1133.55,750.05 1134.12,750.29 1134.69,750.53 1135.26,750.77 1135.84,751 1136.41,751.23 1136.98,751.46 1137.55,751.68 1138.12,751.91 1138.69,752.12 1139.27,752.34 1139.84,752.55 1140.41,752.75 1140.98,752.95 1141.55,753.14 1142.13,753.33 1142.7,753.51 1143.27,753.69 1143.84,753.86 1144.41,754.02 1144.99,754.17 1145.56,754.32 1146.13,754.46 1146.7,754.59 1147.27,754.71 1147.85,754.83 1148.42,754.94 1148.99,755.04 1149.56,755.13 1150.13,755.21 1150.71,755.29 1151.28,755.36 1151.85,755.43 1152.42,755.49 1152.99,755.54 1153.56,755.59 1154.14,755.63 1154.71,755.67 1155.28,755.7 1155.85,755.73 1156.42,755.75 1157,755.76 1157.57,755.78 1158.14,755.79 1158.71,755.79 1159.28,755.8 1159.86,755.79 1160.43,755.79 1161,755.78 1161.57,755.77 1162.14,755.76 1162.72,755.74 1163.29,755.73 1163.86,755.71 1164.43,755.69 1165,755.67 1165.58,755.65 1166.15,755.62 1166.72,755.6 1167.29,755.57 1167.86,755.55 1168.44,755.52 1169.01,755.5 1169.58,755.47 1170.15,755.45 1170.72,755.43 1171.29,755.4 1171.87,755.38 1172.44,755.37 1173.01,755.35 1173.58,755.33 1174.15,755.32 1174.73,755.31 1175.3,755.3 1175.87,755.29 1176.44,755.29 1177.01,755.29 1177.59,755.3 1178.16,755.31 1178.73,755.32 1179.3,755.33 1179.87,755.35 1180.45,755.38 1181.02,755.41 1181.59,755.44 1182.16,755.48 1182.73,755.53 1183.31,755.58 1183.88,755.64 1184.45,755.7 1185.02,755.77 1185.59,755.85 1186.16,755.93 1186.74,756.02 1187.31,756.12 1187.88,756.22 1188.45,756.34 1189.02,756.46 1189.6,756.58 1190.17,756.72 1190.74,756.87 1191.31,757.02 1191.88,757.18 1192.46,757.36 1193.03,757.54 1193.6,757.73" fill="none" stroke="#808080" stroke-width="2.6" stroke-linejoin="round"/>
<polyline points="989.2,737 989.47,733.84 989.74,730.68 990.01,727.53 990.29,724.39 990.56,721.24 990.83,718.08 991.1,714.91 991.37,711.73 991.63,708.53 991.9,705.3 992.18,701.9 992.45,698.48 992.73,695.03 993,691.57 993.27,688.1 993.54,684.62 993.81,681.13 994.07,677.65 994.34,674.17 994.6,670.7 994.86,667.23 995.12,663.76 995.37,660.29 995.62,656.82 995.88,653.35 996.12,649.88 996.37,646.41 996.62,642.94 996.86,639.47 997.1,636 997.34,632.52 997.58,629.04 997.81,625.55 998.05,622.06 998.28,618.57 998.51,615.09 998.73,611.62 998.96,608.16 999.18,604.72 999.4,601.3 999.61,597.94 999.82,594.47 1000.03,590.93 1000.23,587.39 1000.44,583.89 1000.64,580.5 1000.84,577.27 1001.03,574.26 1001.22,571.52 1001.4,569.1 1001.49,567.97 1001.59,566.96 1001.68,566.02 1001.77,565.16 1001.86,564.33 1001.95,563.52 1002.04,562.71 1002.12,561.86 1002.21,560.97 1002.3,560 1002.41,558.7 1002.52,557.36 1002.63,555.98 1002.75,554.56 1002.86,553.11 1002.97,551.64 1003.08,550.16 1003.18,548.67 1003.29,547.18 1003.4,545.7 1003.51,544.12 1003.62,542.52 1003.74,540.91 1003.85,539.29 1003.95,537.66 1004.06,536.03 1004.17,534.39 1004.28,532.76 1004.39,531.12 1004.5,529.5 1004.61,527.88 1004.72,526.25 1004.83,524.62 1004.94,523 1005.05,521.37 1005.16,519.74 1005.28,518.12 1005.38,516.51 1005.49,514.9 1005.6,513.3 1005.7,511.75 1005.79,510.19 1005.87,508.62 1005.95,507.06 1006.04,505.5 1006.12,503.97 1006.22,502.45 1006.33,500.96 1006.46,499.51 1006.6,498.1 1006.73,496.92 1006.87,495.75 1007,494.58 1007.15,493.43 1007.3,492.3 1007.47,491.21 1007.65,490.15 1007.85,489.14 1008.06,488.19 1008.3,487.3 1008.48,486.68 1008.66,486.04 1008.85,485.38 1009.05,484.75 1009.26,484.14 1009.47,483.6 1009.7,483.13 1009.92,482.76 1010.16,482.51 1010.4,482.4 1010.61,482.42 1010.82,482.54 1011.05,482.73 1011.29,482.98 1011.52,483.29 1011.76,483.63 1011.99,484 1012.21,484.38 1012.41,484.75 1012.6,485.1 1012.81,485.55 1013,486.04 1013.17,486.55 1013.33,487.09 1013.47,487.65 1013.61,488.23 1013.74,488.82 1013.89,489.41 1014.04,490.01 1014.2,490.6 1014.4,491.31 1014.61,492.05 1014.83,492.81 1015.04,493.58 1015.26,494.36 1015.48,495.14 1015.71,495.91 1015.94,496.67 1016.17,497.4 1016.4,498.1 1016.6,498.69 1016.78,499.29 1016.97,499.88 1017.15,500.47 1017.34,501.04 1017.54,501.59 1017.75,502.12 1017.98,502.62 1018.23,503.08 1018.5,503.5 1018.73,503.81 1018.98,504.13 1019.25,504.44 1019.52,504.74 1019.8,505.01 1020.09,505.25 1020.37,505.45 1020.66,505.6 1020.93,505.68 1021.2,505.7 1021.49,505.61 1021.77,505.42 1022.04,505.13 1022.32,504.78 1022.59,504.39 1022.86,503.97 1023.14,503.55 1023.42,503.15 1023.71,502.79 1024,502.5 1024.26,502.27 1024.53,502.03 1024.81,501.78 1025.09,501.55 1025.38,501.32 1025.66,501.13 1025.93,500.97 1026.2,500.85 1026.46,500.79 1026.7,500.8 1026.94,500.88 1027.18,501.02 1027.41,501.22 1027.63,501.46 1027.85,501.75 1028.05,502.07 1028.25,502.41 1028.44,502.77 1028.63,503.13 1028.8,503.5 1029.04,504.08 1029.24,504.73 1029.42,505.42 1029.58,506.17 1029.73,506.95 1029.86,507.76 1029.99,508.59 1030.12,509.42 1030.25,510.27 1030.4,511.1 1030.58,512.1 1030.76,513.12 1030.93,514.17 1031.11,515.23 1031.28,516.31 1031.45,517.41 1031.61,518.52 1031.78,519.64 1031.94,520.77 1032.1,521.9 1032.27,523.15 1032.44,524.41 1032.61,525.69 1032.77,526.99 1032.93,528.29 1033.09,529.6 1033.25,530.92 1033.4,532.25 1033.55,533.57 1033.7,534.9 1033.85,536.29 1034.01,537.71 1034.17,539.14 1034.32,540.58 1034.47,542.02 1034.62,543.46 1034.75,544.88 1034.88,546.28 1035,547.66 1035.1,549 1035.18,550.14 1035.24,551.25 1035.3,552.33 1035.34,553.39 1035.38,554.45 1035.42,555.51 1035.46,556.59 1035.5,557.69 1035.55,558.82 1035.6,560 1035.67,561.49 1035.74,563.04 1035.82,564.63 1035.9,566.25 1035.97,567.9 1036.06,569.57 1036.14,571.24 1036.22,572.91 1036.31,574.56 1036.4,576.2 1036.49,577.83 1036.59,579.46 1036.68,581.09 1036.78,582.72 1036.88,584.35 1036.98,585.98 1037.09,587.61 1037.19,589.24 1037.29,590.87 1037.4,592.5 1037.5,594.12 1037.61,595.74 1037.72,597.36 1037.82,598.98 1037.93,600.6 1038.04,602.22 1038.15,603.84 1038.27,605.46 1038.38,607.08 1038.5,608.7 1038.62,610.32 1038.75,611.94 1038.87,613.56 1039,615.18 1039.13,616.8 1039.26,618.42 1039.4,620.04 1039.53,621.66 1039.67,623.28 1039.8,624.9 1039.94,626.55 1040.08,628.23 1040.23,629.94 1040.38,631.66 1040.53,633.36 1040.68,635.03 1040.82,636.66 1040.96,638.23 1041.09,639.71 1041.2,641.1 1041.27,641.99 1041.34,642.82 1041.4,643.61 1041.46,644.35 1041.52,645.08 1041.57,645.81 1041.63,646.55 1041.68,647.32 1041.74,648.13 1041.8,649 1041.88,650.23 1041.96,651.52 1042.03,652.85 1042.11,654.23 1042.18,655.64 1042.26,657.08 1042.34,658.54 1042.42,660.02 1042.51,661.51 1042.6,663 1042.7,664.72 1042.81,666.47 1042.92,668.26 1043.03,670.08 1043.14,671.91 1043.26,673.75 1043.39,675.6 1043.52,677.45 1043.65,679.28 1043.8,681.1 1043.95,682.91 1044.11,684.73 1044.27,686.55 1044.44,688.37 1044.61,690.19 1044.79,692 1044.98,693.8 1045.18,695.59 1045.39,697.35 1045.6,699.1 1045.81,700.72 1046.03,702.33 1046.25,703.94 1046.49,705.53 1046.73,707.11 1046.97,708.68 1047.22,710.22 1047.48,711.74 1047.74,713.24 1048,714.7 1048.23,715.96 1048.44,717.2 1048.66,718.43 1048.87,719.64 1049.09,720.83 1049.33,722 1049.58,723.16 1049.86,724.29 1050.16,725.41 1050.5,726.5 1050.82,727.5 1051.15,728.53 1051.49,729.57 1051.85,730.6 1052.22,731.6 1052.62,732.55 1053.06,733.44 1053.53,734.24 1054.04,734.93 1054.6,735.5 1055.06,735.84 1055.55,736.11 1056.06,736.33 1056.6,736.5 1057.15,736.62 1057.71,736.72 1058.29,736.8 1058.86,736.87 1059.43,736.93 1060,737 1060.59,737.07 1061.2,737.11 1061.81,737.12 1062.43,737.13 1063.05,737.11 1063.67,737.09 1064.29,737.07 1064.9,737.04 1065.51,737.02 1066.1,737 1066.64,736.98 1067.18,736.95 1067.71,736.92 1068.23,736.88 1068.75,736.84 1069.27,736.81 1069.8,736.78 1070.32,736.77 1070.86,736.77 1071.4,736.8 1072,736.85 1072.61,736.9 1073.22,736.97 1073.84,737.06 1074.47,737.16 1075.09,737.27 1075.71,737.4 1076.32,737.55 1076.91,737.71 1077.5,737.9 1078.07,738.11 1078.64,738.33 1079.2,738.57 1079.76,738.83 1080.31,739.11 1080.86,739.4 1081.39,739.71 1081.91,740.03 1082.41,740.36 1082.9,740.7 1083.36,741.05 1083.79,741.42 1084.21,741.81 1084.62,742.21 1085.02,742.62 1085.41,743.04 1085.81,743.46 1086.2,743.88 1086.6,744.29 1087,744.7" fill="none" stroke="#008000" stroke-width="2.6" stroke-linejoin="round"/>
<line x1="1022.3" y1="760.6" x2="1022.3" y2="404.0" stroke="#000" stroke-width="1.8" stroke-dasharray="6.21,2.69"/>
<line x1="1024.6" y1="760.6" x2="1024.6" y2="404.0" stroke="#ff0000" stroke-width="1.8" stroke-dasharray="6.21,2.69"/>
<rect x="897.4" y="386.8" width="386.1" height="373.8" fill="none" stroke="#000" stroke-width="1.6"/>
<line x1="914.92" y1="760.6" x2="914.92" y2="767.4" stroke="#000" stroke-width="1.6"/>
<g font-family="Liberation Sans, sans-serif" font-size="23.52"><text x="-6.54" y="0" transform="translate(0,790.3) translate(914.92,0) scale(1.004,1)">0</text></g>
<line x1="1000.59" y1="760.6" x2="1000.59" y2="767.4" stroke="#000" stroke-width="1.6"/>
<g font-family="Liberation Sans, sans-serif" font-size="23.52"><text x="-6.52" y="0" transform="translate(0,790.3) translate(986.1,0) scale(0.947,1)">5</text><text x="-6.54" y="0" transform="translate(0,790.3) translate(1000.46,0) scale(1.004,1)">0</text><text x="-6.54" y="0" transform="translate(0,790.3) translate(1014.71,0) scale(1.004,1)">0</text></g>
<line x1="1086.25" y1="760.6" x2="1086.25" y2="767.4" stroke="#000" stroke-width="1.6"/>
<g font-family="Liberation Sans, sans-serif" font-size="23.52"><text x="-6.86" y="0" transform="translate(0,790.3) translate(1064.58,0) scale(0.959,1)">1</text><text x="-6.54" y="0" transform="translate(0,790.3) translate(1078.63,0) scale(1.004,1)">0</text><text x="-6.54" y="0" transform="translate(0,790.3) translate(1092.89,0) scale(1.004,1)">0</text><text x="-6.54" y="0" transform="translate(0,790.3) translate(1107.14,0) scale(1.004,1)">0</text></g>
<line x1="1171.92" y1="760.6" x2="1171.92" y2="767.4" stroke="#000" stroke-width="1.6"/>
<g font-family="Liberation Sans, sans-serif" font-size="23.52"><text x="-6.86" y="0" transform="translate(0,790.3) translate(1150.25,0) scale(0.959,1)">1</text><text x="-6.52" y="0" transform="translate(0,790.3) translate(1164.19,0) scale(0.947,1)">5</text><text x="-6.54" y="0" transform="translate(0,790.3) translate(1178.55,0) scale(1.004,1)">0</text><text x="-6.54" y="0" transform="translate(0,790.3) translate(1192.8,0) scale(1.004,1)">0</text></g>
<line x1="1257.58" y1="760.6" x2="1257.58" y2="767.4" stroke="#000" stroke-width="1.6"/>
<g font-family="Liberation Sans, sans-serif" font-size="23.52"><text x="-6.54" y="0" transform="translate(0,790.3) translate(1235.83,0) scale(0.968,1)">2</text><text x="-6.54" y="0" transform="translate(0,790.3) translate(1250.38,0) scale(1.004,1)">0</text><text x="-6.54" y="0" transform="translate(0,790.3) translate(1264.63,0) scale(1.004,1)">0</text><text x="-6.54" y="0" transform="translate(0,790.3) translate(1278.88,0) scale(1.004,1)">0</text></g>
<rect x="1089.9" y="396.2" width="184.4" height="60.1" rx="3.5" fill="#fff" fill-opacity="0.8" stroke="#cccccc" stroke-width="1.3"/>
<line x1="1096" y1="410.2" x2="1135.7" y2="410.2" stroke="#808080" stroke-width="2.6"/>
<line x1="1096" y1="437.7" x2="1135.7" y2="437.7" stroke="#008000" stroke-width="2.6"/>
<g font-family="Liberation Sans, sans-serif" font-size="19.64"><text x="-7.44" y="0" transform="translate(0,417.6) translate(1155.81,0) scale(0.911,1)">R</text><text x="-5.88" y="0" transform="translate(0,417.6) translate(1167.1,0) scale(0.856,1)">a</text><text x="-2.18" y="0" transform="translate(0,417.6) translate(1175.72,0) scale(0.974,1)">i</text><text x="-5.47" y="0" transform="translate(0,417.6) translate(1184.29,0) scale(1.027,1)">n</text><text x="-7.4" y="0" transform="translate(0,417.6) translate(1203.11,0) scale(0.929,1)">G</text><text x="-5.88" y="0" transform="translate(0,417.6) translate(1216.04,0) scale(0.856,1)">a</text><text x="-5.45" y="0" transform="translate(0,417.6) translate(1227.93,0) scale(1.027,1)">u</text><text x="-5.24" y="0" transform="translate(0,417.6) translate(1239.51,0) scale(1.035,1)">g</text><text x="-5.44" y="0" transform="translate(0,417.6) translate(1251.55,0) scale(1.029,1)">e</text><text x="-4.83" y="0" transform="translate(0,417.6) translate(1262.21,0) scale(0.913,1)">s</text></g>
<g font-family="Liberation Sans, sans-serif" font-size="19.64"><text x="-2.73" y="0" transform="translate(0,445) translate(1151.42,0) scale(1.007,1)">I</text><text x="-8.18" y="0" transform="translate(0,445) translate(1162.25,0) scale(0.950,1)">M</text><text x="-6.93" y="0" transform="translate(0,445) translate(1176.54,0) scale(0.850,1)">E</text><text x="-7.44" y="0" transform="translate(0,445) translate(1189.27,0) scale(0.911,1)">R</text><text x="-7.4" y="0" transform="translate(0,445) translate(1202.13,0) scale(0.929,1)">G</text><text x="-5.42" y="0" transform="translate(0,445) translate(1214.29,0) scale(0.850,1)">_</text><text x="-6.41" y="0" transform="translate(0,445) translate(1224.72,0) scale(0.850,1)">F</text></g>
<line x1="98.4" y1="689.35" x2="105.2" y2="689.35" stroke="#000" stroke-width="1.6"/>
<g font-family="Liberation Sans, sans-serif" font-size="23.52"><text x="-6.54" y="0" transform="translate(0,697.65) translate(49.3,0) scale(1.004,1)">0</text><text x="-3.27" y="0" transform="translate(0,697.65) translate(59.98,0) scale(1.031,1)">.</text><text x="-6.54" y="0" transform="translate(0,697.65) translate(70.67,0) scale(1.004,1)">0</text><text x="-6.52" y="0" transform="translate(0,697.65) translate(84.82,0) scale(0.947,1)">5</text></g>
<line x1="98.4" y1="618.1" x2="105.2" y2="618.1" stroke="#000" stroke-width="1.6"/>
<g font-family="Liberation Sans, sans-serif" font-size="23.52"><text x="-6.54" y="0" transform="translate(0,626.4) translate(48.83,0) scale(1.004,1)">0</text><text x="-3.27" y="0" transform="translate(0,626.4) translate(59.51,0) scale(1.031,1)">.</text><text x="-6.86" y="0" transform="translate(0,626.4) translate(70.41,0) scale(0.959,1)">1</text><text x="-6.54" y="0" transform="translate(0,626.4) translate(84.46,0) scale(1.004,1)">0</text></g>
<line x1="98.4" y1="546.85" x2="105.2" y2="546.85" stroke="#000" stroke-width="1.6"/>
<g font-family="Liberation Sans, sans-serif" font-size="23.52"><text x="-6.54" y="0" transform="translate(0,555.15) translate(49.3,0) scale(1.004,1)">0</text><text x="-3.27" y="0" transform="translate(0,555.15) translate(59.98,0) scale(1.031,1)">.</text><text x="-6.86" y="0" transform="translate(0,555.15) translate(70.88,0) scale(0.959,1)">1</text><text x="-6.52" y="0" transform="translate(0,555.15) translate(84.82,0) scale(0.947,1)">5</text></g>
<line x1="98.4" y1="475.6" x2="105.2" y2="475.6" stroke="#000" stroke-width="1.6"/>
<g font-family="Liberation Sans, sans-serif" font-size="23.52"><text x="-6.54" y="0" transform="translate(0,483.9) translate(48.83,0) scale(1.004,1)">0</text><text x="-3.27" y="0" transform="translate(0,483.9) translate(59.51,0) scale(1.031,1)">.</text><text x="-6.54" y="0" transform="translate(0,483.9) translate(69.91,0) scale(0.968,1)">2</text><text x="-6.54" y="0" transform="translate(0,483.9) translate(84.46,0) scale(1.004,1)">0</text></g>
<line x1="98.4" y1="404.35" x2="105.2" y2="404.35" stroke="#000" stroke-width="1.6"/>
<g font-family="Liberation Sans, sans-serif" font-size="23.52"><text x="-6.54" y="0" transform="translate(0,412.65) translate(49.3,0) scale(1.004,1)">0</text><text x="-3.27" y="0" transform="translate(0,412.65) translate(59.98,0) scale(1.031,1)">.</text><text x="-6.54" y="0" transform="translate(0,412.65) translate(70.38,0) scale(0.968,1)">2</text><text x="-6.52" y="0" transform="translate(0,412.65) translate(84.82,0) scale(0.947,1)">5</text></g>
<g font-family="Liberation Sans, sans-serif" font-size="23.52"><text x="-8.19" y="0" transform="translate(32.4,575.15) rotate(-90) translate(-52.94,0) scale(0.850,1)">P</text><text x="-4.5" y="0" transform="translate(32.4,575.15) rotate(-90) translate(-41.28,0) scale(1.220,1)">r</text><text x="-6.54" y="0" transform="translate(32.4,575.15) rotate(-90) translate(-30.84,0) scale(1.012,1)">o</text><text x="-6.8" y="0" transform="translate(32.4,575.15) rotate(-90) translate(-16.48,0) scale(1.036,1)">b</text><text x="-7.04" y="0" transform="translate(32.4,575.15) rotate(-90) translate(-3.25,0) scale(0.856,1)">a</text><text x="-6.8" y="0" transform="translate(32.4,575.15) rotate(-90) translate(11.47,0) scale(1.036,1)">b</text><text x="-2.61" y="0" transform="translate(32.4,575.15) rotate(-90) translate(21.29,0) scale(0.974,1)">i</text><text x="-2.62" y="0" transform="translate(32.4,575.15) rotate(-90) translate(27.51,0) scale(0.974,1)">l</text><text x="-2.61" y="0" transform="translate(32.4,575.15) rotate(-90) translate(33.74,0) scale(0.974,1)">i</text><text x="-3.36" y="0" transform="translate(32.4,575.15) rotate(-90) translate(41.27,0) scale(1.273,1)">t</text><text x="-5.89" y="0" transform="translate(32.4,575.15) rotate(-90) translate(52.25,0) scale(1.023,1)">y</text></g>
<g font-family="Liberation Sans, sans-serif" font-size="23.52"><text x="-9.8" y="0" transform="translate(0,819.9) translate(654.38,0) scale(1.085,1)">m</text><text x="-9.8" y="0" transform="translate(0,819.9) translate(676.2,0) scale(1.085,1)">m</text><text x="-3.27" y="0" transform="translate(0,819.9) translate(690.82,0) scale(1.155,1)">/</text><text x="-5.89" y="0" transform="translate(0,819.9) translate(701.22,0) scale(1.023,1)">y</text><text x="-6.52" y="0" transform="translate(0,819.9) translate(714.76,0) scale(1.029,1)">e</text><text x="-7.04" y="0" transform="translate(0,819.9) translate(728.15,0) scale(0.856,1)">a</text><text x="-4.5" y="0" transform="translate(0,819.9) translate(740.98,0) scale(1.220,1)">r</text></g>
</svg></body></html>
